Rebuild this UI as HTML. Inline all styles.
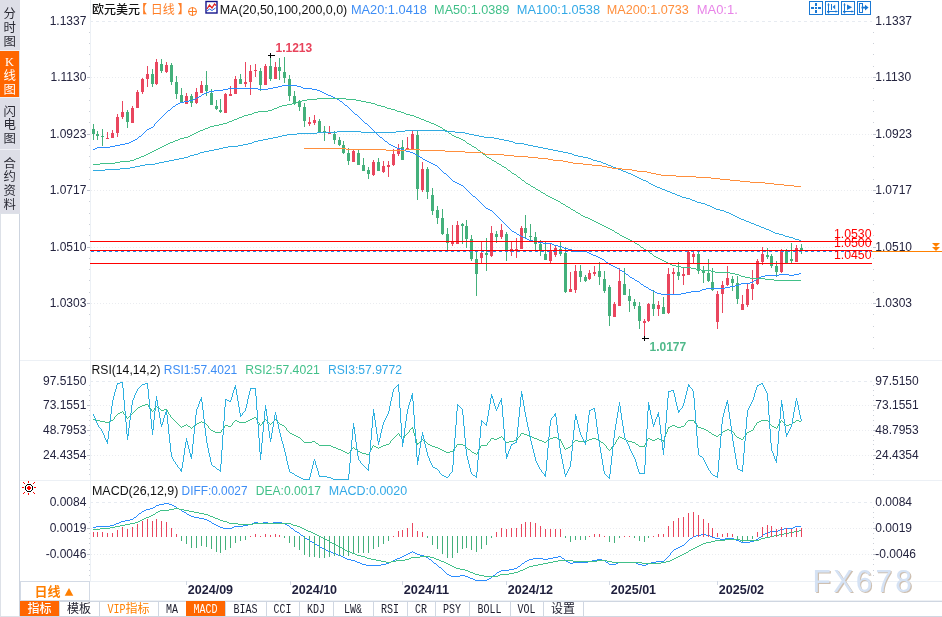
<!DOCTYPE html>
<html lang="zh"><head><meta charset="utf-8"><title>欧元美元 日线</title>
<style>html,body{margin:0;padding:0;background:#fff}body{width:942px;height:617px;overflow:hidden}svg{display:block}text{font-family:'Liberation Sans','Noto Sans CJK SC',sans-serif}</style>
</head><body>
<svg width="942" height="617" viewBox="0 0 942 617">
<rect width="942" height="617" fill="#fff"/>
<g id="sidebar">
<rect x="0" y="0" width="20" height="213" fill="#dddee7"/>
<rect x="0" y="51" width="19" height="46" fill="#ff6600"/>
<rect x="0" y="97" width="20" height="1" fill="#eff0f5" shape-rendering="crispEdges"/>
<rect x="0" y="149" width="20" height="1" fill="#eff0f5" shape-rendering="crispEdges"/>
<rect x="0" y="50" width="20" height="1" fill="#eff0f5" shape-rendering="crispEdges"/>
<rect x="0" y="213" width="1" height="404" fill="#dde1e8" shape-rendering="crispEdges"/>
<rect x="19" y="213" width="1" height="404" fill="#cdd4df" shape-rendering="crispEdges"/>
<rect x="0" y="213" width="20" height="1" fill="#dde1e8" shape-rendering="crispEdges"/>
<rect x="0" y="616" width="20" height="1" fill="#dde1e8" shape-rendering="crispEdges"/>
<text x="9.6" y="18.0" font-size="12.4" text-anchor="middle" fill="#2a2a34">分</text>
<text x="9.6" y="31.8" font-size="12.4" text-anchor="middle" fill="#2a2a34">时</text>
<text x="9.6" y="45.6" font-size="12.4" text-anchor="middle" fill="#2a2a34">图</text>
<text x="9.6" y="66.2" font-size="12.4" text-anchor="middle" fill="#fff" style="font-family:'Liberation Serif',serif">K</text>
<text x="9.6" y="80.0" font-size="12.4" text-anchor="middle" fill="#fff">线</text>
<text x="9.6" y="93.8" font-size="12.4" text-anchor="middle" fill="#fff">图</text>
<text x="9.6" y="115.6" font-size="12.4" text-anchor="middle" fill="#2a2a34">闪</text>
<text x="9.6" y="129.4" font-size="12.4" text-anchor="middle" fill="#2a2a34">电</text>
<text x="9.6" y="143.2" font-size="12.4" text-anchor="middle" fill="#2a2a34">图</text>
<text x="9.6" y="167.6" font-size="12.4" text-anchor="middle" fill="#2a2a34">合</text>
<text x="9.6" y="181.4" font-size="12.4" text-anchor="middle" fill="#2a2a34">约</text>
<text x="9.6" y="195.2" font-size="12.4" text-anchor="middle" fill="#2a2a34">资</text>
<text x="9.6" y="209.0" font-size="12.4" text-anchor="middle" fill="#2a2a34">料</text>
</g>
<rect x="90" y="0" width="1" height="581" fill="#ecf0f5" shape-rendering="crispEdges"/>
<rect x="20" y="360" width="922" height="1" fill="#ecf0f5" shape-rendering="crispEdges"/>
<rect x="20" y="480" width="922" height="1" fill="#ecf0f5" shape-rendering="crispEdges"/>
<rect x="20" y="581" width="922" height="1" fill="#ecf0f5" shape-rendering="crispEdges"/>
<rect x="20" y="600" width="922" height="1" fill="#eef1f5" shape-rendering="crispEdges"/>
<rect x="20" y="601" width="922" height="1" fill="#cfd6e1" shape-rendering="crispEdges"/>
<g shape-rendering="crispEdges"><rect x="89" y="32" width="1" height="1" fill="#ccd0d8"/><rect x="873" y="32" width="1" height="1" fill="#ccd0d8"/><rect x="89" y="43" width="1" height="1" fill="#ccd0d8"/><rect x="873" y="43" width="1" height="1" fill="#ccd0d8"/><rect x="89" y="54" width="1" height="1" fill="#ccd0d8"/><rect x="873" y="54" width="1" height="1" fill="#ccd0d8"/><rect x="89" y="66" width="1" height="1" fill="#ccd0d8"/><rect x="873" y="66" width="1" height="1" fill="#ccd0d8"/><rect x="87" y="77" width="3" height="1" fill="#bfc3cd"/><rect x="873" y="77" width="3" height="1" fill="#bfc3cd"/><rect x="89" y="88" width="1" height="1" fill="#ccd0d8"/><rect x="873" y="88" width="1" height="1" fill="#ccd0d8"/><rect x="89" y="100" width="1" height="1" fill="#ccd0d8"/><rect x="873" y="100" width="1" height="1" fill="#ccd0d8"/><rect x="89" y="111" width="1" height="1" fill="#ccd0d8"/><rect x="873" y="111" width="1" height="1" fill="#ccd0d8"/><rect x="89" y="122" width="1" height="1" fill="#ccd0d8"/><rect x="873" y="122" width="1" height="1" fill="#ccd0d8"/><rect x="87" y="134" width="3" height="1" fill="#bfc3cd"/><rect x="873" y="134" width="3" height="1" fill="#bfc3cd"/><rect x="89" y="145" width="1" height="1" fill="#ccd0d8"/><rect x="873" y="145" width="1" height="1" fill="#ccd0d8"/><rect x="89" y="156" width="1" height="1" fill="#ccd0d8"/><rect x="873" y="156" width="1" height="1" fill="#ccd0d8"/><rect x="89" y="167" width="1" height="1" fill="#ccd0d8"/><rect x="873" y="167" width="1" height="1" fill="#ccd0d8"/><rect x="89" y="179" width="1" height="1" fill="#ccd0d8"/><rect x="873" y="179" width="1" height="1" fill="#ccd0d8"/><rect x="87" y="190" width="3" height="1" fill="#bfc3cd"/><rect x="873" y="190" width="3" height="1" fill="#bfc3cd"/><rect x="89" y="201" width="1" height="1" fill="#ccd0d8"/><rect x="873" y="201" width="1" height="1" fill="#ccd0d8"/><rect x="89" y="213" width="1" height="1" fill="#ccd0d8"/><rect x="873" y="213" width="1" height="1" fill="#ccd0d8"/><rect x="89" y="224" width="1" height="1" fill="#ccd0d8"/><rect x="873" y="224" width="1" height="1" fill="#ccd0d8"/><rect x="89" y="235" width="1" height="1" fill="#ccd0d8"/><rect x="873" y="235" width="1" height="1" fill="#ccd0d8"/><rect x="87" y="247" width="3" height="1" fill="#bfc3cd"/><rect x="873" y="247" width="3" height="1" fill="#bfc3cd"/><rect x="89" y="258" width="1" height="1" fill="#ccd0d8"/><rect x="873" y="258" width="1" height="1" fill="#ccd0d8"/><rect x="89" y="269" width="1" height="1" fill="#ccd0d8"/><rect x="873" y="269" width="1" height="1" fill="#ccd0d8"/><rect x="89" y="280" width="1" height="1" fill="#ccd0d8"/><rect x="873" y="280" width="1" height="1" fill="#ccd0d8"/><rect x="89" y="292" width="1" height="1" fill="#ccd0d8"/><rect x="873" y="292" width="1" height="1" fill="#ccd0d8"/><rect x="87" y="303" width="3" height="1" fill="#bfc3cd"/><rect x="873" y="303" width="3" height="1" fill="#bfc3cd"/><rect x="89" y="314" width="1" height="1" fill="#ccd0d8"/><rect x="873" y="314" width="1" height="1" fill="#ccd0d8"/><rect x="89" y="326" width="1" height="1" fill="#ccd0d8"/><rect x="873" y="326" width="1" height="1" fill="#ccd0d8"/><rect x="89" y="337" width="1" height="1" fill="#ccd0d8"/><rect x="873" y="337" width="1" height="1" fill="#ccd0d8"/><rect x="89" y="348" width="1" height="1" fill="#ccd0d8"/><rect x="873" y="348" width="1" height="1" fill="#ccd0d8"/></g>
<line x1="90" y1="21.5" x2="872" y2="21.5" stroke="#e7ebf1" stroke-width="1" stroke-dasharray="3 3" shape-rendering="crispEdges"/>
<text x="86.4" y="24.9" font-size="12" text-anchor="end" fill="#24243f">1.1337</text>
<text x="875.3" y="24.9" font-size="12" fill="#24243f">1.1337</text>
<line x1="91" y1="77.5" x2="872" y2="77.5" stroke="#eaecf0" stroke-width="1" stroke-dasharray="1 2" shape-rendering="crispEdges"/>
<text x="86.4" y="80.9" font-size="12" text-anchor="end" fill="#24243f">1.1130</text>
<text x="875.3" y="80.9" font-size="12" fill="#24243f">1.1130</text>
<line x1="91" y1="134.5" x2="872" y2="134.5" stroke="#eaecf0" stroke-width="1" stroke-dasharray="1 2" shape-rendering="crispEdges"/>
<text x="86.4" y="137.9" font-size="12" text-anchor="end" fill="#24243f">1.0923</text>
<text x="875.3" y="137.9" font-size="12" fill="#24243f">1.0923</text>
<line x1="91" y1="190.5" x2="872" y2="190.5" stroke="#eaecf0" stroke-width="1" stroke-dasharray="1 2" shape-rendering="crispEdges"/>
<text x="86.4" y="193.9" font-size="12" text-anchor="end" fill="#24243f">1.0717</text>
<text x="875.3" y="193.9" font-size="12" fill="#24243f">1.0717</text>
<line x1="91" y1="247.5" x2="872" y2="247.5" stroke="#eaecf0" stroke-width="1" stroke-dasharray="1 2" shape-rendering="crispEdges"/>
<text x="86.4" y="250.9" font-size="12" text-anchor="end" fill="#24243f">1.0510</text>
<text x="875.3" y="250.9" font-size="12" fill="#24243f">1.0510</text>
<line x1="91" y1="303.5" x2="872" y2="303.5" stroke="#eaecf0" stroke-width="1" stroke-dasharray="1 2" shape-rendering="crispEdges"/>
<text x="86.4" y="306.9" font-size="12" text-anchor="end" fill="#24243f">1.0303</text>
<text x="875.3" y="306.9" font-size="12" fill="#24243f">1.0303</text>
<g shape-rendering="crispEdges"><rect x="89" y="385" width="1" height="1" fill="#ccd0d8"/><rect x="873" y="385" width="1" height="1" fill="#ccd0d8"/><rect x="89" y="390" width="1" height="1" fill="#ccd0d8"/><rect x="873" y="390" width="1" height="1" fill="#ccd0d8"/><rect x="89" y="395" width="1" height="1" fill="#ccd0d8"/><rect x="873" y="395" width="1" height="1" fill="#ccd0d8"/><rect x="89" y="400" width="1" height="1" fill="#ccd0d8"/><rect x="873" y="400" width="1" height="1" fill="#ccd0d8"/><rect x="87" y="405" width="3" height="1" fill="#bfc3cd"/><rect x="873" y="405" width="3" height="1" fill="#bfc3cd"/><rect x="89" y="410" width="1" height="1" fill="#ccd0d8"/><rect x="873" y="410" width="1" height="1" fill="#ccd0d8"/><rect x="89" y="415" width="1" height="1" fill="#ccd0d8"/><rect x="873" y="415" width="1" height="1" fill="#ccd0d8"/><rect x="89" y="420" width="1" height="1" fill="#ccd0d8"/><rect x="873" y="420" width="1" height="1" fill="#ccd0d8"/><rect x="89" y="425" width="1" height="1" fill="#ccd0d8"/><rect x="873" y="425" width="1" height="1" fill="#ccd0d8"/><rect x="87" y="430" width="3" height="1" fill="#bfc3cd"/><rect x="873" y="430" width="3" height="1" fill="#bfc3cd"/><rect x="89" y="435" width="1" height="1" fill="#ccd0d8"/><rect x="873" y="435" width="1" height="1" fill="#ccd0d8"/><rect x="89" y="440" width="1" height="1" fill="#ccd0d8"/><rect x="873" y="440" width="1" height="1" fill="#ccd0d8"/><rect x="89" y="444" width="1" height="1" fill="#ccd0d8"/><rect x="873" y="444" width="1" height="1" fill="#ccd0d8"/><rect x="89" y="449" width="1" height="1" fill="#ccd0d8"/><rect x="873" y="449" width="1" height="1" fill="#ccd0d8"/><rect x="87" y="455" width="3" height="1" fill="#bfc3cd"/><rect x="873" y="455" width="3" height="1" fill="#bfc3cd"/><rect x="89" y="459" width="1" height="1" fill="#ccd0d8"/><rect x="873" y="459" width="1" height="1" fill="#ccd0d8"/><rect x="89" y="464" width="1" height="1" fill="#ccd0d8"/><rect x="873" y="464" width="1" height="1" fill="#ccd0d8"/><rect x="89" y="469" width="1" height="1" fill="#ccd0d8"/><rect x="873" y="469" width="1" height="1" fill="#ccd0d8"/><rect x="89" y="474" width="1" height="1" fill="#ccd0d8"/><rect x="873" y="474" width="1" height="1" fill="#ccd0d8"/></g>
<line x1="90" y1="381.5" x2="872" y2="381.5" stroke="#e7ebf1" stroke-width="1" stroke-dasharray="3 3" shape-rendering="crispEdges"/>
<text x="86.4" y="384.9" font-size="12" text-anchor="end" fill="#24243f">97.5150</text>
<text x="875.3" y="384.9" font-size="12" fill="#24243f">97.5150</text>
<line x1="91" y1="405.5" x2="872" y2="405.5" stroke="#eaecf0" stroke-width="1" stroke-dasharray="1 2" shape-rendering="crispEdges"/>
<text x="86.4" y="408.9" font-size="12" text-anchor="end" fill="#24243f">73.1551</text>
<text x="875.3" y="408.9" font-size="12" fill="#24243f">73.1551</text>
<line x1="91" y1="430.5" x2="872" y2="430.5" stroke="#eaecf0" stroke-width="1" stroke-dasharray="1 2" shape-rendering="crispEdges"/>
<text x="86.4" y="433.9" font-size="12" text-anchor="end" fill="#24243f">48.7953</text>
<text x="875.3" y="433.9" font-size="12" fill="#24243f">48.7953</text>
<line x1="91" y1="455.5" x2="872" y2="455.5" stroke="#eaecf0" stroke-width="1" stroke-dasharray="1 2" shape-rendering="crispEdges"/>
<text x="86.4" y="458.9" font-size="12" text-anchor="end" fill="#24243f">24.4354</text>
<text x="875.3" y="458.9" font-size="12" fill="#24243f">24.4354</text>
<g shape-rendering="crispEdges"><rect x="89" y="507" width="1" height="1" fill="#ccd0d8"/><rect x="873" y="507" width="1" height="1" fill="#ccd0d8"/><rect x="89" y="512" width="1" height="1" fill="#ccd0d8"/><rect x="873" y="512" width="1" height="1" fill="#ccd0d8"/><rect x="89" y="517" width="1" height="1" fill="#ccd0d8"/><rect x="873" y="517" width="1" height="1" fill="#ccd0d8"/><rect x="89" y="522" width="1" height="1" fill="#ccd0d8"/><rect x="873" y="522" width="1" height="1" fill="#ccd0d8"/><rect x="87" y="528" width="3" height="1" fill="#bfc3cd"/><rect x="873" y="528" width="3" height="1" fill="#bfc3cd"/><rect x="89" y="533" width="1" height="1" fill="#ccd0d8"/><rect x="873" y="533" width="1" height="1" fill="#ccd0d8"/><rect x="89" y="538" width="1" height="1" fill="#ccd0d8"/><rect x="873" y="538" width="1" height="1" fill="#ccd0d8"/><rect x="89" y="543" width="1" height="1" fill="#ccd0d8"/><rect x="873" y="543" width="1" height="1" fill="#ccd0d8"/><rect x="89" y="549" width="1" height="1" fill="#ccd0d8"/><rect x="873" y="549" width="1" height="1" fill="#ccd0d8"/><rect x="87" y="554" width="3" height="1" fill="#bfc3cd"/><rect x="873" y="554" width="3" height="1" fill="#bfc3cd"/><rect x="89" y="559" width="1" height="1" fill="#ccd0d8"/><rect x="873" y="559" width="1" height="1" fill="#ccd0d8"/><rect x="89" y="564" width="1" height="1" fill="#ccd0d8"/><rect x="873" y="564" width="1" height="1" fill="#ccd0d8"/><rect x="89" y="570" width="1" height="1" fill="#ccd0d8"/><rect x="873" y="570" width="1" height="1" fill="#ccd0d8"/><rect x="89" y="575" width="1" height="1" fill="#ccd0d8"/><rect x="873" y="575" width="1" height="1" fill="#ccd0d8"/></g>
<line x1="90" y1="502.5" x2="872" y2="502.5" stroke="#e7ebf1" stroke-width="1" stroke-dasharray="3 3" shape-rendering="crispEdges"/>
<text x="86.4" y="505.9" font-size="12" text-anchor="end" fill="#24243f">0.0084</text>
<text x="875.3" y="505.9" font-size="12" fill="#24243f">0.0084</text>
<line x1="91" y1="528.5" x2="872" y2="528.5" stroke="#eaecf0" stroke-width="1" stroke-dasharray="1 2" shape-rendering="crispEdges"/>
<text x="86.4" y="531.9" font-size="12" text-anchor="end" fill="#24243f">0.0019</text>
<text x="875.3" y="531.9" font-size="12" fill="#24243f">0.0019</text>
<line x1="91" y1="554.5" x2="872" y2="554.5" stroke="#eaecf0" stroke-width="1" stroke-dasharray="1 2" shape-rendering="crispEdges"/>
<text x="86.4" y="557.9" font-size="12" text-anchor="end" fill="#24243f">-0.0046</text>
<text x="875.3" y="557.9" font-size="12" fill="#24243f">-0.0046</text>
<rect x="90" y="0" width="1" height="581" fill="#ecf0f5" shape-rendering="crispEdges"/>
<g id="candles" shape-rendering="crispEdges">
<rect x="93" y="124" width="1" height="16" fill="#44b07b"/><rect x="92" y="129" width="3" height="5" fill="#44b07b"/>
<rect x="97" y="131" width="1" height="9" fill="#44b07b"/><rect x="96" y="134" width="3" height="2" fill="#44b07b"/>
<rect x="102" y="129" width="1" height="17" fill="#44b07b"/><rect x="101" y="136" width="3" height="1" fill="#44b07b"/>
<rect x="107" y="132" width="1" height="7" fill="#e9465e"/><rect x="106" y="138" width="3" height="1" fill="#e9465e"/>
<rect x="112" y="130" width="1" height="8" fill="#e9465e"/><rect x="111" y="133" width="3" height="5" fill="#e9465e"/>
<rect x="117" y="114" width="1" height="23" fill="#e9465e"/><rect x="116" y="117" width="3" height="16" fill="#e9465e"/>
<rect x="122" y="101" width="1" height="18" fill="#e9465e"/><rect x="121" y="112" width="3" height="5" fill="#e9465e"/>
<rect x="127" y="110" width="1" height="18" fill="#44b07b"/><rect x="126" y="112" width="3" height="10" fill="#44b07b"/>
<rect x="132" y="106" width="1" height="17" fill="#e9465e"/><rect x="131" y="108" width="3" height="15" fill="#e9465e"/>
<rect x="137" y="90" width="1" height="18" fill="#e9465e"/><rect x="136" y="92" width="3" height="16" fill="#e9465e"/>
<rect x="142" y="78" width="1" height="16" fill="#e9465e"/><rect x="141" y="79" width="3" height="13" fill="#e9465e"/>
<rect x="147" y="66" width="1" height="21" fill="#e9465e"/><rect x="146" y="74" width="3" height="5" fill="#e9465e"/>
<rect x="152" y="69" width="1" height="18" fill="#44b07b"/><rect x="151" y="74" width="3" height="10" fill="#44b07b"/>
<rect x="156" y="59" width="1" height="26" fill="#e9465e"/><rect x="155" y="62" width="3" height="22" fill="#e9465e"/>
<rect x="161" y="59" width="1" height="14" fill="#44b07b"/><rect x="160" y="64" width="3" height="7" fill="#44b07b"/>
<rect x="166" y="62" width="1" height="11" fill="#e9465e"/><rect x="165" y="65" width="3" height="7" fill="#e9465e"/>
<rect x="171" y="63" width="1" height="22" fill="#44b07b"/><rect x="170" y="65" width="3" height="17" fill="#44b07b"/>
<rect x="176" y="76" width="1" height="23" fill="#44b07b"/><rect x="175" y="82" width="3" height="12" fill="#44b07b"/>
<rect x="181" y="88" width="1" height="15" fill="#44b07b"/><rect x="180" y="95" width="3" height="7" fill="#44b07b"/>
<rect x="186" y="93" width="1" height="11" fill="#e9465e"/><rect x="185" y="96" width="3" height="8" fill="#e9465e"/>
<rect x="191" y="94" width="1" height="13" fill="#44b07b"/><rect x="190" y="96" width="3" height="7" fill="#44b07b"/>
<rect x="196" y="88" width="1" height="16" fill="#e9465e"/><rect x="195" y="92" width="3" height="11" fill="#e9465e"/>
<rect x="201" y="81" width="1" height="12" fill="#e9465e"/><rect x="200" y="85" width="3" height="8" fill="#e9465e"/>
<rect x="206" y="71" width="1" height="25" fill="#44b07b"/><rect x="205" y="85" width="3" height="6" fill="#44b07b"/>
<rect x="211" y="89" width="1" height="16" fill="#44b07b"/><rect x="210" y="93" width="3" height="12" fill="#44b07b"/>
<rect x="216" y="100" width="1" height="10" fill="#44b07b"/><rect x="215" y="106" width="3" height="3" fill="#44b07b"/>
<rect x="220" y="99" width="1" height="14" fill="#44b07b"/><rect x="219" y="110" width="3" height="2" fill="#44b07b"/>
<rect x="225" y="93" width="1" height="20" fill="#e9465e"/><rect x="224" y="94" width="3" height="19" fill="#e9465e"/>
<rect x="230" y="86" width="1" height="10" fill="#e9465e"/><rect x="229" y="94" width="3" height="2" fill="#e9465e"/>
<rect x="235" y="76" width="1" height="18" fill="#e9465e"/><rect x="234" y="79" width="3" height="15" fill="#e9465e"/>
<rect x="240" y="74" width="1" height="10" fill="#44b07b"/><rect x="239" y="79" width="3" height="5" fill="#44b07b"/>
<rect x="245" y="62" width="1" height="25" fill="#e9465e"/><rect x="244" y="82" width="3" height="2" fill="#e9465e"/>
<rect x="250" y="65" width="1" height="30" fill="#e9465e"/><rect x="249" y="71" width="3" height="11" fill="#e9465e"/>
<rect x="255" y="64" width="1" height="13" fill="#e9465e"/><rect x="254" y="70" width="3" height="1" fill="#e9465e"/>
<rect x="260" y="68" width="1" height="23" fill="#44b07b"/><rect x="259" y="71" width="3" height="14" fill="#44b07b"/>
<rect x="265" y="64" width="1" height="21" fill="#e9465e"/><rect x="264" y="66" width="3" height="19" fill="#e9465e"/>
<rect x="270" y="56" width="1" height="25" fill="#44b07b"/><rect x="269" y="66" width="3" height="13" fill="#44b07b"/>
<rect x="275" y="62" width="1" height="17" fill="#e9465e"/><rect x="274" y="67" width="3" height="12" fill="#e9465e"/>
<rect x="279" y="58" width="1" height="22" fill="#44b07b"/><rect x="278" y="67" width="3" height="4" fill="#44b07b"/>
<rect x="284" y="57" width="1" height="26" fill="#44b07b"/><rect x="283" y="72" width="3" height="6" fill="#44b07b"/>
<rect x="289" y="75" width="1" height="26" fill="#44b07b"/><rect x="288" y="79" width="3" height="17" fill="#44b07b"/>
<rect x="294" y="91" width="1" height="14" fill="#44b07b"/><rect x="293" y="96" width="3" height="7" fill="#44b07b"/>
<rect x="299" y="100" width="1" height="11" fill="#44b07b"/><rect x="298" y="102" width="3" height="5" fill="#44b07b"/>
<rect x="304" y="103" width="1" height="24" fill="#44b07b"/><rect x="303" y="107" width="3" height="14" fill="#44b07b"/>
<rect x="309" y="117" width="1" height="9" fill="#e9465e"/><rect x="308" y="122" width="3" height="2" fill="#e9465e"/>
<rect x="314" y="115" width="1" height="10" fill="#e9465e"/><rect x="313" y="120" width="3" height="3" fill="#e9465e"/>
<rect x="319" y="119" width="1" height="13" fill="#44b07b"/><rect x="318" y="121" width="3" height="11" fill="#44b07b"/>
<rect x="324" y="126" width="1" height="15" fill="#44b07b"/><rect x="323" y="131" width="3" height="1" fill="#44b07b"/>
<rect x="329" y="126" width="1" height="8" fill="#e9465e"/><rect x="328" y="133" width="3" height="1" fill="#e9465e"/>
<rect x="334" y="131" width="1" height="13" fill="#44b07b"/><rect x="333" y="134" width="3" height="6" fill="#44b07b"/>
<rect x="339" y="137" width="1" height="9" fill="#44b07b"/><rect x="338" y="140" width="3" height="5" fill="#44b07b"/>
<rect x="343" y="141" width="1" height="13" fill="#44b07b"/><rect x="342" y="145" width="3" height="8" fill="#44b07b"/>
<rect x="348" y="148" width="1" height="17" fill="#44b07b"/><rect x="347" y="153" width="3" height="8" fill="#44b07b"/>
<rect x="353" y="150" width="1" height="12" fill="#e9465e"/><rect x="352" y="151" width="3" height="11" fill="#e9465e"/>
<rect x="358" y="150" width="1" height="15" fill="#44b07b"/><rect x="357" y="153" width="3" height="12" fill="#44b07b"/>
<rect x="363" y="158" width="1" height="13" fill="#44b07b"/><rect x="362" y="165" width="3" height="6" fill="#44b07b"/>
<rect x="368" y="167" width="1" height="12" fill="#44b07b"/><rect x="367" y="170" width="3" height="4" fill="#44b07b"/>
<rect x="373" y="160" width="1" height="16" fill="#e9465e"/><rect x="372" y="162" width="3" height="13" fill="#e9465e"/>
<rect x="378" y="158" width="1" height="13" fill="#44b07b"/><rect x="377" y="162" width="3" height="9" fill="#44b07b"/>
<rect x="383" y="161" width="1" height="12" fill="#e9465e"/><rect x="382" y="166" width="3" height="6" fill="#e9465e"/>
<rect x="388" y="161" width="1" height="16" fill="#e9465e"/><rect x="387" y="165" width="3" height="2" fill="#e9465e"/>
<rect x="393" y="149" width="1" height="17" fill="#e9465e"/><rect x="392" y="154" width="3" height="11" fill="#e9465e"/>
<rect x="398" y="144" width="1" height="12" fill="#e9465e"/><rect x="397" y="148" width="3" height="6" fill="#e9465e"/>
<rect x="402" y="140" width="1" height="20" fill="#44b07b"/><rect x="401" y="147" width="3" height="13" fill="#44b07b"/>
<rect x="407" y="137" width="1" height="12" fill="#e9465e"/><rect x="406" y="148" width="3" height="1" fill="#e9465e"/>
<rect x="412" y="131" width="1" height="18" fill="#e9465e"/><rect x="411" y="134" width="3" height="15" fill="#e9465e"/>
<rect x="417" y="131" width="1" height="69" fill="#44b07b"/><rect x="416" y="135" width="3" height="54" fill="#44b07b"/>
<rect x="422" y="162" width="1" height="30" fill="#e9465e"/><rect x="421" y="169" width="3" height="21" fill="#e9465e"/>
<rect x="427" y="167" width="1" height="32" fill="#44b07b"/><rect x="426" y="169" width="3" height="23" fill="#44b07b"/>
<rect x="432" y="188" width="1" height="27" fill="#44b07b"/><rect x="431" y="195" width="3" height="16" fill="#44b07b"/>
<rect x="437" y="206" width="1" height="18" fill="#44b07b"/><rect x="436" y="210" width="3" height="8" fill="#44b07b"/>
<rect x="442" y="209" width="1" height="26" fill="#44b07b"/><rect x="441" y="218" width="3" height="16" fill="#44b07b"/>
<rect x="447" y="228" width="1" height="22" fill="#44b07b"/><rect x="446" y="234" width="3" height="9" fill="#44b07b"/>
<rect x="452" y="225" width="1" height="21" fill="#e9465e"/><rect x="451" y="242" width="3" height="2" fill="#e9465e"/>
<rect x="457" y="221" width="1" height="23" fill="#e9465e"/><rect x="456" y="225" width="3" height="19" fill="#e9465e"/>
<rect x="462" y="223" width="1" height="21" fill="#44b07b"/><rect x="461" y="224" width="3" height="2" fill="#44b07b"/>
<rect x="466" y="220" width="1" height="28" fill="#44b07b"/><rect x="465" y="226" width="3" height="13" fill="#44b07b"/>
<rect x="471" y="235" width="1" height="26" fill="#44b07b"/><rect x="470" y="239" width="3" height="20" fill="#44b07b"/>
<rect x="476" y="252" width="1" height="44" fill="#44b07b"/><rect x="475" y="259" width="3" height="15" fill="#44b07b"/>
<rect x="481" y="242" width="1" height="21" fill="#e9465e"/><rect x="480" y="253" width="3" height="5" fill="#e9465e"/>
<rect x="486" y="238" width="1" height="33" fill="#44b07b"/><rect x="485" y="253" width="3" height="2" fill="#44b07b"/>
<rect x="491" y="226" width="1" height="31" fill="#e9465e"/><rect x="490" y="233" width="3" height="23" fill="#e9465e"/>
<rect x="496" y="231" width="1" height="12" fill="#44b07b"/><rect x="495" y="234" width="3" height="3" fill="#44b07b"/>
<rect x="501" y="224" width="1" height="15" fill="#e9465e"/><rect x="500" y="230" width="3" height="7" fill="#e9465e"/>
<rect x="506" y="232" width="1" height="29" fill="#44b07b"/><rect x="505" y="234" width="3" height="17" fill="#44b07b"/>
<rect x="511" y="242" width="1" height="14" fill="#e9465e"/><rect x="510" y="249" width="3" height="3" fill="#e9465e"/>
<rect x="516" y="238" width="1" height="20" fill="#e9465e"/><rect x="515" y="249" width="3" height="2" fill="#e9465e"/>
<rect x="521" y="226" width="1" height="23" fill="#e9465e"/><rect x="520" y="228" width="3" height="21" fill="#e9465e"/>
<rect x="525" y="215" width="1" height="23" fill="#44b07b"/><rect x="524" y="228" width="3" height="5" fill="#44b07b"/>
<rect x="530" y="224" width="1" height="16" fill="#44b07b"/><rect x="529" y="236" width="3" height="1" fill="#44b07b"/>
<rect x="535" y="232" width="1" height="19" fill="#44b07b"/><rect x="534" y="237" width="3" height="7" fill="#44b07b"/>
<rect x="540" y="240" width="1" height="16" fill="#44b07b"/><rect x="539" y="244" width="3" height="7" fill="#44b07b"/>
<rect x="545" y="242" width="1" height="18" fill="#44b07b"/><rect x="544" y="254" width="3" height="6" fill="#44b07b"/>
<rect x="550" y="244" width="1" height="19" fill="#e9465e"/><rect x="549" y="251" width="3" height="10" fill="#e9465e"/>
<rect x="555" y="245" width="1" height="12" fill="#e9465e"/><rect x="554" y="248" width="3" height="7" fill="#e9465e"/>
<rect x="560" y="242" width="1" height="14" fill="#44b07b"/><rect x="559" y="249" width="3" height="5" fill="#44b07b"/>
<rect x="565" y="247" width="1" height="46" fill="#44b07b"/><rect x="564" y="253" width="3" height="39" fill="#44b07b"/>
<rect x="570" y="272" width="1" height="20" fill="#e9465e"/><rect x="569" y="289" width="3" height="3" fill="#e9465e"/>
<rect x="575" y="265" width="1" height="28" fill="#e9465e"/><rect x="574" y="271" width="3" height="19" fill="#e9465e"/>
<rect x="580" y="265" width="1" height="17" fill="#44b07b"/><rect x="579" y="271" width="3" height="6" fill="#44b07b"/>
<rect x="585" y="275" width="1" height="7" fill="#44b07b"/><rect x="584" y="277" width="3" height="4" fill="#44b07b"/>
<rect x="589" y="270" width="1" height="10" fill="#e9465e"/><rect x="588" y="273" width="3" height="6" fill="#e9465e"/>
<rect x="594" y="266" width="1" height="10" fill="#e9465e"/><rect x="593" y="272" width="3" height="2" fill="#e9465e"/>
<rect x="599" y="262" width="1" height="23" fill="#44b07b"/><rect x="598" y="271" width="3" height="6" fill="#44b07b"/>
<rect x="604" y="271" width="1" height="22" fill="#44b07b"/><rect x="603" y="279" width="3" height="12" fill="#44b07b"/>
<rect x="609" y="285" width="1" height="41" fill="#44b07b"/><rect x="608" y="287" width="3" height="29" fill="#44b07b"/>
<rect x="614" y="302" width="1" height="15" fill="#e9465e"/><rect x="613" y="304" width="3" height="13" fill="#e9465e"/>
<rect x="619" y="268" width="1" height="38" fill="#e9465e"/><rect x="618" y="281" width="3" height="25" fill="#e9465e"/>
<rect x="624" y="268" width="1" height="27" fill="#44b07b"/><rect x="623" y="284" width="3" height="11" fill="#44b07b"/>
<rect x="629" y="289" width="1" height="23" fill="#44b07b"/><rect x="628" y="296" width="3" height="5" fill="#44b07b"/>
<rect x="634" y="299" width="1" height="10" fill="#44b07b"/><rect x="633" y="302" width="3" height="4" fill="#44b07b"/>
<rect x="639" y="302" width="1" height="27" fill="#44b07b"/><rect x="638" y="306" width="3" height="15" fill="#44b07b"/>
<rect x="644" y="319" width="1" height="20" fill="#e9465e"/><rect x="643" y="321" width="3" height="2" fill="#e9465e"/>
<rect x="648" y="303" width="1" height="19" fill="#e9465e"/><rect x="647" y="304" width="3" height="17" fill="#e9465e"/>
<rect x="653" y="290" width="1" height="26" fill="#44b07b"/><rect x="652" y="304" width="3" height="5" fill="#44b07b"/>
<rect x="658" y="301" width="1" height="15" fill="#e9465e"/><rect x="657" y="305" width="3" height="4" fill="#e9465e"/>
<rect x="663" y="297" width="1" height="17" fill="#44b07b"/><rect x="662" y="307" width="3" height="7" fill="#44b07b"/>
<rect x="668" y="268" width="1" height="46" fill="#e9465e"/><rect x="667" y="274" width="3" height="39" fill="#e9465e"/>
<rect x="673" y="268" width="1" height="26" fill="#e9465e"/><rect x="672" y="272" width="3" height="2" fill="#e9465e"/>
<rect x="678" y="262" width="1" height="18" fill="#44b07b"/><rect x="677" y="272" width="3" height="4" fill="#44b07b"/>
<rect x="683" y="268" width="1" height="17" fill="#e9465e"/><rect x="682" y="274" width="3" height="2" fill="#e9465e"/>
<rect x="688" y="250" width="1" height="25" fill="#e9465e"/><rect x="687" y="252" width="3" height="23" fill="#e9465e"/>
<rect x="693" y="252" width="1" height="11" fill="#e9465e"/><rect x="692" y="254" width="3" height="3" fill="#e9465e"/>
<rect x="698" y="252" width="1" height="22" fill="#44b07b"/><rect x="697" y="254" width="3" height="17" fill="#44b07b"/>
<rect x="703" y="266" width="1" height="17" fill="#44b07b"/><rect x="702" y="271" width="3" height="2" fill="#44b07b"/>
<rect x="708" y="259" width="1" height="23" fill="#44b07b"/><rect x="707" y="273" width="3" height="8" fill="#44b07b"/>
<rect x="712" y="268" width="1" height="23" fill="#44b07b"/><rect x="711" y="282" width="3" height="8" fill="#44b07b"/>
<rect x="717" y="291" width="1" height="38" fill="#e9465e"/><rect x="716" y="294" width="3" height="28" fill="#e9465e"/>
<rect x="722" y="281" width="1" height="32" fill="#e9465e"/><rect x="721" y="285" width="3" height="9" fill="#e9465e"/>
<rect x="727" y="266" width="1" height="20" fill="#e9465e"/><rect x="726" y="278" width="3" height="7" fill="#e9465e"/>
<rect x="732" y="276" width="1" height="15" fill="#44b07b"/><rect x="731" y="279" width="3" height="4" fill="#44b07b"/>
<rect x="737" y="276" width="1" height="28" fill="#44b07b"/><rect x="736" y="283" width="3" height="16" fill="#44b07b"/>
<rect x="742" y="295" width="1" height="15" fill="#e9465e"/><rect x="741" y="304" width="3" height="6" fill="#e9465e"/>
<rect x="747" y="284" width="1" height="23" fill="#e9465e"/><rect x="746" y="289" width="3" height="16" fill="#e9465e"/>
<rect x="752" y="270" width="1" height="30" fill="#e9465e"/><rect x="751" y="284" width="3" height="5" fill="#e9465e"/>
<rect x="757" y="259" width="1" height="26" fill="#e9465e"/><rect x="756" y="261" width="3" height="23" fill="#e9465e"/>
<rect x="762" y="247" width="1" height="18" fill="#e9465e"/><rect x="761" y="254" width="3" height="8" fill="#e9465e"/>
<rect x="767" y="248" width="1" height="11" fill="#44b07b"/><rect x="766" y="255" width="3" height="2" fill="#44b07b"/>
<rect x="771" y="254" width="1" height="14" fill="#44b07b"/><rect x="770" y="256" width="3" height="10" fill="#44b07b"/>
<rect x="776" y="261" width="1" height="16" fill="#44b07b"/><rect x="775" y="266" width="3" height="6" fill="#44b07b"/>
<rect x="781" y="249" width="1" height="24" fill="#e9465e"/><rect x="780" y="251" width="3" height="21" fill="#e9465e"/>
<rect x="786" y="249" width="1" height="14" fill="#44b07b"/><rect x="785" y="251" width="3" height="12" fill="#44b07b"/>
<rect x="791" y="243" width="1" height="20" fill="#44b07b"/><rect x="790" y="259" width="3" height="2" fill="#44b07b"/>
<rect x="796" y="245" width="1" height="17" fill="#e9465e"/><rect x="795" y="248" width="3" height="14" fill="#e9465e"/>
<rect x="801" y="244" width="1" height="10" fill="#44b07b"/><rect x="800" y="248" width="3" height="3" fill="#44b07b"/>
</g>
<path d="M282,85h15v1h-15zM278,86h4v1h-4zM297,86h4v1h-4zM273,87h5v1h-5zM301,87h2v1h-2zM228,88h30v1h-30zM268,88h5v1h-5zM303,88h9v1h-9zM223,89h5v1h-5zM258,89h10v1h-10zM312,89h5v1h-5zM214,90h9v1h-9zM317,90h3v1h-3zM209,91h5v1h-5zM320,91h2v1h-2zM206,92h3v1h-3zM322,92h2v1h-2zM204,93h2v1h-2zM324,93h2v1h-2zM202,94h2v1h-2zM326,94h2v1h-2zM201,95h1v1h-1zM328,95h3v1h-3zM199,96h2v1h-2zM331,96h2v1h-2zM197,97h2v1h-2zM333,97h2v1h-2zM195,98h2v1h-2zM335,98h2v1h-2zM193,99h2v1h-2zM337,99h2v1h-2zM189,100h4v1h-4zM339,100h1v1h-1zM184,101h5v1h-5zM340,101h2v1h-2zM180,102h4v1h-4zM342,102h1v1h-1zM178,103h2v1h-2zM343,103h1v1h-1zM176,104h2v1h-2zM344,104h1v1h-1zM175,105h1v1h-1zM345,105h2v1h-2zM173,106h2v1h-2zM347,106h1v1h-1zM172,107h1v1h-1zM348,107h1v1h-1zM171,108h1v1h-1zM349,108h1v1h-1zM170,109h1v1h-1zM350,109h1v1h-1zM168,110h2v1h-2zM351,110h1v1h-1zM167,111h1v1h-1zM352,111h1v1h-1zM166,112h1v1h-1zM353,112h1v1h-1zM165,113h1v1h-1zM354,113h1v1h-1zM164,114h1v1h-1zM355,114h2v1h-2zM163,115h1v1h-1zM357,115h1v1h-1zM162,116h1v1h-1zM358,116h1v1h-1zM161,117h1v1h-1zM359,117h1v1h-1zM160,118h1v1h-1zM360,118h1v1h-1zM159,119h1v1h-1zM361,119h1v1h-1zM158,120h1v1h-1zM362,120h1v1h-1zM157,121h1v1h-1zM363,121h1v1h-1zM156,122h1v1h-1zM364,122h1v1h-1zM155,123h1v1h-1zM365,123h2v1h-2zM154,124h1v1h-1zM367,124h1v1h-1zM154,125h1v1h-1zM368,125h1v1h-1zM153,126h1v1h-1zM369,126h1v1h-1zM151,127h2v1h-2zM370,127h1v1h-1zM149,128h2v1h-2zM371,128h1v1h-1zM147,129h2v1h-2zM372,129h1v1h-1zM146,130h1v1h-1zM373,130h1v1h-1zM145,131h1v1h-1zM374,131h1v1h-1zM144,132h1v1h-1zM375,132h1v1h-1zM143,133h1v1h-1zM376,133h1v1h-1zM142,134h1v1h-1zM377,134h1v1h-1zM141,135h1v1h-1zM378,135h1v1h-1zM139,136h2v1h-2zM379,136h1v1h-1zM138,137h1v1h-1zM380,137h2v1h-2zM137,138h1v1h-1zM382,138h1v1h-1zM135,139h2v1h-2zM383,139h1v1h-1zM133,140h2v1h-2zM384,140h1v1h-1zM131,141h2v1h-2zM385,141h2v1h-2zM129,142h2v1h-2zM387,142h1v1h-1zM125,143h4v1h-4zM388,143h1v1h-1zM120,144h5v1h-5zM389,144h2v1h-2zM115,145h5v1h-5zM391,145h2v1h-2zM110,146h5v1h-5zM393,146h2v1h-2zM97,147h13v1h-13zM395,147h2v1h-2zM95,148h2v1h-2zM397,148h4v1h-4zM93,149h2v1h-2zM401,149h3v1h-3zM404,150h2v1h-2zM406,151h4v1h-4zM410,152h3v1h-3zM413,153h2v1h-2zM415,154h2v1h-2zM417,155h1v1h-1zM418,156h2v1h-2zM420,157h2v1h-2zM422,158h1v1h-1zM423,159h2v1h-2zM425,160h2v1h-2zM427,161h2v1h-2zM429,162h2v1h-2zM431,163h2v1h-2zM433,164h2v1h-2zM435,165h2v1h-2zM437,166h1v1h-1zM438,167h1v1h-1zM439,168h1v1h-1zM440,169h1v1h-1zM441,170h1v1h-1zM442,171h1v1h-1zM443,172h1v1h-1zM444,173h2v1h-2zM446,174h1v1h-1zM447,175h1v1h-1zM448,176h1v1h-1zM449,177h1v1h-1zM450,178h1v1h-1zM451,179h1v1h-1zM452,180h1v1h-1zM453,181h2v1h-2zM455,182h2v1h-2zM457,183h2v1h-2zM459,184h2v1h-2zM461,185h2v1h-2zM463,186h1v1h-1zM464,187h1v1h-1zM465,188h1v1h-1zM466,189h1v1h-1zM467,190h1v1h-1zM468,191h1v1h-1zM469,192h1v1h-1zM470,193h1v1h-1zM471,194h1v1h-1zM472,195h1v1h-1zM473,196h2v1h-2zM475,197h1v1h-1zM476,198h1v1h-1zM477,199h1v1h-1zM478,200h1v1h-1zM479,201h1v1h-1zM480,202h1v1h-1zM481,203h1v1h-1zM482,204h1v1h-1zM483,205h1v1h-1zM484,206h1v1h-1zM485,207h1v1h-1zM486,208h2v1h-2zM488,209h2v1h-2zM490,210h2v1h-2zM492,211h1v1h-1zM493,212h1v1h-1zM494,213h1v1h-1zM495,214h1v1h-1zM496,215h1v1h-1zM497,216h1v1h-1zM498,217h1v1h-1zM499,218h1v1h-1zM500,219h1v1h-1zM501,220h1v1h-1zM502,221h1v1h-1zM503,222h1v1h-1zM504,223h1v1h-1zM505,224h1v1h-1zM506,225h1v1h-1zM507,226h1v1h-1zM508,227h1v1h-1zM509,228h1v1h-1zM510,229h1v1h-1zM511,230h1v1h-1zM512,231h2v1h-2zM514,232h2v1h-2zM516,233h1v1h-1zM517,234h2v1h-2zM519,235h2v1h-2zM521,236h2v1h-2zM523,237h2v1h-2zM525,238h2v1h-2zM527,239h2v1h-2zM529,240h4v1h-4zM533,241h5v1h-5zM538,242h5v1h-5zM543,243h9v1h-9zM552,244h2v1h-2zM554,245h4v1h-4zM558,246h4v1h-4zM562,247h2v1h-2zM564,248h4v1h-4zM568,249h4v1h-4zM572,250h2v1h-2zM574,251h13v1h-13zM587,252h2v1h-2zM589,253h2v1h-2zM591,254h2v1h-2zM593,255h3v1h-3zM596,256h2v1h-2zM598,257h2v1h-2zM600,258h2v1h-2zM602,259h2v1h-2zM604,260h1v1h-1zM605,261h1v1h-1zM606,262h2v1h-2zM608,263h1v1h-1zM609,264h2v1h-2zM611,265h2v1h-2zM613,266h2v1h-2zM615,267h2v1h-2zM617,268h2v1h-2zM619,269h1v1h-1zM620,270h2v1h-2zM622,271h2v1h-2zM624,272h1v1h-1zM625,273h1v1h-1zM799,273h2v1h-2zM626,274h2v1h-2zM779,274h10v1h-10zM794,274h5v1h-5zM628,275h1v1h-1zM765,275h14v1h-14zM789,275h5v1h-5zM629,276h1v1h-1zM761,276h4v1h-4zM630,277h2v1h-2zM759,277h2v1h-2zM632,278h2v1h-2zM757,278h2v1h-2zM634,279h1v1h-1zM756,279h1v1h-1zM635,280h2v1h-2zM754,280h2v1h-2zM637,281h2v1h-2zM753,281h1v1h-1zM639,282h1v1h-1zM750,282h3v1h-3zM640,283h1v1h-1zM741,283h9v1h-9zM641,284h2v1h-2zM739,284h2v1h-2zM643,285h1v1h-1zM735,285h4v1h-4zM644,286h2v1h-2zM730,286h5v1h-5zM646,287h2v1h-2zM725,287h5v1h-5zM648,288h1v1h-1zM706,288h19v1h-19zM649,289h2v1h-2zM702,289h4v1h-4zM651,290h2v1h-2zM700,290h2v1h-2zM653,291h2v1h-2zM691,291h9v1h-9zM655,292h2v1h-2zM686,292h5v1h-5zM657,293h4v1h-4zM681,293h5v1h-5zM661,294h20v1h-20z" fill="#2a8cff" shape-rendering="crispEdges"/>
<path d="M317,98h29v1h-29zM307,99h10v1h-10zM346,99h10v1h-10zM302,100h5v1h-5zM356,100h5v1h-5zM298,101h4v1h-4zM361,101h5v1h-5zM296,102h2v1h-2zM366,102h5v1h-5zM292,103h4v1h-4zM371,103h4v1h-4zM287,104h5v1h-5zM375,104h2v1h-2zM282,105h5v1h-5zM377,105h4v1h-4zM279,106h3v1h-3zM381,106h4v1h-4zM277,107h2v1h-2zM385,107h2v1h-2zM274,108h3v1h-3zM387,108h4v1h-4zM272,109h2v1h-2zM391,109h4v1h-4zM268,110h4v1h-4zM395,110h2v1h-2zM258,111h10v1h-10zM397,111h4v1h-4zM254,112h4v1h-4zM401,112h3v1h-3zM252,113h2v1h-2zM404,113h2v1h-2zM248,114h4v1h-4zM406,114h4v1h-4zM244,115h4v1h-4zM410,115h4v1h-4zM242,116h2v1h-2zM414,116h2v1h-2zM239,117h3v1h-3zM416,117h3v1h-3zM237,118h2v1h-2zM419,118h2v1h-2zM234,119h3v1h-3zM421,119h3v1h-3zM232,120h2v1h-2zM424,120h2v1h-2zM229,121h3v1h-3zM426,121h3v1h-3zM227,122h2v1h-2zM429,122h2v1h-2zM223,123h4v1h-4zM431,123h3v1h-3zM219,124h4v1h-4zM434,124h2v1h-2zM214,125h5v1h-5zM436,125h2v1h-2zM210,126h4v1h-4zM438,126h2v1h-2zM208,127h2v1h-2zM440,127h2v1h-2zM205,128h3v1h-3zM442,128h1v1h-1zM203,129h2v1h-2zM443,129h2v1h-2zM200,130h3v1h-3zM445,130h2v1h-2zM198,131h2v1h-2zM447,131h1v1h-1zM196,132h2v1h-2zM448,132h1v1h-1zM194,133h2v1h-2zM449,133h2v1h-2zM192,134h2v1h-2zM451,134h1v1h-1zM190,135h2v1h-2zM452,135h2v1h-2zM188,136h2v1h-2zM454,136h2v1h-2zM184,137h4v1h-4zM456,137h3v1h-3zM180,138h4v1h-4zM459,138h2v1h-2zM178,139h2v1h-2zM461,139h2v1h-2zM175,140h3v1h-3zM463,140h2v1h-2zM173,141h2v1h-2zM465,141h1v1h-1zM170,142h3v1h-3zM466,142h1v1h-1zM168,143h2v1h-2zM467,143h2v1h-2zM166,144h2v1h-2zM469,144h2v1h-2zM164,145h2v1h-2zM471,145h1v1h-1zM162,146h2v1h-2zM472,146h2v1h-2zM160,147h2v1h-2zM474,147h2v1h-2zM158,148h2v1h-2zM476,148h1v1h-1zM156,149h2v1h-2zM477,149h1v1h-1zM154,150h2v1h-2zM478,150h2v1h-2zM152,151h2v1h-2zM480,151h1v1h-1zM150,152h2v1h-2zM481,152h1v1h-1zM148,153h2v1h-2zM482,153h1v1h-1zM146,154h2v1h-2zM483,154h2v1h-2zM144,155h2v1h-2zM485,155h1v1h-1zM141,156h3v1h-3zM486,156h1v1h-1zM139,157h2v1h-2zM487,157h2v1h-2zM136,158h3v1h-3zM489,158h2v1h-2zM134,159h2v1h-2zM491,159h1v1h-1zM130,160h4v1h-4zM492,160h2v1h-2zM120,161h10v1h-10zM494,161h2v1h-2zM115,162h5v1h-5zM496,162h1v1h-1zM100,163h15v1h-15zM497,163h2v1h-2zM93,164h7v1h-7zM499,164h2v1h-2zM501,165h1v1h-1zM502,166h2v1h-2zM504,167h2v1h-2zM506,168h1v1h-1zM507,169h1v1h-1zM508,170h2v1h-2zM510,171h1v1h-1zM511,172h1v1h-1zM512,173h2v1h-2zM514,174h2v1h-2zM516,175h1v1h-1zM517,176h1v1h-1zM518,177h2v1h-2zM520,178h1v1h-1zM521,179h1v1h-1zM522,180h2v1h-2zM524,181h1v1h-1zM525,182h1v1h-1zM526,183h2v1h-2zM528,184h2v1h-2zM530,185h1v1h-1zM531,186h2v1h-2zM533,187h2v1h-2zM535,188h1v1h-1zM536,189h2v1h-2zM538,190h2v1h-2zM540,191h1v1h-1zM541,192h2v1h-2zM543,193h2v1h-2zM545,194h1v1h-1zM546,195h2v1h-2zM548,196h2v1h-2zM550,197h2v1h-2zM552,198h2v1h-2zM554,199h2v1h-2zM556,200h2v1h-2zM558,201h2v1h-2zM560,202h1v1h-1zM561,203h2v1h-2zM563,204h2v1h-2zM565,205h1v1h-1zM566,206h2v1h-2zM568,207h2v1h-2zM570,208h1v1h-1zM571,209h2v1h-2zM573,210h2v1h-2zM575,211h1v1h-1zM576,212h2v1h-2zM578,213h2v1h-2zM580,214h1v1h-1zM581,215h2v1h-2zM583,216h2v1h-2zM585,217h3v1h-3zM588,218h2v1h-2zM590,219h2v1h-2zM592,220h2v1h-2zM594,221h2v1h-2zM596,222h2v1h-2zM598,223h2v1h-2zM600,224h2v1h-2zM602,225h2v1h-2zM604,226h2v1h-2zM606,227h2v1h-2zM608,228h2v1h-2zM610,229h2v1h-2zM612,230h2v1h-2zM614,231h1v1h-1zM615,232h2v1h-2zM617,233h2v1h-2zM619,234h1v1h-1zM620,235h2v1h-2zM622,236h2v1h-2zM624,237h2v1h-2zM626,238h2v1h-2zM628,239h2v1h-2zM630,240h2v1h-2zM632,241h2v1h-2zM634,242h1v1h-1zM635,243h2v1h-2zM637,244h2v1h-2zM639,245h1v1h-1zM640,246h1v1h-1zM641,247h2v1h-2zM643,248h1v1h-1zM644,249h2v1h-2zM646,250h2v1h-2zM648,251h1v1h-1zM649,252h1v1h-1zM650,253h2v1h-2zM652,254h1v1h-1zM653,255h1v1h-1zM654,256h2v1h-2zM656,257h2v1h-2zM658,258h2v1h-2zM660,259h2v1h-2zM662,260h2v1h-2zM664,261h2v1h-2zM666,262h2v1h-2zM668,263h2v1h-2zM670,264h2v1h-2zM672,265h4v1h-4zM676,266h5v1h-5zM681,267h10v1h-10zM691,268h5v1h-5zM696,269h5v1h-5zM701,270h10v1h-10zM711,271h4v1h-4zM715,272h15v1h-15zM730,273h5v1h-5zM735,274h4v1h-4zM739,275h2v1h-2zM741,276h4v1h-4zM745,277h5v1h-5zM750,278h15v1h-15zM765,279h9v1h-9zM774,280h27v1h-27z" fill="#41c089" shape-rendering="crispEdges"/>
<path d="M405,130h40v1h-40zM337,131h24v1h-24zM396,131h9v1h-9zM445,131h10v1h-10zM317,132h20v1h-20zM361,132h35v1h-35zM455,132h10v1h-10zM297,133h20v1h-20zM465,133h4v1h-4zM287,134h10v1h-10zM469,134h5v1h-5zM282,135h5v1h-5zM474,135h5v1h-5zM278,136h4v1h-4zM479,136h5v1h-5zM273,137h5v1h-5zM484,137h10v1h-10zM268,138h5v1h-5zM494,138h5v1h-5zM263,139h5v1h-5zM499,139h5v1h-5zM258,140h5v1h-5zM504,140h5v1h-5zM254,141h4v1h-4zM509,141h4v1h-4zM252,142h2v1h-2zM513,142h2v1h-2zM248,143h4v1h-4zM515,143h9v1h-9zM243,144h5v1h-5zM524,144h4v1h-4zM238,145h5v1h-5zM528,145h5v1h-5zM228,146h10v1h-10zM533,146h5v1h-5zM223,147h5v1h-5zM538,147h5v1h-5zM219,148h4v1h-4zM543,148h5v1h-5zM214,149h5v1h-5zM548,149h5v1h-5zM209,150h5v1h-5zM553,150h5v1h-5zM204,151h5v1h-5zM558,151h5v1h-5zM200,152h4v1h-4zM563,152h5v1h-5zM198,153h2v1h-2zM568,153h4v1h-4zM194,154h4v1h-4zM572,154h2v1h-2zM190,155h4v1h-4zM574,155h4v1h-4zM188,156h2v1h-2zM578,156h5v1h-5zM184,157h4v1h-4zM583,157h5v1h-5zM179,158h5v1h-5zM588,158h3v1h-3zM174,159h5v1h-5zM591,159h2v1h-2zM169,160h5v1h-5zM593,160h4v1h-4zM164,161h5v1h-5zM597,161h4v1h-4zM159,162h5v1h-5zM601,162h2v1h-2zM155,163h4v1h-4zM603,163h3v1h-3zM145,164h10v1h-10zM606,164h2v1h-2zM140,165h5v1h-5zM608,165h3v1h-3zM135,166h5v1h-5zM611,166h2v1h-2zM130,167h5v1h-5zM613,167h3v1h-3zM120,168h10v1h-10zM616,168h2v1h-2zM105,169h15v1h-15zM618,169h3v1h-3zM93,170h12v1h-12zM621,170h2v1h-2zM623,171h3v1h-3zM626,172h2v1h-2zM628,173h3v1h-3zM631,174h2v1h-2zM633,175h2v1h-2zM635,176h2v1h-2zM637,177h2v1h-2zM639,178h2v1h-2zM641,179h2v1h-2zM643,180h3v1h-3zM646,181h2v1h-2zM648,182h1v1h-1zM649,183h2v1h-2zM651,184h2v1h-2zM653,185h2v1h-2zM655,186h2v1h-2zM657,187h3v1h-3zM660,188h2v1h-2zM662,189h3v1h-3zM665,190h2v1h-2zM667,191h3v1h-3zM670,192h2v1h-2zM672,193h3v1h-3zM675,194h2v1h-2zM677,195h3v1h-3zM680,196h2v1h-2zM682,197h4v1h-4zM686,198h4v1h-4zM690,199h2v1h-2zM692,200h3v1h-3zM695,201h2v1h-2zM697,202h4v1h-4zM701,203h4v1h-4zM705,204h2v1h-2zM707,205h3v1h-3zM710,206h2v1h-2zM712,207h2v1h-2zM714,208h2v1h-2zM716,209h4v1h-4zM720,210h4v1h-4zM724,211h2v1h-2zM726,212h3v1h-3zM729,213h2v1h-2zM731,214h2v1h-2zM733,215h2v1h-2zM735,216h2v1h-2zM737,217h2v1h-2zM739,218h2v1h-2zM741,219h3v1h-3zM744,220h2v1h-2zM746,221h3v1h-3zM749,222h2v1h-2zM751,223h3v1h-3zM754,224h2v1h-2zM756,225h3v1h-3zM759,226h2v1h-2zM761,227h3v1h-3zM764,228h2v1h-2zM766,229h3v1h-3zM769,230h2v1h-2zM771,231h2v1h-2zM773,232h2v1h-2zM775,233h4v1h-4zM779,234h4v1h-4zM783,235h2v1h-2zM785,236h4v1h-4zM789,237h4v1h-4zM793,238h2v1h-2zM795,239h4v1h-4zM799,240h2v1h-2z" fill="#30aae2" shape-rendering="crispEdges"/>
<path d="M304,148h42v1h-42zM346,149h40v1h-40zM405,149h15v1h-15zM386,150h19v1h-19zM420,150h25v1h-25zM445,151h20v1h-20zM465,152h18v1h-18zM483,153h2v1h-2zM485,154h19v1h-19zM504,155h10v1h-10zM514,156h14v1h-14zM528,157h10v1h-10zM538,158h10v1h-10zM548,159h5v1h-5zM553,160h10v1h-10zM563,161h5v1h-5zM568,162h5v1h-5zM573,163h10v1h-10zM583,164h9v1h-9zM592,165h10v1h-10zM602,166h5v1h-5zM607,167h5v1h-5zM612,168h10v1h-10zM622,169h10v1h-10zM632,170h5v1h-5zM637,171h10v1h-10zM647,172h4v1h-4zM651,173h5v1h-5zM656,174h5v1h-5zM661,175h15v1h-15zM676,176h20v1h-20zM696,177h15v1h-15zM711,178h9v1h-9zM720,179h10v1h-10zM730,180h10v1h-10zM740,181h10v1h-10zM750,182h15v1h-15zM765,183h9v1h-9zM774,184h10v1h-10zM784,185h10v1h-10zM794,186h7v1h-7z" fill="#ff8f3d" shape-rendering="crispEdges"/>
<g shape-rendering="crispEdges">
<rect x="90" y="241" width="782" height="1" fill="#ff0000"/>
<rect x="90" y="263" width="782" height="1" fill="#ff0000"/>
<rect x="872" y="251" width="70" height="1" fill="#ff8000"/>
<line x1="91" y1="251.5" x2="872" y2="251.5" stroke="#1e88f0" stroke-width="1" stroke-dasharray="3 3"/>
<rect x="90" y="250" width="782" height="1" fill="#ff0000"/>
</g>
<path d="M145,404h3v1h-3zM142,405h3v1h-3zM148,405h1v1h-1zM140,406h2v1h-2zM148,406h1v1h-1zM156,406h1v1h-1zM138,407h2v1h-2zM149,407h1v1h-1zM155,407h1v1h-1zM157,407h1v1h-1zM137,408h1v1h-1zM150,408h1v1h-1zM154,408h1v1h-1zM158,408h2v1h-2zM136,409h1v1h-1zM151,409h1v1h-1zM154,409h1v1h-1zM160,409h1v1h-1zM164,409h3v1h-3zM135,410h1v1h-1zM151,410h1v1h-1zM153,410h1v1h-1zM161,410h3v1h-3zM167,410h1v1h-1zM122,411h1v1h-1zM134,411h1v1h-1zM152,411h1v1h-1zM167,411h1v1h-1zM120,412h2v1h-2zM123,412h1v1h-1zM133,412h1v1h-1zM168,412h1v1h-1zM118,413h2v1h-2zM123,413h1v1h-1zM132,413h1v1h-1zM168,413h1v1h-1zM117,414h1v1h-1zM124,414h1v1h-1zM131,414h1v1h-1zM169,414h1v1h-1zM116,415h1v1h-1zM125,415h1v1h-1zM130,415h1v1h-1zM170,415h1v1h-1zM115,416h1v1h-1zM126,416h1v1h-1zM129,416h1v1h-1zM170,416h1v1h-1zM114,417h1v1h-1zM126,417h1v1h-1zM128,417h1v1h-1zM171,417h1v1h-1zM254,417h2v1h-2zM114,418h1v1h-1zM127,418h1v1h-1zM172,418h1v1h-1zM252,418h2v1h-2zM256,418h1v1h-1zM93,419h3v1h-3zM113,419h1v1h-1zM173,419h1v1h-1zM250,419h2v1h-2zM256,419h1v1h-1zM265,419h1v1h-1zM275,419h1v1h-1zM96,420h4v1h-4zM111,420h2v1h-2zM174,420h1v1h-1zM235,420h2v1h-2zM248,420h2v1h-2zM257,420h1v1h-1zM264,420h1v1h-1zM266,420h1v1h-1zM274,420h1v1h-1zM276,420h1v1h-1zM688,420h6v1h-6zM761,420h7v1h-7zM781,420h1v1h-1zM796,420h3v1h-3zM100,421h5v1h-5zM109,421h2v1h-2zM175,421h1v1h-1zM201,421h1v1h-1zM234,421h1v1h-1zM237,421h2v1h-2zM246,421h2v1h-2zM257,421h1v1h-1zM263,421h1v1h-1zM267,421h1v1h-1zM273,421h1v1h-1zM277,421h1v1h-1zM687,421h1v1h-1zM694,421h1v1h-1zM759,421h2v1h-2zM768,421h1v1h-1zM780,421h1v1h-1zM782,421h1v1h-1zM795,421h1v1h-1zM799,421h2v1h-2zM105,422h4v1h-4zM176,422h1v1h-1zM199,422h2v1h-2zM202,422h2v1h-2zM233,422h1v1h-1zM239,422h7v1h-7zM258,422h1v1h-1zM262,422h1v1h-1zM268,422h1v1h-1zM272,422h1v1h-1zM278,422h1v1h-1zM686,422h1v1h-1zM694,422h1v1h-1zM757,422h2v1h-2zM769,422h1v1h-1zM780,422h1v1h-1zM783,422h1v1h-1zM793,422h2v1h-2zM177,423h1v1h-1zM197,423h2v1h-2zM204,423h2v1h-2zM232,423h1v1h-1zM259,423h1v1h-1zM262,423h1v1h-1zM269,423h1v1h-1zM271,423h1v1h-1zM279,423h1v1h-1zM685,423h1v1h-1zM695,423h1v1h-1zM756,423h1v1h-1zM769,423h1v1h-1zM779,423h1v1h-1zM784,423h1v1h-1zM792,423h1v1h-1zM178,424h1v1h-1zM186,424h1v1h-1zM196,424h1v1h-1zM206,424h1v1h-1zM232,424h1v1h-1zM259,424h1v1h-1zM261,424h1v1h-1zM270,424h1v1h-1zM280,424h2v1h-2zM685,424h1v1h-1zM696,424h1v1h-1zM756,424h1v1h-1zM770,424h1v1h-1zM778,424h1v1h-1zM785,424h1v1h-1zM789,424h3v1h-3zM179,425h1v1h-1zM184,425h2v1h-2zM187,425h1v1h-1zM195,425h1v1h-1zM207,425h1v1h-1zM225,425h3v1h-3zM231,425h1v1h-1zM260,425h1v1h-1zM282,425h2v1h-2zM672,425h3v1h-3zM684,425h1v1h-1zM697,425h1v1h-1zM755,425h1v1h-1zM771,425h1v1h-1zM778,425h1v1h-1zM786,425h3v1h-3zM180,426h1v1h-1zM182,426h2v1h-2zM188,426h2v1h-2zM193,426h2v1h-2zM208,426h1v1h-1zM224,426h1v1h-1zM228,426h3v1h-3zM284,426h1v1h-1zM670,426h2v1h-2zM675,426h2v1h-2zM681,426h3v1h-3zM697,426h1v1h-1zM754,426h1v1h-1zM772,426h2v1h-2zM777,426h1v1h-1zM181,427h1v1h-1zM190,427h1v1h-1zM192,427h1v1h-1zM208,427h1v1h-1zM224,427h1v1h-1zM285,427h1v1h-1zM412,427h1v1h-1zM668,427h2v1h-2zM677,427h4v1h-4zM698,427h3v1h-3zM754,427h1v1h-1zM774,427h2v1h-2zM777,427h1v1h-1zM191,428h1v1h-1zM209,428h1v1h-1zM223,428h1v1h-1zM286,428h1v1h-1zM411,428h2v1h-2zM668,428h1v1h-1zM701,428h3v1h-3zM753,428h1v1h-1zM776,428h1v1h-1zM210,429h1v1h-1zM222,429h1v1h-1zM286,429h1v1h-1zM410,429h1v1h-1zM413,429h1v1h-1zM667,429h1v1h-1zM704,429h2v1h-2zM727,429h2v1h-2zM753,429h1v1h-1zM211,430h2v1h-2zM221,430h1v1h-1zM287,430h1v1h-1zM409,430h1v1h-1zM413,430h1v1h-1zM667,430h1v1h-1zM706,430h2v1h-2zM725,430h2v1h-2zM729,430h2v1h-2zM751,430h2v1h-2zM213,431h2v1h-2zM221,431h1v1h-1zM288,431h1v1h-1zM409,431h1v1h-1zM413,431h1v1h-1zM667,431h1v1h-1zM708,431h1v1h-1zM723,431h2v1h-2zM731,431h2v1h-2zM749,431h2v1h-2zM215,432h6v1h-6zM289,432h1v1h-1zM408,432h1v1h-1zM413,432h1v1h-1zM666,432h1v1h-1zM709,432h2v1h-2zM722,432h1v1h-1zM733,432h1v1h-1zM747,432h2v1h-2zM290,433h2v1h-2zM398,433h1v1h-1zM407,433h1v1h-1zM414,433h1v1h-1zM521,433h3v1h-3zM666,433h1v1h-1zM711,433h1v1h-1zM721,433h1v1h-1zM734,433h1v1h-1zM746,433h1v1h-1zM292,434h2v1h-2zM397,434h1v1h-1zM399,434h1v1h-1zM406,434h1v1h-1zM414,434h1v1h-1zM520,434h1v1h-1zM524,434h3v1h-3zM665,434h1v1h-1zM712,434h2v1h-2zM719,434h2v1h-2zM734,434h1v1h-1zM746,434h1v1h-1zM294,435h2v1h-2zM396,435h1v1h-1zM399,435h1v1h-1zM405,435h1v1h-1zM414,435h1v1h-1zM520,435h1v1h-1zM527,435h2v1h-2zM665,435h1v1h-1zM714,435h2v1h-2zM718,435h1v1h-1zM735,435h1v1h-1zM745,435h1v1h-1zM296,436h2v1h-2zM395,436h1v1h-1zM400,436h1v1h-1zM404,436h1v1h-1zM415,436h1v1h-1zM501,436h1v1h-1zM519,436h1v1h-1zM529,436h3v1h-3zM619,436h1v1h-1zM665,436h1v1h-1zM716,436h2v1h-2zM736,436h1v1h-1zM744,436h1v1h-1zM298,437h2v1h-2zM394,437h1v1h-1zM401,437h1v1h-1zM404,437h1v1h-1zM415,437h1v1h-1zM499,437h2v1h-2zM502,437h1v1h-1zM518,437h1v1h-1zM532,437h2v1h-2zM553,437h4v1h-4zM618,437h1v1h-1zM620,437h2v1h-2zM664,437h1v1h-1zM737,437h2v1h-2zM743,437h1v1h-1zM300,438h1v1h-1zM393,438h1v1h-1zM401,438h1v1h-1zM403,438h1v1h-1zM415,438h1v1h-1zM491,438h3v1h-3zM497,438h2v1h-2zM503,438h1v1h-1zM517,438h1v1h-1zM534,438h3v1h-3zM550,438h3v1h-3zM557,438h2v1h-2zM592,438h4v1h-4zM618,438h1v1h-1zM622,438h2v1h-2zM648,438h2v1h-2zM657,438h2v1h-2zM664,438h1v1h-1zM739,438h2v1h-2zM743,438h1v1h-1zM301,439h1v1h-1zM392,439h1v1h-1zM402,439h1v1h-1zM416,439h1v1h-1zM422,439h1v1h-1zM490,439h1v1h-1zM494,439h3v1h-3zM503,439h1v1h-1zM517,439h1v1h-1zM537,439h2v1h-2zM549,439h1v1h-1zM559,439h2v1h-2zM589,439h3v1h-3zM596,439h2v1h-2zM617,439h1v1h-1zM624,439h2v1h-2zM647,439h1v1h-1zM650,439h2v1h-2zM655,439h2v1h-2zM659,439h2v1h-2zM664,439h1v1h-1zM741,439h2v1h-2zM302,440h1v1h-1zM391,440h1v1h-1zM416,440h1v1h-1zM421,440h1v1h-1zM423,440h1v1h-1zM490,440h1v1h-1zM504,440h1v1h-1zM514,440h3v1h-3zM539,440h3v1h-3zM547,440h2v1h-2zM560,440h1v1h-1zM575,440h3v1h-3zM587,440h2v1h-2zM598,440h2v1h-2zM616,440h1v1h-1zM626,440h2v1h-2zM647,440h1v1h-1zM652,440h3v1h-3zM661,440h3v1h-3zM303,441h1v1h-1zM312,441h3v1h-3zM390,441h1v1h-1zM416,441h1v1h-1zM420,441h1v1h-1zM424,441h2v1h-2zM489,441h1v1h-1zM505,441h1v1h-1zM509,441h5v1h-5zM542,441h2v1h-2zM546,441h1v1h-1zM561,441h1v1h-1zM574,441h1v1h-1zM578,441h9v1h-9zM600,441h1v1h-1zM616,441h1v1h-1zM628,441h4v1h-4zM646,441h1v1h-1zM663,441h1v1h-1zM304,442h8v1h-8zM315,442h1v1h-1zM390,442h1v1h-1zM416,442h1v1h-1zM419,442h1v1h-1zM426,442h1v1h-1zM488,442h1v1h-1zM506,442h3v1h-3zM544,442h2v1h-2zM561,442h1v1h-1zM573,442h1v1h-1zM601,442h2v1h-2zM615,442h1v1h-1zM632,442h3v1h-3zM646,442h1v1h-1zM316,443h2v1h-2zM389,443h1v1h-1zM417,443h2v1h-2zM427,443h1v1h-1zM487,443h1v1h-1zM562,443h1v1h-1zM572,443h1v1h-1zM603,443h1v1h-1zM615,443h1v1h-1zM635,443h1v1h-1zM645,443h1v1h-1zM318,444h1v1h-1zM386,444h3v1h-3zM417,444h1v1h-1zM428,444h2v1h-2zM457,444h6v1h-6zM487,444h1v1h-1zM562,444h1v1h-1zM572,444h1v1h-1zM604,444h1v1h-1zM614,444h1v1h-1zM636,444h2v1h-2zM645,444h1v1h-1zM319,445h12v1h-12zM373,445h1v1h-1zM383,445h3v1h-3zM430,445h2v1h-2zM456,445h1v1h-1zM463,445h2v1h-2zM481,445h6v1h-6zM563,445h1v1h-1zM571,445h1v1h-1zM605,445h1v1h-1zM613,445h1v1h-1zM638,445h1v1h-1zM644,445h1v1h-1zM331,446h2v1h-2zM372,446h1v1h-1zM374,446h2v1h-2zM381,446h2v1h-2zM432,446h3v1h-3zM456,446h1v1h-1zM465,446h1v1h-1zM480,446h1v1h-1zM563,446h1v1h-1zM570,446h1v1h-1zM606,446h1v1h-1zM612,446h1v1h-1zM639,446h6v1h-6zM333,447h3v1h-3zM353,447h1v1h-1zM372,447h1v1h-1zM376,447h2v1h-2zM379,447h2v1h-2zM435,447h3v1h-3zM455,447h1v1h-1zM466,447h1v1h-1zM480,447h1v1h-1zM564,447h1v1h-1zM568,447h2v1h-2zM606,447h1v1h-1zM611,447h1v1h-1zM336,448h2v1h-2zM352,448h1v1h-1zM354,448h1v1h-1zM371,448h1v1h-1zM378,448h1v1h-1zM438,448h2v1h-2zM454,448h1v1h-1zM467,448h1v1h-1zM479,448h1v1h-1zM564,448h1v1h-1zM566,448h2v1h-2zM607,448h1v1h-1zM611,448h1v1h-1zM338,449h3v1h-3zM351,449h1v1h-1zM355,449h2v1h-2zM371,449h1v1h-1zM440,449h2v1h-2zM453,449h1v1h-1zM468,449h2v1h-2zM479,449h1v1h-1zM565,449h1v1h-1zM608,449h1v1h-1zM610,449h1v1h-1zM341,450h2v1h-2zM350,450h1v1h-1zM357,450h1v1h-1zM370,450h1v1h-1zM442,450h2v1h-2zM453,450h1v1h-1zM470,450h1v1h-1zM478,450h1v1h-1zM609,450h1v1h-1zM343,451h2v1h-2zM350,451h1v1h-1zM358,451h2v1h-2zM370,451h1v1h-1zM444,451h2v1h-2zM450,451h3v1h-3zM471,451h1v1h-1zM478,451h1v1h-1zM345,452h2v1h-2zM349,452h1v1h-1zM360,452h2v1h-2zM369,452h1v1h-1zM446,452h4v1h-4zM472,452h2v1h-2zM477,452h1v1h-1zM347,453h2v1h-2zM362,453h4v1h-4zM369,453h1v1h-1zM474,453h2v1h-2zM477,453h1v1h-1zM366,454h3v1h-3zM476,454h1v1h-1z" fill="#41c089" shape-rendering="crispEdges"/>
<path d="M120,382h3v1h-3zM117,383h3v1h-3zM122,383h1v1h-1zM145,383h3v1h-3zM761,383h2v1h-2zM117,384h1v1h-1zM122,384h1v1h-1zM142,384h3v1h-3zM147,384h1v1h-1zM398,384h1v1h-1zM688,384h1v1h-1zM759,384h2v1h-2zM762,384h1v1h-1zM116,385h1v1h-1zM122,385h1v1h-1zM141,385h1v1h-1zM147,385h1v1h-1zM235,385h1v1h-1zM397,385h2v1h-2zM688,385h2v1h-2zM757,385h2v1h-2zM763,385h1v1h-1zM116,386h1v1h-1zM122,386h1v1h-1zM140,386h1v1h-1zM147,386h1v1h-1zM235,386h1v1h-1zM396,386h1v1h-1zM398,386h1v1h-1zM688,386h2v1h-2zM757,386h1v1h-1zM763,386h1v1h-1zM116,387h1v1h-1zM122,387h1v1h-1zM139,387h1v1h-1zM147,387h1v1h-1zM234,387h2v1h-2zM395,387h1v1h-1zM398,387h1v1h-1zM687,387h1v1h-1zM690,387h1v1h-1zM756,387h1v1h-1zM764,387h1v1h-1zM116,388h1v1h-1zM123,388h1v1h-1zM138,388h1v1h-1zM147,388h1v1h-1zM234,388h2v1h-2zM250,388h6v1h-6zM394,388h1v1h-1zM398,388h1v1h-1zM687,388h1v1h-1zM691,388h1v1h-1zM756,388h1v1h-1zM764,388h1v1h-1zM115,389h1v1h-1zM123,389h1v1h-1zM137,389h1v1h-1zM148,389h1v1h-1zM234,389h1v1h-1zM236,389h1v1h-1zM250,389h1v1h-1zM255,389h1v1h-1zM393,389h1v1h-1zM398,389h1v1h-1zM687,389h1v1h-1zM692,389h1v1h-1zM756,389h1v1h-1zM765,389h1v1h-1zM115,390h1v1h-1zM123,390h1v1h-1zM137,390h1v1h-1zM148,390h1v1h-1zM233,390h1v1h-1zM236,390h1v1h-1zM250,390h1v1h-1zM255,390h1v1h-1zM393,390h1v1h-1zM398,390h1v1h-1zM671,390h3v1h-3zM687,390h1v1h-1zM692,390h1v1h-1zM755,390h1v1h-1zM765,390h1v1h-1zM115,391h1v1h-1zM123,391h1v1h-1zM136,391h1v1h-1zM148,391h1v1h-1zM233,391h1v1h-1zM236,391h1v1h-1zM249,391h1v1h-1zM255,391h1v1h-1zM393,391h1v1h-1zM398,391h1v1h-1zM521,391h1v1h-1zM668,391h3v1h-3zM673,391h1v1h-1zM686,391h1v1h-1zM693,391h1v1h-1zM755,391h1v1h-1zM766,391h1v1h-1zM114,392h1v1h-1zM123,392h1v1h-1zM136,392h1v1h-1zM148,392h1v1h-1zM233,392h1v1h-1zM236,392h1v1h-1zM249,392h1v1h-1zM255,392h1v1h-1zM392,392h1v1h-1zM399,392h1v1h-1zM521,392h1v1h-1zM668,392h1v1h-1zM673,392h1v1h-1zM686,392h1v1h-1zM693,392h1v1h-1zM755,392h1v1h-1zM766,392h1v1h-1zM114,393h1v1h-1zM123,393h1v1h-1zM135,393h1v1h-1zM148,393h1v1h-1zM232,393h1v1h-1zM236,393h1v1h-1zM249,393h1v1h-1zM255,393h1v1h-1zM392,393h1v1h-1zM399,393h1v1h-1zM412,393h1v1h-1zM521,393h1v1h-1zM668,393h1v1h-1zM674,393h1v1h-1zM686,393h1v1h-1zM693,393h1v1h-1zM754,393h1v1h-1zM767,393h1v1h-1zM114,394h1v1h-1zM123,394h1v1h-1zM135,394h1v1h-1zM148,394h1v1h-1zM232,394h1v1h-1zM236,394h1v1h-1zM249,394h1v1h-1zM255,394h1v1h-1zM392,394h1v1h-1zM399,394h1v1h-1zM412,394h1v1h-1zM491,394h1v1h-1zM521,394h2v1h-2zM668,394h1v1h-1zM674,394h1v1h-1zM686,394h1v1h-1zM693,394h1v1h-1zM754,394h1v1h-1zM767,394h1v1h-1zM114,395h1v1h-1zM123,395h1v1h-1zM134,395h1v1h-1zM148,395h1v1h-1zM232,395h1v1h-1zM237,395h1v1h-1zM248,395h1v1h-1zM255,395h1v1h-1zM392,395h1v1h-1zM399,395h1v1h-1zM411,395h2v1h-2zM491,395h1v1h-1zM521,395h2v1h-2zM668,395h1v1h-1zM674,395h1v1h-1zM685,395h1v1h-1zM693,395h1v1h-1zM754,395h1v1h-1zM767,395h1v1h-1zM113,396h1v1h-1zM123,396h1v1h-1zM134,396h1v1h-1zM148,396h1v1h-1zM156,396h1v1h-1zM232,396h1v1h-1zM237,396h1v1h-1zM248,396h1v1h-1zM256,396h1v1h-1zM392,396h1v1h-1zM399,396h1v1h-1zM411,396h2v1h-2zM491,396h2v1h-2zM521,396h2v1h-2zM668,396h1v1h-1zM674,396h1v1h-1zM685,396h1v1h-1zM693,396h1v1h-1zM754,396h1v1h-1zM767,396h1v1h-1zM113,397h1v1h-1zM123,397h1v1h-1zM134,397h1v1h-1zM148,397h1v1h-1zM156,397h1v1h-1zM201,397h1v1h-1zM231,397h1v1h-1zM237,397h1v1h-1zM248,397h1v1h-1zM256,397h1v1h-1zM391,397h1v1h-1zM399,397h1v1h-1zM411,397h2v1h-2zM491,397h2v1h-2zM520,397h1v1h-1zM522,397h1v1h-1zM668,397h1v1h-1zM675,397h1v1h-1zM685,397h1v1h-1zM693,397h1v1h-1zM753,397h1v1h-1zM767,397h1v1h-1zM113,398h1v1h-1zM123,398h1v1h-1zM133,398h1v1h-1zM148,398h1v1h-1zM156,398h1v1h-1zM201,398h1v1h-1zM231,398h1v1h-1zM237,398h1v1h-1zM248,398h1v1h-1zM256,398h1v1h-1zM391,398h1v1h-1zM399,398h1v1h-1zM411,398h2v1h-2zM490,398h1v1h-1zM492,398h1v1h-1zM501,398h1v1h-1zM520,398h1v1h-1zM522,398h1v1h-1zM667,398h1v1h-1zM675,398h1v1h-1zM685,398h1v1h-1zM694,398h1v1h-1zM753,398h1v1h-1zM767,398h1v1h-1zM796,398h1v1h-1zM113,399h1v1h-1zM123,399h1v1h-1zM133,399h1v1h-1zM149,399h1v1h-1zM156,399h1v1h-1zM200,399h2v1h-2zM225,399h2v1h-2zM231,399h1v1h-1zM237,399h1v1h-1zM247,399h1v1h-1zM256,399h1v1h-1zM391,399h1v1h-1zM399,399h1v1h-1zM410,399h1v1h-1zM412,399h1v1h-1zM490,399h1v1h-1zM493,399h1v1h-1zM501,399h1v1h-1zM520,399h1v1h-1zM522,399h1v1h-1zM667,399h1v1h-1zM675,399h1v1h-1zM684,399h1v1h-1zM694,399h1v1h-1zM753,399h1v1h-1zM767,399h1v1h-1zM796,399h1v1h-1zM112,400h1v1h-1zM124,400h1v1h-1zM132,400h1v1h-1zM149,400h1v1h-1zM156,400h2v1h-2zM200,400h2v1h-2zM225,400h1v1h-1zM227,400h2v1h-2zM230,400h1v1h-1zM237,400h1v1h-1zM247,400h1v1h-1zM256,400h1v1h-1zM391,400h1v1h-1zM399,400h1v1h-1zM410,400h1v1h-1zM412,400h1v1h-1zM490,400h1v1h-1zM493,400h1v1h-1zM500,400h2v1h-2zM520,400h1v1h-1zM523,400h1v1h-1zM667,400h1v1h-1zM675,400h1v1h-1zM684,400h1v1h-1zM694,400h1v1h-1zM727,400h1v1h-1zM752,400h1v1h-1zM767,400h1v1h-1zM781,400h1v1h-1zM796,400h1v1h-1zM112,401h1v1h-1zM124,401h1v1h-1zM132,401h1v1h-1zM149,401h1v1h-1zM155,401h1v1h-1zM157,401h1v1h-1zM199,401h1v1h-1zM201,401h1v1h-1zM225,401h1v1h-1zM229,401h2v1h-2zM238,401h1v1h-1zM247,401h1v1h-1zM256,401h1v1h-1zM390,401h1v1h-1zM399,401h1v1h-1zM410,401h1v1h-1zM413,401h1v1h-1zM490,401h1v1h-1zM493,401h1v1h-1zM500,401h2v1h-2zM520,401h1v1h-1zM523,401h1v1h-1zM667,401h1v1h-1zM675,401h1v1h-1zM684,401h1v1h-1zM694,401h1v1h-1zM727,401h1v1h-1zM752,401h1v1h-1zM768,401h1v1h-1zM781,401h1v1h-1zM795,401h1v1h-1zM797,401h1v1h-1zM112,402h1v1h-1zM124,402h1v1h-1zM132,402h1v1h-1zM149,402h1v1h-1zM155,402h1v1h-1zM157,402h1v1h-1zM199,402h1v1h-1zM202,402h1v1h-1zM225,402h1v1h-1zM238,402h1v1h-1zM247,402h1v1h-1zM256,402h1v1h-1zM390,402h1v1h-1zM399,402h1v1h-1zM409,402h1v1h-1zM413,402h1v1h-1zM490,402h1v1h-1zM493,402h1v1h-1zM499,402h1v1h-1zM501,402h1v1h-1zM520,402h1v1h-1zM523,402h1v1h-1zM619,402h1v1h-1zM648,402h1v1h-1zM667,402h1v1h-1zM676,402h1v1h-1zM684,402h1v1h-1zM694,402h1v1h-1zM726,402h2v1h-2zM751,402h1v1h-1zM768,402h1v1h-1zM781,402h1v1h-1zM795,402h1v1h-1zM797,402h1v1h-1zM112,403h1v1h-1zM124,403h1v1h-1zM132,403h1v1h-1zM149,403h1v1h-1zM155,403h1v1h-1zM157,403h1v1h-1zM199,403h1v1h-1zM202,403h1v1h-1zM225,403h1v1h-1zM238,403h1v1h-1zM247,403h1v1h-1zM256,403h1v1h-1zM390,403h1v1h-1zM399,403h1v1h-1zM409,403h1v1h-1zM413,403h1v1h-1zM490,403h1v1h-1zM494,403h1v1h-1zM499,403h1v1h-1zM501,403h1v1h-1zM520,403h1v1h-1zM523,403h1v1h-1zM619,403h1v1h-1zM648,403h1v1h-1zM667,403h1v1h-1zM676,403h1v1h-1zM683,403h1v1h-1zM694,403h1v1h-1zM726,403h2v1h-2zM751,403h1v1h-1zM768,403h1v1h-1zM781,403h1v1h-1zM795,403h1v1h-1zM797,403h1v1h-1zM112,404h1v1h-1zM124,404h1v1h-1zM132,404h1v1h-1zM149,404h1v1h-1zM155,404h1v1h-1zM157,404h1v1h-1zM198,404h1v1h-1zM202,404h1v1h-1zM225,404h1v1h-1zM238,404h1v1h-1zM246,404h1v1h-1zM256,404h1v1h-1zM390,404h1v1h-1zM399,404h1v1h-1zM409,404h1v1h-1zM413,404h1v1h-1zM457,404h1v1h-1zM489,404h1v1h-1zM494,404h1v1h-1zM498,404h1v1h-1zM501,404h1v1h-1zM520,404h1v1h-1zM523,404h1v1h-1zM619,404h1v1h-1zM648,404h1v1h-1zM667,404h1v1h-1zM676,404h1v1h-1zM683,404h1v1h-1zM694,404h1v1h-1zM726,404h1v1h-1zM728,404h1v1h-1zM750,404h1v1h-1zM768,404h1v1h-1zM781,404h2v1h-2zM795,404h1v1h-1zM797,404h1v1h-1zM112,405h1v1h-1zM124,405h1v1h-1zM131,405h1v1h-1zM149,405h1v1h-1zM155,405h1v1h-1zM157,405h1v1h-1zM198,405h1v1h-1zM202,405h1v1h-1zM225,405h1v1h-1zM238,405h1v1h-1zM246,405h1v1h-1zM256,405h1v1h-1zM265,405h1v1h-1zM390,405h1v1h-1zM399,405h1v1h-1zM408,405h1v1h-1zM413,405h1v1h-1zM457,405h2v1h-2zM489,405h1v1h-1zM494,405h1v1h-1zM498,405h1v1h-1zM502,405h1v1h-1zM520,405h1v1h-1zM523,405h1v1h-1zM619,405h1v1h-1zM648,405h2v1h-2zM667,405h1v1h-1zM676,405h1v1h-1zM683,405h1v1h-1zM694,405h1v1h-1zM726,405h1v1h-1zM728,405h1v1h-1zM750,405h1v1h-1zM768,405h1v1h-1zM781,405h2v1h-2zM795,405h1v1h-1zM798,405h1v1h-1zM111,406h1v1h-1zM124,406h1v1h-1zM131,406h1v1h-1zM149,406h1v1h-1zM155,406h1v1h-1zM158,406h1v1h-1zM198,406h1v1h-1zM202,406h1v1h-1zM225,406h1v1h-1zM238,406h1v1h-1zM246,406h1v1h-1zM256,406h1v1h-1zM265,406h1v1h-1zM389,406h1v1h-1zM399,406h1v1h-1zM408,406h1v1h-1zM413,406h1v1h-1zM457,406h1v1h-1zM459,406h1v1h-1zM489,406h1v1h-1zM495,406h1v1h-1zM498,406h1v1h-1zM502,406h1v1h-1zM520,406h1v1h-1zM524,406h1v1h-1zM618,406h1v1h-1zM620,406h1v1h-1zM648,406h2v1h-2zM667,406h1v1h-1zM677,406h1v1h-1zM682,406h1v1h-1zM694,406h1v1h-1zM725,406h1v1h-1zM728,406h1v1h-1zM749,406h1v1h-1zM768,406h1v1h-1zM781,406h2v1h-2zM795,406h1v1h-1zM798,406h1v1h-1zM111,407h1v1h-1zM124,407h1v1h-1zM131,407h1v1h-1zM149,407h1v1h-1zM155,407h1v1h-1zM158,407h1v1h-1zM197,407h1v1h-1zM202,407h1v1h-1zM224,407h1v1h-1zM239,407h1v1h-1zM246,407h1v1h-1zM256,407h1v1h-1zM265,407h1v1h-1zM389,407h1v1h-1zM399,407h1v1h-1zM408,407h1v1h-1zM413,407h1v1h-1zM457,407h1v1h-1zM460,407h1v1h-1zM489,407h1v1h-1zM495,407h1v1h-1zM497,407h1v1h-1zM502,407h1v1h-1zM519,407h1v1h-1zM524,407h1v1h-1zM618,407h1v1h-1zM620,407h1v1h-1zM648,407h2v1h-2zM667,407h1v1h-1zM677,407h1v1h-1zM682,407h1v1h-1zM694,407h1v1h-1zM725,407h1v1h-1zM728,407h1v1h-1zM749,407h1v1h-1zM768,407h1v1h-1zM780,407h1v1h-1zM782,407h1v1h-1zM794,407h1v1h-1zM798,407h1v1h-1zM111,408h1v1h-1zM124,408h1v1h-1zM131,408h1v1h-1zM149,408h1v1h-1zM155,408h1v1h-1zM158,408h1v1h-1zM197,408h1v1h-1zM202,408h1v1h-1zM224,408h1v1h-1zM239,408h1v1h-1zM245,408h1v1h-1zM256,408h1v1h-1zM265,408h1v1h-1zM389,408h1v1h-1zM400,408h1v1h-1zM408,408h1v1h-1zM413,408h1v1h-1zM457,408h1v1h-1zM461,408h1v1h-1zM489,408h1v1h-1zM495,408h1v1h-1zM497,408h1v1h-1zM502,408h1v1h-1zM519,408h1v1h-1zM524,408h1v1h-1zM593,408h2v1h-2zM618,408h1v1h-1zM620,408h1v1h-1zM648,408h2v1h-2zM667,408h1v1h-1zM677,408h1v1h-1zM681,408h1v1h-1zM694,408h1v1h-1zM725,408h1v1h-1zM728,408h1v1h-1zM748,408h1v1h-1zM768,408h1v1h-1zM780,408h1v1h-1zM782,408h1v1h-1zM794,408h1v1h-1zM798,408h1v1h-1zM111,409h1v1h-1zM124,409h1v1h-1zM131,409h1v1h-1zM150,409h1v1h-1zM155,409h1v1h-1zM158,409h1v1h-1zM196,409h1v1h-1zM202,409h1v1h-1zM224,409h1v1h-1zM239,409h1v1h-1zM245,409h1v1h-1zM256,409h1v1h-1zM265,409h2v1h-2zM373,409h1v1h-1zM389,409h1v1h-1zM400,409h1v1h-1zM407,409h1v1h-1zM413,409h1v1h-1zM457,409h1v1h-1zM462,409h1v1h-1zM489,409h1v1h-1zM496,409h1v1h-1zM502,409h1v1h-1zM519,409h1v1h-1zM524,409h1v1h-1zM591,409h2v1h-2zM594,409h1v1h-1zM618,409h1v1h-1zM620,409h1v1h-1zM648,409h2v1h-2zM667,409h1v1h-1zM677,409h1v1h-1zM680,409h1v1h-1zM694,409h1v1h-1zM724,409h1v1h-1zM728,409h1v1h-1zM748,409h1v1h-1zM768,409h1v1h-1zM780,409h1v1h-1zM782,409h1v1h-1zM794,409h1v1h-1zM798,409h1v1h-1zM111,410h1v1h-1zM124,410h1v1h-1zM131,410h1v1h-1zM150,410h1v1h-1zM155,410h1v1h-1zM158,410h1v1h-1zM166,410h1v1h-1zM196,410h1v1h-1zM203,410h1v1h-1zM224,410h1v1h-1zM239,410h1v1h-1zM245,410h1v1h-1zM257,410h1v1h-1zM265,410h2v1h-2zM373,410h1v1h-1zM389,410h1v1h-1zM400,410h1v1h-1zM407,410h1v1h-1zM413,410h1v1h-1zM457,410h1v1h-1zM462,410h1v1h-1zM488,410h1v1h-1zM496,410h1v1h-1zM502,410h1v1h-1zM519,410h1v1h-1zM524,410h1v1h-1zM589,410h2v1h-2zM594,410h1v1h-1zM618,410h1v1h-1zM620,410h1v1h-1zM648,410h1v1h-1zM650,410h1v1h-1zM666,410h1v1h-1zM678,410h2v1h-2zM695,410h1v1h-1zM724,410h1v1h-1zM728,410h1v1h-1zM747,410h1v1h-1zM768,410h1v1h-1zM780,410h1v1h-1zM782,410h1v1h-1zM794,410h1v1h-1zM799,410h1v1h-1zM111,411h1v1h-1zM125,411h1v1h-1zM131,411h1v1h-1zM150,411h1v1h-1zM154,411h1v1h-1zM158,411h1v1h-1zM166,411h1v1h-1zM196,411h1v1h-1zM203,411h1v1h-1zM224,411h1v1h-1zM239,411h1v1h-1zM244,411h1v1h-1zM257,411h1v1h-1zM264,411h1v1h-1zM266,411h1v1h-1zM373,411h1v1h-1zM388,411h1v1h-1zM400,411h1v1h-1zM407,411h1v1h-1zM413,411h1v1h-1zM456,411h1v1h-1zM462,411h1v1h-1zM488,411h1v1h-1zM502,411h1v1h-1zM519,411h1v1h-1zM524,411h1v1h-1zM589,411h1v1h-1zM594,411h1v1h-1zM618,411h1v1h-1zM620,411h1v1h-1zM647,411h1v1h-1zM650,411h1v1h-1zM666,411h1v1h-1zM678,411h2v1h-2zM695,411h1v1h-1zM724,411h1v1h-1zM728,411h1v1h-1zM747,411h1v1h-1zM768,411h1v1h-1zM780,411h1v1h-1zM783,411h1v1h-1zM794,411h1v1h-1zM799,411h1v1h-1zM111,412h1v1h-1zM125,412h1v1h-1zM131,412h1v1h-1zM150,412h1v1h-1zM154,412h1v1h-1zM159,412h1v1h-1zM165,412h2v1h-2zM196,412h1v1h-1zM203,412h1v1h-1zM224,412h1v1h-1zM239,412h1v1h-1zM243,412h1v1h-1zM257,412h1v1h-1zM264,412h1v1h-1zM266,412h1v1h-1zM275,412h1v1h-1zM373,412h1v1h-1zM388,412h1v1h-1zM400,412h1v1h-1zM407,412h1v1h-1zM413,412h1v1h-1zM456,412h1v1h-1zM462,412h1v1h-1zM488,412h1v1h-1zM502,412h1v1h-1zM519,412h1v1h-1zM525,412h1v1h-1zM589,412h1v1h-1zM595,412h1v1h-1zM617,412h1v1h-1zM620,412h1v1h-1zM647,412h1v1h-1zM650,412h1v1h-1zM658,412h1v1h-1zM666,412h1v1h-1zM678,412h1v1h-1zM695,412h1v1h-1zM724,412h1v1h-1zM729,412h1v1h-1zM747,412h1v1h-1zM768,412h1v1h-1zM780,412h1v1h-1zM783,412h1v1h-1zM793,412h1v1h-1zM799,412h1v1h-1zM111,413h1v1h-1zM125,413h1v1h-1zM130,413h1v1h-1zM150,413h1v1h-1zM154,413h1v1h-1zM159,413h1v1h-1zM165,413h2v1h-2zM196,413h1v1h-1zM203,413h1v1h-1zM224,413h1v1h-1zM240,413h1v1h-1zM242,413h1v1h-1zM257,413h1v1h-1zM264,413h1v1h-1zM266,413h1v1h-1zM275,413h1v1h-1zM373,413h2v1h-2zM388,413h1v1h-1zM400,413h1v1h-1zM407,413h1v1h-1zM413,413h1v1h-1zM456,413h1v1h-1zM462,413h1v1h-1zM488,413h1v1h-1zM502,413h1v1h-1zM519,413h1v1h-1zM525,413h1v1h-1zM555,413h1v1h-1zM589,413h1v1h-1zM595,413h1v1h-1zM617,413h1v1h-1zM621,413h1v1h-1zM647,413h1v1h-1zM650,413h1v1h-1zM658,413h1v1h-1zM666,413h1v1h-1zM695,413h1v1h-1zM723,413h1v1h-1zM729,413h1v1h-1zM747,413h1v1h-1zM768,413h1v1h-1zM780,413h1v1h-1zM783,413h1v1h-1zM793,413h1v1h-1zM799,413h1v1h-1zM93,414h1v1h-1zM110,414h1v1h-1zM125,414h1v1h-1zM130,414h1v1h-1zM150,414h1v1h-1zM154,414h1v1h-1zM159,414h1v1h-1zM165,414h2v1h-2zM196,414h1v1h-1zM203,414h1v1h-1zM224,414h1v1h-1zM240,414h1v1h-1zM242,414h1v1h-1zM257,414h1v1h-1zM264,414h1v1h-1zM266,414h1v1h-1zM275,414h1v1h-1zM373,414h2v1h-2zM387,414h1v1h-1zM400,414h1v1h-1zM406,414h1v1h-1zM413,414h1v1h-1zM456,414h1v1h-1zM462,414h1v1h-1zM488,414h1v1h-1zM502,414h1v1h-1zM519,414h1v1h-1zM525,414h1v1h-1zM554,414h2v1h-2zM575,414h1v1h-1zM589,414h1v1h-1zM595,414h1v1h-1zM617,414h1v1h-1zM621,414h1v1h-1zM647,414h1v1h-1zM650,414h1v1h-1zM657,414h2v1h-2zM666,414h1v1h-1zM695,414h1v1h-1zM723,414h1v1h-1zM729,414h1v1h-1zM747,414h1v1h-1zM768,414h1v1h-1zM780,414h1v1h-1zM783,414h1v1h-1zM793,414h1v1h-1zM799,414h1v1h-1zM93,415h1v1h-1zM110,415h1v1h-1zM125,415h1v1h-1zM130,415h1v1h-1zM150,415h1v1h-1zM154,415h1v1h-1zM159,415h1v1h-1zM164,415h1v1h-1zM167,415h1v1h-1zM195,415h1v1h-1zM203,415h1v1h-1zM224,415h1v1h-1zM240,415h2v1h-2zM257,415h1v1h-1zM264,415h1v1h-1zM266,415h1v1h-1zM274,415h1v1h-1zM276,415h1v1h-1zM373,415h2v1h-2zM387,415h1v1h-1zM400,415h1v1h-1zM406,415h1v1h-1zM414,415h1v1h-1zM456,415h1v1h-1zM463,415h1v1h-1zM488,415h1v1h-1zM502,415h1v1h-1zM519,415h1v1h-1zM525,415h1v1h-1zM554,415h2v1h-2zM575,415h1v1h-1zM588,415h1v1h-1zM595,415h1v1h-1zM617,415h1v1h-1zM621,415h1v1h-1zM647,415h1v1h-1zM651,415h1v1h-1zM657,415h2v1h-2zM666,415h1v1h-1zM695,415h1v1h-1zM723,415h1v1h-1zM729,415h1v1h-1zM747,415h1v1h-1zM769,415h1v1h-1zM780,415h1v1h-1zM783,415h1v1h-1zM793,415h1v1h-1zM800,415h1v1h-1zM94,416h1v1h-1zM110,416h1v1h-1zM125,416h1v1h-1zM130,416h1v1h-1zM150,416h1v1h-1zM154,416h1v1h-1zM159,416h1v1h-1zM164,416h1v1h-1zM167,416h1v1h-1zM195,416h1v1h-1zM203,416h1v1h-1zM224,416h1v1h-1zM240,416h1v1h-1zM257,416h1v1h-1zM264,416h1v1h-1zM267,416h1v1h-1zM274,416h1v1h-1zM276,416h1v1h-1zM372,416h1v1h-1zM374,416h1v1h-1zM386,416h1v1h-1zM400,416h1v1h-1zM406,416h1v1h-1zM414,416h1v1h-1zM456,416h1v1h-1zM463,416h1v1h-1zM487,416h1v1h-1zM502,416h1v1h-1zM519,416h1v1h-1zM525,416h1v1h-1zM553,416h1v1h-1zM555,416h1v1h-1zM575,416h2v1h-2zM588,416h1v1h-1zM595,416h1v1h-1zM617,416h1v1h-1zM621,416h1v1h-1zM647,416h1v1h-1zM651,416h1v1h-1zM657,416h2v1h-2zM666,416h1v1h-1zM695,416h1v1h-1zM723,416h1v1h-1zM729,416h1v1h-1zM747,416h1v1h-1zM769,416h1v1h-1zM780,416h1v1h-1zM783,416h1v1h-1zM793,416h1v1h-1zM800,416h1v1h-1zM94,417h1v1h-1zM110,417h1v1h-1zM125,417h1v1h-1zM130,417h1v1h-1zM150,417h1v1h-1zM154,417h1v1h-1zM159,417h1v1h-1zM164,417h1v1h-1zM167,417h1v1h-1zM195,417h1v1h-1zM203,417h1v1h-1zM224,417h1v1h-1zM257,417h1v1h-1zM264,417h1v1h-1zM267,417h1v1h-1zM274,417h1v1h-1zM276,417h1v1h-1zM372,417h1v1h-1zM374,417h1v1h-1zM386,417h1v1h-1zM400,417h1v1h-1zM406,417h1v1h-1zM414,417h1v1h-1zM456,417h1v1h-1zM463,417h1v1h-1zM487,417h1v1h-1zM503,417h1v1h-1zM518,417h1v1h-1zM526,417h1v1h-1zM552,417h1v1h-1zM556,417h1v1h-1zM575,417h2v1h-2zM588,417h1v1h-1zM595,417h1v1h-1zM617,417h1v1h-1zM621,417h1v1h-1zM647,417h1v1h-1zM651,417h1v1h-1zM656,417h1v1h-1zM659,417h1v1h-1zM666,417h1v1h-1zM695,417h1v1h-1zM722,417h1v1h-1zM729,417h1v1h-1zM746,417h1v1h-1zM769,417h1v1h-1zM780,417h1v1h-1zM783,417h1v1h-1zM793,417h1v1h-1zM800,417h1v1h-1zM95,418h1v1h-1zM110,418h1v1h-1zM125,418h1v1h-1zM130,418h1v1h-1zM150,418h1v1h-1zM154,418h1v1h-1zM160,418h1v1h-1zM163,418h1v1h-1zM167,418h1v1h-1zM195,418h1v1h-1zM203,418h1v1h-1zM224,418h1v1h-1zM257,418h1v1h-1zM264,418h1v1h-1zM267,418h1v1h-1zM274,418h1v1h-1zM276,418h1v1h-1zM372,418h1v1h-1zM374,418h1v1h-1zM385,418h1v1h-1zM400,418h1v1h-1zM406,418h1v1h-1zM414,418h1v1h-1zM456,418h1v1h-1zM463,418h1v1h-1zM487,418h1v1h-1zM503,418h1v1h-1zM518,418h1v1h-1zM526,418h1v1h-1zM551,418h1v1h-1zM556,418h1v1h-1zM575,418h2v1h-2zM588,418h1v1h-1zM595,418h1v1h-1zM616,418h1v1h-1zM621,418h1v1h-1zM647,418h1v1h-1zM651,418h1v1h-1zM656,418h1v1h-1zM659,418h1v1h-1zM666,418h1v1h-1zM695,418h1v1h-1zM722,418h1v1h-1zM729,418h1v1h-1zM746,418h1v1h-1zM769,418h1v1h-1zM780,418h1v1h-1zM783,418h1v1h-1zM792,418h1v1h-1zM800,418h1v1h-1zM95,419h1v1h-1zM110,419h1v1h-1zM125,419h1v1h-1zM130,419h1v1h-1zM151,419h1v1h-1zM154,419h1v1h-1zM160,419h1v1h-1zM163,419h1v1h-1zM167,419h1v1h-1zM195,419h1v1h-1zM204,419h1v1h-1zM224,419h1v1h-1zM257,419h1v1h-1zM264,419h1v1h-1zM267,419h1v1h-1zM274,419h1v1h-1zM276,419h1v1h-1zM372,419h1v1h-1zM374,419h1v1h-1zM385,419h1v1h-1zM400,419h1v1h-1zM406,419h1v1h-1zM414,419h1v1h-1zM456,419h1v1h-1zM463,419h1v1h-1zM487,419h1v1h-1zM503,419h1v1h-1zM518,419h1v1h-1zM526,419h1v1h-1zM551,419h1v1h-1zM556,419h1v1h-1zM575,419h2v1h-2zM588,419h1v1h-1zM596,419h1v1h-1zM616,419h1v1h-1zM621,419h1v1h-1zM647,419h1v1h-1zM652,419h1v1h-1zM655,419h1v1h-1zM659,419h1v1h-1zM666,419h1v1h-1zM695,419h1v1h-1zM722,419h1v1h-1zM730,419h1v1h-1zM746,419h1v1h-1zM769,419h1v1h-1zM779,419h1v1h-1zM784,419h1v1h-1zM792,419h1v1h-1zM801,419h1v1h-1zM95,420h1v1h-1zM110,420h1v1h-1zM125,420h1v1h-1zM129,420h1v1h-1zM151,420h1v1h-1zM153,420h1v1h-1zM160,420h1v1h-1zM163,420h1v1h-1zM167,420h1v1h-1zM195,420h1v1h-1zM204,420h1v1h-1zM224,420h1v1h-1zM257,420h1v1h-1zM264,420h1v1h-1zM267,420h1v1h-1zM274,420h1v1h-1zM277,420h1v1h-1zM372,420h1v1h-1zM375,420h1v1h-1zM384,420h1v1h-1zM400,420h1v1h-1zM406,420h1v1h-1zM414,420h1v1h-1zM456,420h1v1h-1zM463,420h1v1h-1zM481,420h1v1h-1zM487,420h1v1h-1zM503,420h1v1h-1zM518,420h1v1h-1zM526,420h1v1h-1zM550,420h1v1h-1zM556,420h1v1h-1zM574,420h1v1h-1zM577,420h1v1h-1zM588,420h1v1h-1zM596,420h1v1h-1zM616,420h1v1h-1zM622,420h1v1h-1zM647,420h1v1h-1zM652,420h1v1h-1zM655,420h1v1h-1zM659,420h1v1h-1zM666,420h1v1h-1zM695,420h1v1h-1zM722,420h1v1h-1zM730,420h1v1h-1zM746,420h1v1h-1zM769,420h1v1h-1zM779,420h1v1h-1zM784,420h1v1h-1zM792,420h1v1h-1zM801,420h1v1h-1zM96,421h1v1h-1zM110,421h1v1h-1zM125,421h1v1h-1zM129,421h1v1h-1zM151,421h1v1h-1zM153,421h1v1h-1zM160,421h1v1h-1zM163,421h1v1h-1zM167,421h1v1h-1zM195,421h1v1h-1zM204,421h1v1h-1zM223,421h1v1h-1zM257,421h1v1h-1zM264,421h1v1h-1zM267,421h1v1h-1zM273,421h1v1h-1zM277,421h1v1h-1zM372,421h1v1h-1zM375,421h1v1h-1zM384,421h1v1h-1zM400,421h1v1h-1zM405,421h1v1h-1zM414,421h1v1h-1zM456,421h1v1h-1zM463,421h1v1h-1zM481,421h2v1h-2zM487,421h1v1h-1zM503,421h1v1h-1zM518,421h1v1h-1zM526,421h1v1h-1zM550,421h1v1h-1zM556,421h1v1h-1zM574,421h1v1h-1zM577,421h1v1h-1zM588,421h1v1h-1zM596,421h1v1h-1zM616,421h1v1h-1zM622,421h1v1h-1zM647,421h1v1h-1zM652,421h1v1h-1zM655,421h1v1h-1zM659,421h1v1h-1zM666,421h1v1h-1zM695,421h1v1h-1zM722,421h1v1h-1zM730,421h1v1h-1zM746,421h1v1h-1zM769,421h1v1h-1zM779,421h1v1h-1zM784,421h1v1h-1zM792,421h1v1h-1zM96,422h1v1h-1zM109,422h1v1h-1zM126,422h1v1h-1zM129,422h1v1h-1zM151,422h1v1h-1zM153,422h1v1h-1zM160,422h1v1h-1zM162,422h1v1h-1zM167,422h1v1h-1zM195,422h1v1h-1zM204,422h1v1h-1zM223,422h1v1h-1zM257,422h1v1h-1zM263,422h1v1h-1zM267,422h1v1h-1zM273,422h1v1h-1zM277,422h1v1h-1zM372,422h1v1h-1zM375,422h1v1h-1zM383,422h1v1h-1zM400,422h1v1h-1zM405,422h1v1h-1zM414,422h1v1h-1zM456,422h1v1h-1zM463,422h1v1h-1zM481,422h1v1h-1zM483,422h1v1h-1zM486,422h1v1h-1zM503,422h1v1h-1zM518,422h1v1h-1zM527,422h1v1h-1zM550,422h1v1h-1zM556,422h1v1h-1zM574,422h1v1h-1zM577,422h1v1h-1zM588,422h1v1h-1zM596,422h1v1h-1zM616,422h1v1h-1zM622,422h1v1h-1zM647,422h1v1h-1zM652,422h1v1h-1zM654,422h1v1h-1zM659,422h1v1h-1zM666,422h1v1h-1zM695,422h1v1h-1zM722,422h1v1h-1zM730,422h1v1h-1zM746,422h1v1h-1zM769,422h1v1h-1zM779,422h1v1h-1zM784,422h1v1h-1zM792,422h1v1h-1zM97,423h1v1h-1zM109,423h1v1h-1zM126,423h1v1h-1zM129,423h1v1h-1zM151,423h1v1h-1zM153,423h1v1h-1zM160,423h1v1h-1zM162,423h1v1h-1zM167,423h1v1h-1zM195,423h1v1h-1zM204,423h1v1h-1zM223,423h1v1h-1zM257,423h1v1h-1zM263,423h1v1h-1zM267,423h1v1h-1zM273,423h1v1h-1zM277,423h1v1h-1zM353,423h1v1h-1zM372,423h1v1h-1zM375,423h1v1h-1zM383,423h1v1h-1zM401,423h1v1h-1zM405,423h1v1h-1zM414,423h1v1h-1zM456,423h1v1h-1zM463,423h1v1h-1zM481,423h1v1h-1zM484,423h1v1h-1zM486,423h1v1h-1zM503,423h1v1h-1zM518,423h1v1h-1zM527,423h1v1h-1zM550,423h1v1h-1zM556,423h1v1h-1zM574,423h1v1h-1zM577,423h1v1h-1zM587,423h1v1h-1zM596,423h1v1h-1zM616,423h1v1h-1zM622,423h1v1h-1zM647,423h1v1h-1zM652,423h1v1h-1zM654,423h1v1h-1zM659,423h1v1h-1zM665,423h1v1h-1zM696,423h1v1h-1zM722,423h1v1h-1zM730,423h1v1h-1zM746,423h1v1h-1zM769,423h1v1h-1zM779,423h1v1h-1zM784,423h1v1h-1zM792,423h1v1h-1zM97,424h1v1h-1zM109,424h1v1h-1zM126,424h1v1h-1zM129,424h1v1h-1zM151,424h1v1h-1zM153,424h1v1h-1zM161,424h2v1h-2zM168,424h1v1h-1zM195,424h1v1h-1zM204,424h1v1h-1zM223,424h1v1h-1zM258,424h1v1h-1zM263,424h1v1h-1zM268,424h1v1h-1zM273,424h1v1h-1zM278,424h1v1h-1zM353,424h1v1h-1zM372,424h1v1h-1zM375,424h1v1h-1zM383,424h1v1h-1zM401,424h1v1h-1zM405,424h1v1h-1zM414,424h1v1h-1zM456,424h1v1h-1zM463,424h1v1h-1zM481,424h1v1h-1zM485,424h2v1h-2zM503,424h1v1h-1zM518,424h1v1h-1zM527,424h1v1h-1zM550,424h1v1h-1zM556,424h1v1h-1zM574,424h1v1h-1zM578,424h1v1h-1zM587,424h1v1h-1zM596,424h1v1h-1zM615,424h1v1h-1zM622,424h1v1h-1zM647,424h1v1h-1zM653,424h2v1h-2zM659,424h1v1h-1zM665,424h1v1h-1zM696,424h1v1h-1zM721,424h1v1h-1zM730,424h1v1h-1zM746,424h1v1h-1zM769,424h1v1h-1zM779,424h1v1h-1zM784,424h1v1h-1zM791,424h1v1h-1zM98,425h1v1h-1zM109,425h1v1h-1zM126,425h1v1h-1zM129,425h1v1h-1zM151,425h1v1h-1zM153,425h1v1h-1zM161,425h1v1h-1zM168,425h1v1h-1zM194,425h1v1h-1zM204,425h1v1h-1zM223,425h1v1h-1zM258,425h1v1h-1zM263,425h1v1h-1zM268,425h1v1h-1zM273,425h1v1h-1zM278,425h1v1h-1zM353,425h1v1h-1zM372,425h1v1h-1zM375,425h1v1h-1zM382,425h1v1h-1zM401,425h1v1h-1zM405,425h1v1h-1zM414,425h1v1h-1zM455,425h1v1h-1zM463,425h1v1h-1zM481,425h1v1h-1zM486,425h1v1h-1zM503,425h1v1h-1zM518,425h1v1h-1zM527,425h1v1h-1zM550,425h1v1h-1zM557,425h1v1h-1zM574,425h1v1h-1zM578,425h1v1h-1zM587,425h1v1h-1zM596,425h1v1h-1zM615,425h1v1h-1zM622,425h1v1h-1zM647,425h1v1h-1zM653,425h1v1h-1zM660,425h1v1h-1zM665,425h1v1h-1zM696,425h1v1h-1zM721,425h1v1h-1zM730,425h1v1h-1zM746,425h1v1h-1zM769,425h1v1h-1zM779,425h1v1h-1zM784,425h1v1h-1zM791,425h1v1h-1zM98,426h1v1h-1zM109,426h1v1h-1zM126,426h1v1h-1zM129,426h1v1h-1zM151,426h1v1h-1zM153,426h1v1h-1zM161,426h1v1h-1zM168,426h1v1h-1zM194,426h1v1h-1zM204,426h1v1h-1zM223,426h1v1h-1zM258,426h1v1h-1zM263,426h1v1h-1zM268,426h1v1h-1zM273,426h1v1h-1zM278,426h1v1h-1zM353,426h1v1h-1zM372,426h1v1h-1zM375,426h1v1h-1zM382,426h1v1h-1zM401,426h1v1h-1zM405,426h1v1h-1zM414,426h1v1h-1zM455,426h1v1h-1zM464,426h1v1h-1zM480,426h1v1h-1zM503,426h1v1h-1zM518,426h1v1h-1zM527,426h1v1h-1zM549,426h1v1h-1zM557,426h1v1h-1zM574,426h1v1h-1zM578,426h1v1h-1zM587,426h1v1h-1zM596,426h1v1h-1zM615,426h1v1h-1zM623,426h1v1h-1zM647,426h1v1h-1zM653,426h1v1h-1zM660,426h1v1h-1zM665,426h1v1h-1zM696,426h1v1h-1zM721,426h1v1h-1zM731,426h1v1h-1zM746,426h1v1h-1zM769,426h1v1h-1zM779,426h1v1h-1zM785,426h1v1h-1zM791,426h1v1h-1zM99,427h1v1h-1zM109,427h1v1h-1zM126,427h1v1h-1zM129,427h1v1h-1zM151,427h1v1h-1zM153,427h1v1h-1zM168,427h1v1h-1zM194,427h1v1h-1zM204,427h1v1h-1zM223,427h1v1h-1zM258,427h1v1h-1zM263,427h1v1h-1zM268,427h1v1h-1zM272,427h1v1h-1zM278,427h1v1h-1zM353,427h2v1h-2zM372,427h1v1h-1zM376,427h1v1h-1zM382,427h1v1h-1zM401,427h1v1h-1zM405,427h1v1h-1zM414,427h1v1h-1zM455,427h1v1h-1zM464,427h1v1h-1zM480,427h1v1h-1zM503,427h1v1h-1zM517,427h1v1h-1zM528,427h1v1h-1zM549,427h1v1h-1zM557,427h1v1h-1zM574,427h1v1h-1zM578,427h1v1h-1zM587,427h1v1h-1zM597,427h1v1h-1zM615,427h1v1h-1zM623,427h1v1h-1zM647,427h1v1h-1zM660,427h1v1h-1zM665,427h1v1h-1zM696,427h1v1h-1zM721,427h1v1h-1zM731,427h1v1h-1zM746,427h1v1h-1zM769,427h1v1h-1zM779,427h1v1h-1zM785,427h1v1h-1zM790,427h1v1h-1zM100,428h1v1h-1zM109,428h1v1h-1zM126,428h1v1h-1zM128,428h1v1h-1zM151,428h1v1h-1zM153,428h1v1h-1zM168,428h1v1h-1zM194,428h1v1h-1zM205,428h1v1h-1zM223,428h1v1h-1zM258,428h1v1h-1zM263,428h1v1h-1zM268,428h1v1h-1zM272,428h1v1h-1zM278,428h1v1h-1zM353,428h2v1h-2zM371,428h1v1h-1zM376,428h1v1h-1zM382,428h1v1h-1zM401,428h1v1h-1zM404,428h1v1h-1zM414,428h1v1h-1zM455,428h1v1h-1zM464,428h1v1h-1zM480,428h1v1h-1zM503,428h1v1h-1zM517,428h1v1h-1zM528,428h1v1h-1zM549,428h1v1h-1zM557,428h1v1h-1zM574,428h1v1h-1zM579,428h1v1h-1zM587,428h1v1h-1zM597,428h1v1h-1zM615,428h1v1h-1zM623,428h1v1h-1zM647,428h1v1h-1zM660,428h1v1h-1zM665,428h1v1h-1zM696,428h1v1h-1zM721,428h1v1h-1zM731,428h1v1h-1zM746,428h1v1h-1zM769,428h1v1h-1zM779,428h1v1h-1zM785,428h1v1h-1zM790,428h1v1h-1zM101,429h1v1h-1zM109,429h1v1h-1zM126,429h1v1h-1zM128,429h1v1h-1zM152,429h2v1h-2zM168,429h1v1h-1zM194,429h1v1h-1zM205,429h1v1h-1zM223,429h1v1h-1zM258,429h1v1h-1zM263,429h1v1h-1zM268,429h1v1h-1zM272,429h1v1h-1zM279,429h1v1h-1zM352,429h1v1h-1zM354,429h1v1h-1zM371,429h1v1h-1zM376,429h1v1h-1zM381,429h1v1h-1zM401,429h1v1h-1zM404,429h1v1h-1zM415,429h1v1h-1zM455,429h1v1h-1zM464,429h1v1h-1zM480,429h1v1h-1zM504,429h1v1h-1zM517,429h1v1h-1zM528,429h1v1h-1zM549,429h1v1h-1zM557,429h1v1h-1zM574,429h1v1h-1zM579,429h1v1h-1zM587,429h1v1h-1zM597,429h1v1h-1zM615,429h1v1h-1zM623,429h1v1h-1zM646,429h1v1h-1zM660,429h1v1h-1zM665,429h1v1h-1zM696,429h1v1h-1zM721,429h1v1h-1zM731,429h1v1h-1zM745,429h1v1h-1zM770,429h1v1h-1zM779,429h1v1h-1zM785,429h1v1h-1zM789,429h1v1h-1zM101,430h1v1h-1zM109,430h1v1h-1zM126,430h1v1h-1zM128,430h1v1h-1zM152,430h1v1h-1zM168,430h1v1h-1zM194,430h1v1h-1zM205,430h1v1h-1zM223,430h1v1h-1zM258,430h1v1h-1zM263,430h1v1h-1zM268,430h1v1h-1zM272,430h1v1h-1zM279,430h1v1h-1zM352,430h1v1h-1zM354,430h1v1h-1zM371,430h1v1h-1zM376,430h1v1h-1zM381,430h1v1h-1zM401,430h1v1h-1zM404,430h1v1h-1zM415,430h1v1h-1zM455,430h1v1h-1zM464,430h1v1h-1zM480,430h1v1h-1zM504,430h1v1h-1zM517,430h1v1h-1zM528,430h1v1h-1zM549,430h1v1h-1zM557,430h1v1h-1zM573,430h1v1h-1zM579,430h1v1h-1zM587,430h1v1h-1zM597,430h1v1h-1zM614,430h1v1h-1zM623,430h1v1h-1zM646,430h1v1h-1zM660,430h1v1h-1zM665,430h1v1h-1zM696,430h1v1h-1zM721,430h1v1h-1zM731,430h1v1h-1zM745,430h1v1h-1zM770,430h1v1h-1zM779,430h1v1h-1zM785,430h1v1h-1zM789,430h1v1h-1zM102,431h1v1h-1zM108,431h1v1h-1zM126,431h1v1h-1zM128,431h1v1h-1zM152,431h1v1h-1zM168,431h1v1h-1zM194,431h1v1h-1zM205,431h1v1h-1zM223,431h1v1h-1zM258,431h1v1h-1zM263,431h1v1h-1zM269,431h1v1h-1zM272,431h1v1h-1zM279,431h1v1h-1zM352,431h1v1h-1zM354,431h1v1h-1zM371,431h1v1h-1zM376,431h1v1h-1zM381,431h1v1h-1zM401,431h1v1h-1zM404,431h1v1h-1zM415,431h1v1h-1zM455,431h1v1h-1zM464,431h1v1h-1zM480,431h1v1h-1zM504,431h1v1h-1zM517,431h1v1h-1zM529,431h1v1h-1zM549,431h1v1h-1zM557,431h1v1h-1zM573,431h1v1h-1zM579,431h1v1h-1zM587,431h1v1h-1zM597,431h1v1h-1zM614,431h1v1h-1zM623,431h1v1h-1zM646,431h1v1h-1zM660,431h1v1h-1zM665,431h1v1h-1zM696,431h1v1h-1zM721,431h1v1h-1zM731,431h1v1h-1zM745,431h1v1h-1zM770,431h1v1h-1zM778,431h1v1h-1zM785,431h1v1h-1zM788,431h1v1h-1zM102,432h1v1h-1zM108,432h1v1h-1zM126,432h1v1h-1zM128,432h1v1h-1zM152,432h1v1h-1zM168,432h1v1h-1zM194,432h1v1h-1zM205,432h1v1h-1zM223,432h1v1h-1zM258,432h1v1h-1zM262,432h1v1h-1zM269,432h1v1h-1zM272,432h1v1h-1zM279,432h1v1h-1zM352,432h1v1h-1zM354,432h1v1h-1zM371,432h1v1h-1zM376,432h1v1h-1zM381,432h1v1h-1zM401,432h1v1h-1zM404,432h1v1h-1zM415,432h1v1h-1zM422,432h1v1h-1zM455,432h1v1h-1zM464,432h1v1h-1zM480,432h1v1h-1zM504,432h1v1h-1zM517,432h1v1h-1zM529,432h1v1h-1zM549,432h1v1h-1zM557,432h1v1h-1zM573,432h1v1h-1zM580,432h1v1h-1zM586,432h1v1h-1zM597,432h1v1h-1zM614,432h1v1h-1zM623,432h1v1h-1zM646,432h1v1h-1zM660,432h1v1h-1zM665,432h1v1h-1zM696,432h1v1h-1zM721,432h1v1h-1zM731,432h1v1h-1zM745,432h1v1h-1zM770,432h1v1h-1zM778,432h1v1h-1zM785,432h1v1h-1zM788,432h1v1h-1zM103,433h1v1h-1zM108,433h1v1h-1zM126,433h1v1h-1zM128,433h1v1h-1zM152,433h1v1h-1zM168,433h1v1h-1zM194,433h1v1h-1zM205,433h1v1h-1zM223,433h1v1h-1zM258,433h1v1h-1zM262,433h1v1h-1zM269,433h1v1h-1zM271,433h1v1h-1zM280,433h1v1h-1zM352,433h1v1h-1zM354,433h1v1h-1zM371,433h1v1h-1zM376,433h1v1h-1zM380,433h1v1h-1zM401,433h1v1h-1zM404,433h1v1h-1zM415,433h1v1h-1zM422,433h1v1h-1zM455,433h1v1h-1zM464,433h1v1h-1zM480,433h1v1h-1zM504,433h1v1h-1zM517,433h1v1h-1zM529,433h1v1h-1zM549,433h1v1h-1zM558,433h1v1h-1zM573,433h1v1h-1zM580,433h1v1h-1zM586,433h1v1h-1zM597,433h1v1h-1zM614,433h1v1h-1zM624,433h1v1h-1zM646,433h1v1h-1zM660,433h1v1h-1zM665,433h1v1h-1zM696,433h1v1h-1zM721,433h1v1h-1zM731,433h1v1h-1zM745,433h1v1h-1zM770,433h1v1h-1zM778,433h1v1h-1zM786,433h2v1h-2zM103,434h1v1h-1zM108,434h1v1h-1zM127,434h2v1h-2zM152,434h1v1h-1zM169,434h1v1h-1zM193,434h1v1h-1zM205,434h1v1h-1zM223,434h1v1h-1zM258,434h1v1h-1zM262,434h1v1h-1zM269,434h1v1h-1zM271,434h1v1h-1zM280,434h1v1h-1zM352,434h1v1h-1zM355,434h1v1h-1zM371,434h1v1h-1zM377,434h1v1h-1zM380,434h1v1h-1zM401,434h1v1h-1zM404,434h1v1h-1zM415,434h1v1h-1zM422,434h1v1h-1zM455,434h1v1h-1zM464,434h1v1h-1zM480,434h1v1h-1zM504,434h1v1h-1zM517,434h1v1h-1zM529,434h1v1h-1zM549,434h1v1h-1zM558,434h1v1h-1zM573,434h1v1h-1zM580,434h1v1h-1zM586,434h1v1h-1zM598,434h1v1h-1zM614,434h1v1h-1zM624,434h1v1h-1zM646,434h1v1h-1zM661,434h1v1h-1zM665,434h1v1h-1zM696,434h1v1h-1zM721,434h1v1h-1zM732,434h1v1h-1zM745,434h1v1h-1zM770,434h1v1h-1zM778,434h1v1h-1zM786,434h2v1h-2zM104,435h1v1h-1zM108,435h1v1h-1zM127,435h2v1h-2zM169,435h1v1h-1zM193,435h1v1h-1zM205,435h1v1h-1zM222,435h1v1h-1zM258,435h1v1h-1zM262,435h1v1h-1zM269,435h1v1h-1zM271,435h1v1h-1zM280,435h1v1h-1zM352,435h1v1h-1zM355,435h1v1h-1zM371,435h1v1h-1zM377,435h1v1h-1zM380,435h1v1h-1zM401,435h1v1h-1zM404,435h1v1h-1zM415,435h1v1h-1zM422,435h2v1h-2zM455,435h1v1h-1zM464,435h1v1h-1zM480,435h1v1h-1zM504,435h1v1h-1zM517,435h1v1h-1zM529,435h1v1h-1zM549,435h1v1h-1zM558,435h1v1h-1zM573,435h1v1h-1zM581,435h1v1h-1zM586,435h1v1h-1zM598,435h1v1h-1zM614,435h1v1h-1zM624,435h1v1h-1zM646,435h1v1h-1zM661,435h1v1h-1zM665,435h1v1h-1zM696,435h1v1h-1zM721,435h1v1h-1zM732,435h1v1h-1zM745,435h1v1h-1zM770,435h1v1h-1zM778,435h1v1h-1zM786,435h1v1h-1zM104,436h1v1h-1zM108,436h1v1h-1zM127,436h1v1h-1zM169,436h1v1h-1zM193,436h1v1h-1zM206,436h1v1h-1zM222,436h1v1h-1zM258,436h1v1h-1zM262,436h1v1h-1zM269,436h1v1h-1zM271,436h1v1h-1zM280,436h1v1h-1zM352,436h1v1h-1zM355,436h1v1h-1zM371,436h1v1h-1zM377,436h1v1h-1zM380,436h1v1h-1zM401,436h1v1h-1zM403,436h1v1h-1zM415,436h1v1h-1zM421,436h1v1h-1zM423,436h1v1h-1zM455,436h1v1h-1zM464,436h1v1h-1zM480,436h1v1h-1zM504,436h1v1h-1zM517,436h1v1h-1zM530,436h1v1h-1zM549,436h1v1h-1zM558,436h1v1h-1zM573,436h1v1h-1zM581,436h1v1h-1zM586,436h1v1h-1zM598,436h1v1h-1zM614,436h1v1h-1zM624,436h1v1h-1zM646,436h1v1h-1zM661,436h1v1h-1zM664,436h1v1h-1zM697,436h1v1h-1zM720,436h1v1h-1zM732,436h1v1h-1zM745,436h1v1h-1zM770,436h1v1h-1zM778,436h1v1h-1zM786,436h1v1h-1zM104,437h1v1h-1zM108,437h1v1h-1zM127,437h1v1h-1zM169,437h1v1h-1zM193,437h1v1h-1zM206,437h1v1h-1zM222,437h1v1h-1zM258,437h1v1h-1zM262,437h1v1h-1zM269,437h1v1h-1zM271,437h1v1h-1zM281,437h1v1h-1zM352,437h1v1h-1zM355,437h1v1h-1zM371,437h1v1h-1zM377,437h1v1h-1zM380,437h1v1h-1zM401,437h1v1h-1zM403,437h1v1h-1zM415,437h1v1h-1zM421,437h1v1h-1zM423,437h1v1h-1zM455,437h1v1h-1zM464,437h1v1h-1zM480,437h1v1h-1zM504,437h1v1h-1zM516,437h1v1h-1zM530,437h1v1h-1zM548,437h1v1h-1zM558,437h1v1h-1zM573,437h1v1h-1zM582,437h1v1h-1zM586,437h1v1h-1zM598,437h1v1h-1zM614,437h1v1h-1zM624,437h1v1h-1zM646,437h1v1h-1zM661,437h1v1h-1zM664,437h1v1h-1zM697,437h1v1h-1zM720,437h1v1h-1zM732,437h1v1h-1zM745,437h1v1h-1zM770,437h1v1h-1zM778,437h1v1h-1zM105,438h1v1h-1zM108,438h1v1h-1zM127,438h1v1h-1zM169,438h1v1h-1zM186,438h1v1h-1zM193,438h1v1h-1zM206,438h1v1h-1zM222,438h1v1h-1zM259,438h1v1h-1zM262,438h1v1h-1zM270,438h2v1h-2zM281,438h1v1h-1zM352,438h1v1h-1zM355,438h1v1h-1zM371,438h1v1h-1zM377,438h1v1h-1zM379,438h1v1h-1zM401,438h1v1h-1zM403,438h1v1h-1zM415,438h1v1h-1zM421,438h1v1h-1zM423,438h1v1h-1zM454,438h1v1h-1zM465,438h1v1h-1zM479,438h1v1h-1zM504,438h1v1h-1zM516,438h1v1h-1zM530,438h1v1h-1zM548,438h1v1h-1zM558,438h1v1h-1zM573,438h1v1h-1zM582,438h1v1h-1zM586,438h1v1h-1zM598,438h1v1h-1zM613,438h1v1h-1zM625,438h1v1h-1zM646,438h1v1h-1zM661,438h1v1h-1zM664,438h1v1h-1zM697,438h1v1h-1zM720,438h1v1h-1zM732,438h1v1h-1zM745,438h1v1h-1zM770,438h1v1h-1zM778,438h1v1h-1zM105,439h1v1h-1zM107,439h1v1h-1zM127,439h1v1h-1zM169,439h1v1h-1zM186,439h1v1h-1zM193,439h1v1h-1zM206,439h1v1h-1zM222,439h1v1h-1zM259,439h1v1h-1zM262,439h1v1h-1zM270,439h1v1h-1zM281,439h1v1h-1zM352,439h1v1h-1zM355,439h1v1h-1zM371,439h1v1h-1zM377,439h1v1h-1zM379,439h1v1h-1zM402,439h2v1h-2zM415,439h1v1h-1zM421,439h1v1h-1zM424,439h1v1h-1zM454,439h1v1h-1zM465,439h1v1h-1zM479,439h1v1h-1zM504,439h1v1h-1zM516,439h1v1h-1zM530,439h1v1h-1zM548,439h1v1h-1zM558,439h1v1h-1zM573,439h1v1h-1zM583,439h1v1h-1zM586,439h1v1h-1zM598,439h1v1h-1zM613,439h1v1h-1zM625,439h1v1h-1zM646,439h1v1h-1zM661,439h1v1h-1zM664,439h1v1h-1zM697,439h1v1h-1zM720,439h1v1h-1zM732,439h1v1h-1zM745,439h1v1h-1zM770,439h1v1h-1zM778,439h1v1h-1zM106,440h2v1h-2zM169,440h1v1h-1zM186,440h1v1h-1zM193,440h1v1h-1zM206,440h1v1h-1zM222,440h1v1h-1zM259,440h1v1h-1zM262,440h1v1h-1zM270,440h1v1h-1zM281,440h1v1h-1zM351,440h1v1h-1zM355,440h1v1h-1zM370,440h1v1h-1zM377,440h1v1h-1zM379,440h1v1h-1zM402,440h2v1h-2zM415,440h1v1h-1zM421,440h1v1h-1zM424,440h1v1h-1zM454,440h1v1h-1zM465,440h1v1h-1zM479,440h1v1h-1zM504,440h1v1h-1zM516,440h1v1h-1zM530,440h1v1h-1zM548,440h1v1h-1zM559,440h1v1h-1zM572,440h1v1h-1zM583,440h1v1h-1zM585,440h1v1h-1zM598,440h1v1h-1zM613,440h1v1h-1zM626,440h1v1h-1zM646,440h1v1h-1zM661,440h1v1h-1zM664,440h1v1h-1zM697,440h1v1h-1zM720,440h1v1h-1zM732,440h1v1h-1zM745,440h1v1h-1zM770,440h1v1h-1zM778,440h1v1h-1zM106,441h2v1h-2zM169,441h1v1h-1zM186,441h2v1h-2zM193,441h1v1h-1zM206,441h1v1h-1zM222,441h1v1h-1zM259,441h1v1h-1zM262,441h1v1h-1zM270,441h1v1h-1zM282,441h1v1h-1zM351,441h1v1h-1zM355,441h1v1h-1zM370,441h1v1h-1zM378,441h2v1h-2zM402,441h2v1h-2zM415,441h1v1h-1zM421,441h1v1h-1zM424,441h1v1h-1zM454,441h1v1h-1zM465,441h1v1h-1zM479,441h1v1h-1zM505,441h1v1h-1zM516,441h1v1h-1zM531,441h1v1h-1zM548,441h1v1h-1zM559,441h1v1h-1zM572,441h1v1h-1zM584,441h2v1h-2zM599,441h1v1h-1zM613,441h1v1h-1zM626,441h1v1h-1zM646,441h1v1h-1zM661,441h1v1h-1zM664,441h1v1h-1zM697,441h1v1h-1zM720,441h1v1h-1zM733,441h1v1h-1zM744,441h1v1h-1zM770,441h1v1h-1zM778,441h1v1h-1zM107,442h1v1h-1zM169,442h1v1h-1zM185,442h1v1h-1zM187,442h1v1h-1zM193,442h1v1h-1zM206,442h1v1h-1zM222,442h1v1h-1zM259,442h1v1h-1zM262,442h1v1h-1zM282,442h1v1h-1zM351,442h1v1h-1zM356,442h1v1h-1zM370,442h1v1h-1zM378,442h1v1h-1zM402,442h2v1h-2zM415,442h1v1h-1zM420,442h1v1h-1zM424,442h1v1h-1zM454,442h1v1h-1zM465,442h1v1h-1zM479,442h1v1h-1zM505,442h1v1h-1zM515,442h2v1h-2zM531,442h1v1h-1zM548,442h1v1h-1zM559,442h1v1h-1zM572,442h1v1h-1zM584,442h2v1h-2zM599,442h1v1h-1zM613,442h1v1h-1zM627,442h1v1h-1zM646,442h1v1h-1zM662,442h1v1h-1zM664,442h1v1h-1zM697,442h1v1h-1zM720,442h1v1h-1zM733,442h1v1h-1zM744,442h1v1h-1zM770,442h1v1h-1zM778,442h1v1h-1zM107,443h1v1h-1zM170,443h1v1h-1zM185,443h1v1h-1zM187,443h1v1h-1zM193,443h1v1h-1zM207,443h1v1h-1zM222,443h1v1h-1zM259,443h1v1h-1zM261,443h1v1h-1zM282,443h1v1h-1zM351,443h1v1h-1zM356,443h1v1h-1zM370,443h1v1h-1zM378,443h1v1h-1zM402,443h1v1h-1zM416,443h1v1h-1zM420,443h1v1h-1zM424,443h1v1h-1zM454,443h1v1h-1zM465,443h1v1h-1zM479,443h1v1h-1zM505,443h1v1h-1zM513,443h2v1h-2zM531,443h1v1h-1zM548,443h1v1h-1zM559,443h1v1h-1zM572,443h1v1h-1zM585,443h1v1h-1zM599,443h1v1h-1zM613,443h1v1h-1zM627,443h1v1h-1zM646,443h1v1h-1zM662,443h1v1h-1zM664,443h1v1h-1zM697,443h1v1h-1zM720,443h1v1h-1zM733,443h1v1h-1zM744,443h1v1h-1zM771,443h1v1h-1zM778,443h1v1h-1zM170,444h1v1h-1zM185,444h1v1h-1zM187,444h1v1h-1zM192,444h1v1h-1zM207,444h1v1h-1zM222,444h1v1h-1zM259,444h1v1h-1zM261,444h1v1h-1zM283,444h1v1h-1zM351,444h1v1h-1zM356,444h1v1h-1zM370,444h1v1h-1zM378,444h1v1h-1zM402,444h1v1h-1zM416,444h1v1h-1zM420,444h1v1h-1zM425,444h1v1h-1zM454,444h1v1h-1zM465,444h1v1h-1zM479,444h1v1h-1zM505,444h1v1h-1zM511,444h2v1h-2zM531,444h1v1h-1zM548,444h1v1h-1zM559,444h1v1h-1zM572,444h1v1h-1zM585,444h1v1h-1zM599,444h1v1h-1zM613,444h1v1h-1zM628,444h1v1h-1zM646,444h1v1h-1zM662,444h1v1h-1zM664,444h1v1h-1zM697,444h1v1h-1zM720,444h1v1h-1zM733,444h1v1h-1zM744,444h1v1h-1zM771,444h1v1h-1zM777,444h1v1h-1zM170,445h1v1h-1zM185,445h1v1h-1zM188,445h1v1h-1zM192,445h1v1h-1zM207,445h1v1h-1zM222,445h1v1h-1zM259,445h1v1h-1zM261,445h1v1h-1zM283,445h1v1h-1zM351,445h1v1h-1zM356,445h1v1h-1zM370,445h1v1h-1zM402,445h1v1h-1zM416,445h1v1h-1zM420,445h1v1h-1zM425,445h1v1h-1zM454,445h1v1h-1zM465,445h1v1h-1zM479,445h1v1h-1zM505,445h1v1h-1zM511,445h1v1h-1zM532,445h1v1h-1zM548,445h1v1h-1zM559,445h1v1h-1zM572,445h1v1h-1zM599,445h1v1h-1zM613,445h1v1h-1zM628,445h1v1h-1zM646,445h1v1h-1zM662,445h1v1h-1zM664,445h1v1h-1zM697,445h1v1h-1zM720,445h1v1h-1zM733,445h1v1h-1zM744,445h1v1h-1zM771,445h1v1h-1zM777,445h1v1h-1zM170,446h1v1h-1zM185,446h1v1h-1zM188,446h1v1h-1zM192,446h1v1h-1zM207,446h1v1h-1zM222,446h1v1h-1zM259,446h1v1h-1zM261,446h1v1h-1zM283,446h1v1h-1zM351,446h1v1h-1zM356,446h1v1h-1zM370,446h1v1h-1zM402,446h1v1h-1zM416,446h1v1h-1zM420,446h1v1h-1zM425,446h1v1h-1zM454,446h1v1h-1zM465,446h1v1h-1zM479,446h1v1h-1zM505,446h1v1h-1zM510,446h1v1h-1zM532,446h1v1h-1zM548,446h1v1h-1zM559,446h1v1h-1zM572,446h1v1h-1zM599,446h1v1h-1zM613,446h1v1h-1zM629,446h1v1h-1zM646,446h1v1h-1zM662,446h1v1h-1zM664,446h1v1h-1zM697,446h1v1h-1zM720,446h1v1h-1zM733,446h1v1h-1zM744,446h1v1h-1zM771,446h1v1h-1zM777,446h1v1h-1zM170,447h1v1h-1zM185,447h1v1h-1zM188,447h1v1h-1zM192,447h1v1h-1zM207,447h1v1h-1zM222,447h1v1h-1zM259,447h1v1h-1zM261,447h1v1h-1zM283,447h1v1h-1zM351,447h1v1h-1zM356,447h1v1h-1zM370,447h1v1h-1zM416,447h1v1h-1zM420,447h1v1h-1zM425,447h1v1h-1zM454,447h1v1h-1zM465,447h1v1h-1zM479,447h1v1h-1zM505,447h1v1h-1zM510,447h1v1h-1zM532,447h1v1h-1zM548,447h1v1h-1zM559,447h1v1h-1zM572,447h1v1h-1zM600,447h1v1h-1zM612,447h1v1h-1zM629,447h1v1h-1zM645,447h1v1h-1zM662,447h1v1h-1zM664,447h1v1h-1zM697,447h1v1h-1zM720,447h1v1h-1zM734,447h1v1h-1zM744,447h1v1h-1zM771,447h1v1h-1zM777,447h1v1h-1zM170,448h1v1h-1zM184,448h1v1h-1zM188,448h1v1h-1zM192,448h1v1h-1zM208,448h1v1h-1zM222,448h1v1h-1zM259,448h1v1h-1zM261,448h1v1h-1zM284,448h1v1h-1zM351,448h1v1h-1zM356,448h1v1h-1zM370,448h1v1h-1zM416,448h1v1h-1zM419,448h1v1h-1zM426,448h1v1h-1zM454,448h1v1h-1zM465,448h1v1h-1zM479,448h1v1h-1zM505,448h1v1h-1zM510,448h1v1h-1zM532,448h1v1h-1zM547,448h1v1h-1zM560,448h1v1h-1zM572,448h1v1h-1zM600,448h1v1h-1zM612,448h1v1h-1zM629,448h1v1h-1zM645,448h1v1h-1zM662,448h2v1h-2zM698,448h1v1h-1zM719,448h1v1h-1zM734,448h1v1h-1zM744,448h1v1h-1zM771,448h1v1h-1zM777,448h1v1h-1zM170,449h1v1h-1zM184,449h1v1h-1zM189,449h1v1h-1zM192,449h1v1h-1zM208,449h1v1h-1zM222,449h1v1h-1zM259,449h1v1h-1zM261,449h1v1h-1zM284,449h1v1h-1zM351,449h1v1h-1zM357,449h1v1h-1zM370,449h1v1h-1zM416,449h1v1h-1zM419,449h1v1h-1zM426,449h1v1h-1zM454,449h1v1h-1zM466,449h1v1h-1zM478,449h1v1h-1zM505,449h1v1h-1zM509,449h1v1h-1zM533,449h1v1h-1zM547,449h1v1h-1zM560,449h1v1h-1zM572,449h1v1h-1zM600,449h1v1h-1zM612,449h1v1h-1zM630,449h1v1h-1zM645,449h1v1h-1zM662,449h2v1h-2zM698,449h1v1h-1zM719,449h1v1h-1zM734,449h1v1h-1zM744,449h1v1h-1zM771,449h1v1h-1zM777,449h1v1h-1zM170,450h1v1h-1zM184,450h1v1h-1zM189,450h1v1h-1zM192,450h1v1h-1zM208,450h1v1h-1zM221,450h1v1h-1zM259,450h1v1h-1zM261,450h1v1h-1zM284,450h1v1h-1zM351,450h1v1h-1zM357,450h1v1h-1zM370,450h1v1h-1zM416,450h1v1h-1zM419,450h1v1h-1zM426,450h1v1h-1zM454,450h1v1h-1zM466,450h1v1h-1zM478,450h1v1h-1zM505,450h1v1h-1zM509,450h1v1h-1zM533,450h1v1h-1zM547,450h1v1h-1zM560,450h1v1h-1zM572,450h1v1h-1zM600,450h1v1h-1zM612,450h1v1h-1zM630,450h1v1h-1zM645,450h1v1h-1zM663,450h1v1h-1zM698,450h1v1h-1zM719,450h1v1h-1zM734,450h1v1h-1zM744,450h1v1h-1zM771,450h1v1h-1zM777,450h1v1h-1zM170,451h1v1h-1zM184,451h1v1h-1zM189,451h1v1h-1zM192,451h1v1h-1zM208,451h1v1h-1zM221,451h1v1h-1zM259,451h1v1h-1zM261,451h1v1h-1zM284,451h1v1h-1zM350,451h1v1h-1zM357,451h1v1h-1zM370,451h1v1h-1zM416,451h1v1h-1zM419,451h1v1h-1zM426,451h1v1h-1zM453,451h1v1h-1zM466,451h1v1h-1zM478,451h1v1h-1zM505,451h1v1h-1zM508,451h1v1h-1zM533,451h1v1h-1zM547,451h1v1h-1zM560,451h1v1h-1zM571,451h1v1h-1zM600,451h1v1h-1zM612,451h1v1h-1zM631,451h1v1h-1zM645,451h1v1h-1zM663,451h1v1h-1zM698,451h1v1h-1zM719,451h1v1h-1zM734,451h1v1h-1zM744,451h1v1h-1zM772,451h1v1h-1zM777,451h1v1h-1zM171,452h1v1h-1zM184,452h1v1h-1zM189,452h1v1h-1zM192,452h1v1h-1zM208,452h1v1h-1zM221,452h1v1h-1zM260,452h2v1h-2zM285,452h1v1h-1zM350,452h1v1h-1zM357,452h1v1h-1zM369,452h1v1h-1zM416,452h1v1h-1zM419,452h1v1h-1zM427,452h1v1h-1zM453,452h1v1h-1zM466,452h1v1h-1zM478,452h1v1h-1zM505,452h1v1h-1zM508,452h1v1h-1zM533,452h1v1h-1zM547,452h1v1h-1zM560,452h1v1h-1zM571,452h1v1h-1zM600,452h1v1h-1zM612,452h1v1h-1zM631,452h1v1h-1zM645,452h1v1h-1zM663,452h1v1h-1zM698,452h1v1h-1zM719,452h1v1h-1zM734,452h1v1h-1zM744,452h1v1h-1zM772,452h1v1h-1zM777,452h1v1h-1zM171,453h1v1h-1zM184,453h1v1h-1zM190,453h1v1h-1zM192,453h1v1h-1zM209,453h1v1h-1zM221,453h1v1h-1zM260,453h2v1h-2zM285,453h1v1h-1zM350,453h1v1h-1zM357,453h1v1h-1zM369,453h1v1h-1zM416,453h1v1h-1zM419,453h1v1h-1zM427,453h1v1h-1zM453,453h1v1h-1zM466,453h1v1h-1zM478,453h1v1h-1zM506,453h1v1h-1zM508,453h1v1h-1zM534,453h1v1h-1zM547,453h1v1h-1zM560,453h1v1h-1zM571,453h1v1h-1zM601,453h1v1h-1zM612,453h1v1h-1zM632,453h1v1h-1zM645,453h1v1h-1zM663,453h1v1h-1zM698,453h1v1h-1zM719,453h1v1h-1zM735,453h1v1h-1zM743,453h1v1h-1zM773,453h1v1h-1zM777,453h1v1h-1zM171,454h1v1h-1zM184,454h1v1h-1zM190,454h2v1h-2zM209,454h1v1h-1zM221,454h1v1h-1zM260,454h1v1h-1zM285,454h1v1h-1zM350,454h1v1h-1zM357,454h1v1h-1zM369,454h1v1h-1zM416,454h1v1h-1zM419,454h1v1h-1zM427,454h1v1h-1zM453,454h1v1h-1zM466,454h1v1h-1zM478,454h1v1h-1zM506,454h2v1h-2zM534,454h1v1h-1zM547,454h1v1h-1zM561,454h1v1h-1zM571,454h1v1h-1zM601,454h1v1h-1zM612,454h1v1h-1zM632,454h1v1h-1zM645,454h1v1h-1zM663,454h1v1h-1zM698,454h1v1h-1zM719,454h1v1h-1zM735,454h1v1h-1zM743,454h1v1h-1zM773,454h1v1h-1zM777,454h1v1h-1zM171,455h1v1h-1zM183,455h1v1h-1zM190,455h2v1h-2zM209,455h1v1h-1zM221,455h1v1h-1zM260,455h1v1h-1zM285,455h1v1h-1zM350,455h1v1h-1zM357,455h1v1h-1zM369,455h1v1h-1zM416,455h1v1h-1zM418,455h1v1h-1zM427,455h1v1h-1zM453,455h1v1h-1zM466,455h1v1h-1zM478,455h1v1h-1zM506,455h2v1h-2zM534,455h1v1h-1zM547,455h1v1h-1zM561,455h1v1h-1zM571,455h1v1h-1zM601,455h1v1h-1zM612,455h1v1h-1zM633,455h1v1h-1zM645,455h1v1h-1zM699,455h1v1h-1zM719,455h1v1h-1zM735,455h1v1h-1zM743,455h1v1h-1zM773,455h1v1h-1zM777,455h1v1h-1zM171,456h1v1h-1zM183,456h1v1h-1zM190,456h2v1h-2zM209,456h1v1h-1zM221,456h1v1h-1zM260,456h1v1h-1zM286,456h1v1h-1zM350,456h1v1h-1zM358,456h1v1h-1zM369,456h1v1h-1zM416,456h1v1h-1zM418,456h1v1h-1zM428,456h1v1h-1zM453,456h1v1h-1zM467,456h1v1h-1zM478,456h1v1h-1zM506,456h2v1h-2zM534,456h1v1h-1zM547,456h1v1h-1zM561,456h1v1h-1zM571,456h1v1h-1zM601,456h1v1h-1zM611,456h1v1h-1zM633,456h1v1h-1zM645,456h1v1h-1zM700,456h2v1h-2zM719,456h1v1h-1zM735,456h1v1h-1zM743,456h1v1h-1zM774,456h1v1h-1zM776,456h1v1h-1zM172,457h1v1h-1zM183,457h1v1h-1zM191,457h1v1h-1zM210,457h1v1h-1zM221,457h1v1h-1zM260,457h1v1h-1zM286,457h1v1h-1zM350,457h1v1h-1zM358,457h1v1h-1zM369,457h1v1h-1zM417,457h2v1h-2zM428,457h1v1h-1zM453,457h1v1h-1zM467,457h1v1h-1zM478,457h1v1h-1zM506,457h1v1h-1zM535,457h1v1h-1zM547,457h1v1h-1zM561,457h1v1h-1zM571,457h1v1h-1zM601,457h1v1h-1zM611,457h1v1h-1zM634,457h1v1h-1zM645,457h1v1h-1zM702,457h1v1h-1zM719,457h1v1h-1zM735,457h1v1h-1zM743,457h1v1h-1zM774,457h1v1h-1zM776,457h1v1h-1zM172,458h1v1h-1zM183,458h1v1h-1zM191,458h1v1h-1zM210,458h1v1h-1zM221,458h1v1h-1zM260,458h1v1h-1zM286,458h1v1h-1zM350,458h1v1h-1zM358,458h1v1h-1zM369,458h1v1h-1zM417,458h2v1h-2zM429,458h1v1h-1zM453,458h1v1h-1zM467,458h1v1h-1zM478,458h1v1h-1zM506,458h1v1h-1zM535,458h1v1h-1zM547,458h1v1h-1zM561,458h1v1h-1zM571,458h1v1h-1zM601,458h1v1h-1zM611,458h1v1h-1zM634,458h1v1h-1zM645,458h1v1h-1zM703,458h1v1h-1zM719,458h1v1h-1zM735,458h1v1h-1zM743,458h1v1h-1zM774,458h1v1h-1zM776,458h1v1h-1zM173,459h1v1h-1zM183,459h1v1h-1zM210,459h1v1h-1zM221,459h1v1h-1zM260,459h1v1h-1zM286,459h1v1h-1zM314,459h1v1h-1zM350,459h1v1h-1zM358,459h1v1h-1zM369,459h1v1h-1zM417,459h2v1h-2zM429,459h1v1h-1zM453,459h1v1h-1zM467,459h1v1h-1zM478,459h1v1h-1zM535,459h1v1h-1zM547,459h1v1h-1zM562,459h1v1h-1zM571,459h1v1h-1zM602,459h1v1h-1zM611,459h1v1h-1zM635,459h1v1h-1zM645,459h1v1h-1zM703,459h1v1h-1zM719,459h1v1h-1zM736,459h1v1h-1zM743,459h1v1h-1zM775,459h2v1h-2zM173,460h1v1h-1zM183,460h1v1h-1zM210,460h1v1h-1zM221,460h1v1h-1zM286,460h1v1h-1zM314,460h1v1h-1zM350,460h1v1h-1zM359,460h1v1h-1zM369,460h1v1h-1zM417,460h2v1h-2zM429,460h1v1h-1zM453,460h1v1h-1zM468,460h1v1h-1zM477,460h1v1h-1zM535,460h1v1h-1zM546,460h1v1h-1zM562,460h1v1h-1zM571,460h1v1h-1zM602,460h1v1h-1zM611,460h1v1h-1zM635,460h1v1h-1zM645,460h1v1h-1zM704,460h1v1h-1zM718,460h1v1h-1zM736,460h1v1h-1zM743,460h1v1h-1zM775,460h2v1h-2zM174,461h1v1h-1zM183,461h1v1h-1zM210,461h1v1h-1zM221,461h1v1h-1zM287,461h1v1h-1zM313,461h1v1h-1zM315,461h1v1h-1zM350,461h1v1h-1zM360,461h1v1h-1zM369,461h1v1h-1zM417,461h1v1h-1zM430,461h1v1h-1zM453,461h1v1h-1zM468,461h1v1h-1zM477,461h1v1h-1zM536,461h1v1h-1zM546,461h1v1h-1zM562,461h1v1h-1zM570,461h1v1h-1zM602,461h1v1h-1zM611,461h1v1h-1zM635,461h1v1h-1zM645,461h1v1h-1zM704,461h1v1h-1zM718,461h1v1h-1zM736,461h1v1h-1zM743,461h1v1h-1zM776,461h1v1h-1zM175,462h1v1h-1zM182,462h1v1h-1zM211,462h1v1h-1zM221,462h1v1h-1zM287,462h1v1h-1zM313,462h1v1h-1zM315,462h1v1h-1zM350,462h1v1h-1zM360,462h1v1h-1zM369,462h1v1h-1zM417,462h1v1h-1zM430,462h1v1h-1zM453,462h1v1h-1zM468,462h1v1h-1zM477,462h1v1h-1zM536,462h1v1h-1zM546,462h1v1h-1zM562,462h1v1h-1zM570,462h1v1h-1zM602,462h1v1h-1zM611,462h1v1h-1zM636,462h1v1h-1zM645,462h1v1h-1zM705,462h1v1h-1zM718,462h1v1h-1zM736,462h1v1h-1zM743,462h1v1h-1zM776,462h1v1h-1zM175,463h1v1h-1zM182,463h1v1h-1zM211,463h1v1h-1zM221,463h1v1h-1zM287,463h1v1h-1zM313,463h1v1h-1zM315,463h1v1h-1zM349,463h1v1h-1zM361,463h1v1h-1zM369,463h1v1h-1zM417,463h1v1h-1zM431,463h1v1h-1zM453,463h1v1h-1zM468,463h1v1h-1zM477,463h1v1h-1zM537,463h1v1h-1zM546,463h1v1h-1zM562,463h1v1h-1zM570,463h1v1h-1zM602,463h1v1h-1zM611,463h1v1h-1zM636,463h1v1h-1zM645,463h1v1h-1zM705,463h1v1h-1zM718,463h1v1h-1zM736,463h1v1h-1zM743,463h1v1h-1zM176,464h1v1h-1zM182,464h1v1h-1zM211,464h1v1h-1zM220,464h1v1h-1zM287,464h1v1h-1zM313,464h1v1h-1zM315,464h1v1h-1zM349,464h1v1h-1zM362,464h1v1h-1zM368,464h1v1h-1zM417,464h1v1h-1zM431,464h1v1h-1zM453,464h1v1h-1zM469,464h1v1h-1zM477,464h1v1h-1zM537,464h1v1h-1zM546,464h1v1h-1zM563,464h1v1h-1zM570,464h1v1h-1zM602,464h1v1h-1zM611,464h1v1h-1zM636,464h1v1h-1zM645,464h1v1h-1zM706,464h1v1h-1zM718,464h1v1h-1zM736,464h1v1h-1zM743,464h1v1h-1zM177,465h1v1h-1zM182,465h1v1h-1zM212,465h1v1h-1zM220,465h1v1h-1zM288,465h1v1h-1zM312,465h1v1h-1zM316,465h1v1h-1zM349,465h1v1h-1zM363,465h1v1h-1zM368,465h1v1h-1zM432,465h1v1h-1zM452,465h1v1h-1zM469,465h1v1h-1zM477,465h1v1h-1zM538,465h1v1h-1zM546,465h1v1h-1zM563,465h1v1h-1zM570,465h1v1h-1zM603,465h1v1h-1zM610,465h1v1h-1zM636,465h1v1h-1zM644,465h1v1h-1zM706,465h1v1h-1zM718,465h1v1h-1zM737,465h1v1h-1zM742,465h1v1h-1zM177,466h1v1h-1zM182,466h1v1h-1zM213,466h2v1h-2zM220,466h1v1h-1zM288,466h1v1h-1zM312,466h1v1h-1zM316,466h1v1h-1zM349,466h1v1h-1zM364,466h1v1h-1zM368,466h1v1h-1zM432,466h1v1h-1zM452,466h1v1h-1zM469,466h1v1h-1zM477,466h1v1h-1zM538,466h1v1h-1zM546,466h1v1h-1zM563,466h1v1h-1zM570,466h1v1h-1zM603,466h1v1h-1zM610,466h1v1h-1zM637,466h1v1h-1zM644,466h1v1h-1zM707,466h1v1h-1zM718,466h1v1h-1zM737,466h1v1h-1zM742,466h1v1h-1zM178,467h1v1h-1zM182,467h1v1h-1zM215,467h1v1h-1zM220,467h1v1h-1zM288,467h1v1h-1zM312,467h1v1h-1zM316,467h1v1h-1zM349,467h1v1h-1zM365,467h1v1h-1zM368,467h1v1h-1zM433,467h2v1h-2zM452,467h1v1h-1zM469,467h1v1h-1zM477,467h1v1h-1zM539,467h1v1h-1zM546,467h1v1h-1zM563,467h1v1h-1zM569,467h1v1h-1zM603,467h1v1h-1zM610,467h1v1h-1zM637,467h1v1h-1zM644,467h1v1h-1zM707,467h1v1h-1zM718,467h1v1h-1zM737,467h1v1h-1zM742,467h1v1h-1zM179,468h1v1h-1zM181,468h1v1h-1zM216,468h1v1h-1zM220,468h1v1h-1zM288,468h1v1h-1zM312,468h1v1h-1zM317,468h1v1h-1zM349,468h1v1h-1zM366,468h1v1h-1zM368,468h1v1h-1zM435,468h2v1h-2zM452,468h1v1h-1zM470,468h1v1h-1zM477,468h1v1h-1zM539,468h1v1h-1zM546,468h1v1h-1zM563,468h1v1h-1zM569,468h1v1h-1zM603,468h1v1h-1zM610,468h1v1h-1zM637,468h1v1h-1zM644,468h1v1h-1zM708,468h1v1h-1zM718,468h1v1h-1zM737,468h1v1h-1zM742,468h1v1h-1zM180,469h2v1h-2zM217,469h2v1h-2zM220,469h1v1h-1zM289,469h1v1h-1zM311,469h1v1h-1zM317,469h1v1h-1zM349,469h1v1h-1zM367,469h2v1h-2zM437,469h1v1h-1zM452,469h1v1h-1zM470,469h1v1h-1zM477,469h1v1h-1zM540,469h1v1h-1zM546,469h1v1h-1zM564,469h1v1h-1zM568,469h1v1h-1zM603,469h1v1h-1zM610,469h1v1h-1zM638,469h1v1h-1zM644,469h1v1h-1zM708,469h1v1h-1zM718,469h1v1h-1zM738,469h2v1h-2zM742,469h1v1h-1zM180,470h2v1h-2zM219,470h2v1h-2zM289,470h1v1h-1zM311,470h1v1h-1zM317,470h1v1h-1zM349,470h1v1h-1zM368,470h1v1h-1zM438,470h1v1h-1zM452,470h1v1h-1zM470,470h1v1h-1zM477,470h1v1h-1zM541,470h1v1h-1zM546,470h1v1h-1zM564,470h1v1h-1zM568,470h1v1h-1zM603,470h1v1h-1zM610,470h1v1h-1zM638,470h1v1h-1zM644,470h1v1h-1zM709,470h1v1h-1zM718,470h1v1h-1zM740,470h3v1h-3zM181,471h1v1h-1zM220,471h1v1h-1zM289,471h1v1h-1zM311,471h1v1h-1zM318,471h1v1h-1zM349,471h1v1h-1zM439,471h1v1h-1zM452,471h1v1h-1zM470,471h1v1h-1zM477,471h1v1h-1zM541,471h1v1h-1zM545,471h1v1h-1zM564,471h1v1h-1zM567,471h1v1h-1zM604,471h1v1h-1zM610,471h1v1h-1zM638,471h1v1h-1zM644,471h1v1h-1zM710,471h1v1h-1zM718,471h1v1h-1zM742,471h1v1h-1zM290,472h2v1h-2zM311,472h1v1h-1zM318,472h1v1h-1zM349,472h1v1h-1zM439,472h1v1h-1zM451,472h1v1h-1zM471,472h1v1h-1zM476,472h1v1h-1zM542,472h1v1h-1zM545,472h1v1h-1zM564,472h1v1h-1zM567,472h1v1h-1zM604,472h1v1h-1zM610,472h1v1h-1zM639,472h1v1h-1zM644,472h1v1h-1zM710,472h1v1h-1zM717,472h1v1h-1zM292,473h2v1h-2zM310,473h1v1h-1zM318,473h1v1h-1zM349,473h1v1h-1zM440,473h1v1h-1zM450,473h1v1h-1zM471,473h1v1h-1zM476,473h1v1h-1zM543,473h1v1h-1zM545,473h1v1h-1zM564,473h1v1h-1zM566,473h1v1h-1zM604,473h1v1h-1zM610,473h1v1h-1zM639,473h6v1h-6zM711,473h1v1h-1zM717,473h1v1h-1zM294,474h1v1h-1zM310,474h1v1h-1zM318,474h1v1h-1zM348,474h1v1h-1zM441,474h1v1h-1zM449,474h1v1h-1zM472,474h1v1h-1zM476,474h1v1h-1zM544,474h2v1h-2zM565,474h2v1h-2zM605,474h1v1h-1zM609,474h1v1h-1zM712,474h1v1h-1zM717,474h1v1h-1zM295,475h2v1h-2zM310,475h1v1h-1zM319,475h1v1h-1zM348,475h1v1h-1zM442,475h2v1h-2zM449,475h1v1h-1zM473,475h2v1h-2zM476,475h1v1h-1zM544,475h2v1h-2zM565,475h1v1h-1zM606,475h1v1h-1zM609,475h1v1h-1zM713,475h2v1h-2zM717,475h1v1h-1zM297,476h2v1h-2zM310,476h1v1h-1zM319,476h8v1h-8zM348,476h1v1h-1zM444,476h2v1h-2zM448,476h1v1h-1zM475,476h2v1h-2zM545,476h1v1h-1zM565,476h1v1h-1zM607,476h1v1h-1zM609,476h1v1h-1zM715,476h3v1h-3zM299,477h2v1h-2zM309,477h1v1h-1zM327,477h4v1h-4zM348,477h1v1h-1zM446,477h2v1h-2zM476,477h1v1h-1zM608,477h2v1h-2zM717,477h1v1h-1zM301,478h2v1h-2zM309,478h1v1h-1zM331,478h2v1h-2zM348,478h1v1h-1zM609,478h1v1h-1zM303,479h7v1h-7zM333,479h16v1h-16z" fill="#2db0e0" shape-rendering="crispEdges"/>
<path d="M164,503h5v1h-5zM159,504h5v1h-5zM169,504h3v1h-3zM156,505h3v1h-3zM172,505h2v1h-2zM155,506h1v1h-1zM174,506h2v1h-2zM153,507h2v1h-2zM176,507h1v1h-1zM150,508h3v1h-3zM177,508h2v1h-2zM146,509h4v1h-4zM179,509h2v1h-2zM144,510h2v1h-2zM181,510h1v1h-1zM142,511h2v1h-2zM182,511h2v1h-2zM141,512h1v1h-1zM184,512h2v1h-2zM139,513h2v1h-2zM186,513h1v1h-1zM138,514h1v1h-1zM187,514h2v1h-2zM137,515h1v1h-1zM189,515h2v1h-2zM136,516h1v1h-1zM191,516h3v1h-3zM134,517h2v1h-2zM194,517h5v1h-5zM133,518h1v1h-1zM199,518h5v1h-5zM130,519h3v1h-3zM204,519h3v1h-3zM125,520h5v1h-5zM207,520h2v1h-2zM121,521h4v1h-4zM209,521h2v1h-2zM119,522h2v1h-2zM211,522h1v1h-1zM254,522h4v1h-4zM263,522h5v1h-5zM273,522h9v1h-9zM116,523h3v1h-3zM212,523h2v1h-2zM252,523h2v1h-2zM258,523h5v1h-5zM268,523h5v1h-5zM282,523h3v1h-3zM114,524h2v1h-2zM214,524h2v1h-2zM248,524h4v1h-4zM285,524h2v1h-2zM110,525h4v1h-4zM216,525h2v1h-2zM243,525h5v1h-5zM287,525h2v1h-2zM96,526h14v1h-14zM218,526h2v1h-2zM234,526h9v1h-9zM289,526h1v1h-1zM795,526h6v1h-6zM93,527h3v1h-3zM220,527h3v1h-3zM232,527h2v1h-2zM290,527h1v1h-1zM793,527h2v1h-2zM223,528h9v1h-9zM291,528h2v1h-2zM784,528h9v1h-9zM293,529h1v1h-1zM780,529h4v1h-4zM294,530h1v1h-1zM778,530h2v1h-2zM295,531h2v1h-2zM770,531h8v1h-8zM297,532h2v1h-2zM767,532h3v1h-3zM299,533h1v1h-1zM765,533h2v1h-2zM300,534h1v1h-1zM701,534h5v1h-5zM763,534h2v1h-2zM301,535h2v1h-2zM696,535h5v1h-5zM706,535h4v1h-4zM762,535h1v1h-1zM303,536h1v1h-1zM693,536h3v1h-3zM710,536h2v1h-2zM761,536h1v1h-1zM304,537h1v1h-1zM692,537h1v1h-1zM712,537h3v1h-3zM759,537h2v1h-2zM305,538h2v1h-2zM690,538h2v1h-2zM715,538h5v1h-5zM725,538h9v1h-9zM758,538h1v1h-1zM307,539h2v1h-2zM689,539h1v1h-1zM720,539h5v1h-5zM734,539h2v1h-2zM756,539h2v1h-2zM309,540h1v1h-1zM688,540h1v1h-1zM736,540h3v1h-3zM754,540h2v1h-2zM310,541h2v1h-2zM687,541h1v1h-1zM739,541h2v1h-2zM750,541h4v1h-4zM312,542h2v1h-2zM686,542h1v1h-1zM741,542h9v1h-9zM314,543h1v1h-1zM685,543h1v1h-1zM315,544h2v1h-2zM684,544h1v1h-1zM317,545h2v1h-2zM682,545h2v1h-2zM319,546h1v1h-1zM680,546h2v1h-2zM320,547h2v1h-2zM678,547h2v1h-2zM322,548h2v1h-2zM676,548h2v1h-2zM324,549h2v1h-2zM674,549h2v1h-2zM326,550h2v1h-2zM673,550h1v1h-1zM328,551h3v1h-3zM412,551h1v1h-1zM672,551h1v1h-1zM331,552h2v1h-2zM410,552h2v1h-2zM413,552h2v1h-2zM671,552h1v1h-1zM333,553h3v1h-3zM408,553h2v1h-2zM415,553h2v1h-2zM670,553h1v1h-1zM336,554h2v1h-2zM406,554h2v1h-2zM417,554h3v1h-3zM670,554h1v1h-1zM338,555h3v1h-3zM404,555h2v1h-2zM420,555h4v1h-4zM669,555h1v1h-1zM341,556h2v1h-2zM402,556h2v1h-2zM424,556h2v1h-2zM558,556h3v1h-3zM668,556h1v1h-1zM343,557h2v1h-2zM400,557h2v1h-2zM426,557h2v1h-2zM553,557h5v1h-5zM561,557h1v1h-1zM667,557h1v1h-1zM345,558h2v1h-2zM397,558h3v1h-3zM428,558h1v1h-1zM533,558h10v1h-10zM548,558h5v1h-5zM562,558h2v1h-2zM666,558h1v1h-1zM347,559h4v1h-4zM395,559h2v1h-2zM429,559h2v1h-2zM529,559h4v1h-4zM543,559h5v1h-5zM564,559h1v1h-1zM597,559h5v1h-5zM665,559h1v1h-1zM351,560h4v1h-4zM393,560h2v1h-2zM431,560h1v1h-1zM527,560h2v1h-2zM565,560h1v1h-1zM592,560h5v1h-5zM602,560h3v1h-3zM664,560h1v1h-1zM355,561h2v1h-2zM391,561h2v1h-2zM432,561h1v1h-1zM525,561h2v1h-2zM566,561h2v1h-2zM588,561h4v1h-4zM605,561h1v1h-1zM656,561h8v1h-8zM357,562h3v1h-3zM389,562h2v1h-2zM433,562h1v1h-1zM524,562h1v1h-1zM568,562h2v1h-2zM573,562h15v1h-15zM606,562h2v1h-2zM618,562h18v1h-18zM651,562h5v1h-5zM360,563h2v1h-2zM386,563h3v1h-3zM434,563h2v1h-2zM522,563h2v1h-2zM570,563h3v1h-3zM608,563h1v1h-1zM616,563h2v1h-2zM636,563h2v1h-2zM648,563h3v1h-3zM362,564h4v1h-4zM381,564h5v1h-5zM436,564h1v1h-1zM521,564h1v1h-1zM609,564h7v1h-7zM638,564h4v1h-4zM646,564h2v1h-2zM366,565h15v1h-15zM437,565h1v1h-1zM520,565h1v1h-1zM642,565h4v1h-4zM438,566h1v1h-1zM518,566h2v1h-2zM439,567h2v1h-2zM517,567h1v1h-1zM441,568h1v1h-1zM514,568h3v1h-3zM442,569h1v1h-1zM509,569h5v1h-5zM443,570h1v1h-1zM501,570h8v1h-8zM444,571h1v1h-1zM499,571h2v1h-2zM445,572h1v1h-1zM497,572h2v1h-2zM446,573h1v1h-1zM496,573h1v1h-1zM447,574h2v1h-2zM495,574h1v1h-1zM449,575h2v1h-2zM460,575h5v1h-5zM493,575h2v1h-2zM451,576h9v1h-9zM465,576h3v1h-3zM492,576h1v1h-1zM468,577h2v1h-2zM491,577h1v1h-1zM470,578h3v1h-3zM489,578h2v1h-2zM473,579h2v1h-2zM487,579h2v1h-2zM475,580h12v1h-12z" fill="#2a8cff" shape-rendering="crispEdges"/>
<path d="M174,508h5v1h-5zM169,509h5v1h-5zM179,509h5v1h-5zM160,510h9v1h-9zM184,510h5v1h-5zM158,511h2v1h-2zM189,511h5v1h-5zM156,512h2v1h-2zM194,512h5v1h-5zM155,513h1v1h-1zM199,513h5v1h-5zM153,514h2v1h-2zM204,514h4v1h-4zM151,515h2v1h-2zM208,515h2v1h-2zM149,516h2v1h-2zM210,516h3v1h-3zM146,517h3v1h-3zM213,517h2v1h-2zM144,518h2v1h-2zM215,518h3v1h-3zM142,519h2v1h-2zM218,519h2v1h-2zM140,520h2v1h-2zM220,520h3v1h-3zM138,521h2v1h-2zM223,521h4v1h-4zM135,522h3v1h-3zM227,522h2v1h-2zM130,523h5v1h-5zM229,523h9v1h-9zM253,523h38v1h-38zM125,524h5v1h-5zM238,524h15v1h-15zM291,524h2v1h-2zM120,525h5v1h-5zM293,525h4v1h-4zM115,526h5v1h-5zM297,526h3v1h-3zM110,527h5v1h-5zM300,527h2v1h-2zM100,528h10v1h-10zM302,528h2v1h-2zM93,529h7v1h-7zM304,529h2v1h-2zM306,530h2v1h-2zM799,530h2v1h-2zM308,531h3v1h-3zM794,531h5v1h-5zM311,532h2v1h-2zM789,532h5v1h-5zM313,533h2v1h-2zM784,533h5v1h-5zM315,534h2v1h-2zM779,534h5v1h-5zM317,535h2v1h-2zM774,535h5v1h-5zM319,536h2v1h-2zM770,536h4v1h-4zM321,537h2v1h-2zM765,537h5v1h-5zM323,538h2v1h-2zM761,538h4v1h-4zM325,539h2v1h-2zM725,539h15v1h-15zM759,539h2v1h-2zM327,540h2v1h-2zM715,540h10v1h-10zM740,540h19v1h-19zM329,541h1v1h-1zM711,541h4v1h-4zM330,542h2v1h-2zM706,542h5v1h-5zM332,543h2v1h-2zM703,543h3v1h-3zM334,544h2v1h-2zM701,544h2v1h-2zM336,545h2v1h-2zM699,545h2v1h-2zM338,546h2v1h-2zM697,546h2v1h-2zM340,547h2v1h-2zM695,547h2v1h-2zM342,548h1v1h-1zM693,548h2v1h-2zM343,549h2v1h-2zM691,549h2v1h-2zM345,550h2v1h-2zM689,550h2v1h-2zM347,551h3v1h-3zM688,551h1v1h-1zM350,552h2v1h-2zM686,552h2v1h-2zM352,553h3v1h-3zM684,553h2v1h-2zM355,554h2v1h-2zM682,554h2v1h-2zM357,555h4v1h-4zM680,555h2v1h-2zM361,556h4v1h-4zM420,556h10v1h-10zM678,556h2v1h-2zM365,557h2v1h-2zM411,557h9v1h-9zM430,557h4v1h-4zM676,557h2v1h-2zM367,558h4v1h-4zM409,558h2v1h-2zM434,558h2v1h-2zM674,558h2v1h-2zM371,559h5v1h-5zM405,559h4v1h-4zM436,559h3v1h-3zM672,559h2v1h-2zM376,560h5v1h-5zM396,560h9v1h-9zM439,560h2v1h-2zM558,560h15v1h-15zM597,560h10v1h-10zM670,560h2v1h-2zM381,561h5v1h-5zM391,561h5v1h-5zM441,561h3v1h-3zM553,561h5v1h-5zM573,561h24v1h-24zM607,561h5v1h-5zM666,561h4v1h-4zM386,562h5v1h-5zM444,562h2v1h-2zM548,562h5v1h-5zM612,562h30v1h-30zM661,562h5v1h-5zM446,563h2v1h-2zM543,563h5v1h-5zM642,563h19v1h-19zM448,564h2v1h-2zM538,564h5v1h-5zM450,565h2v1h-2zM533,565h5v1h-5zM452,566h2v1h-2zM529,566h4v1h-4zM454,567h2v1h-2zM527,567h2v1h-2zM456,568h4v1h-4zM525,568h2v1h-2zM460,569h5v1h-5zM523,569h2v1h-2zM465,570h3v1h-3zM520,570h3v1h-3zM468,571h2v1h-2zM518,571h2v1h-2zM470,572h3v1h-3zM514,572h4v1h-4zM473,573h2v1h-2zM509,573h5v1h-5zM475,574h4v1h-4zM500,574h9v1h-9zM479,575h5v1h-5zM498,575h2v1h-2zM484,576h14v1h-14z" fill="#41c089" shape-rendering="crispEdges"/>
<g id="macdbars" shape-rendering="crispEdges">
<rect x="93" y="532" width="1" height="5" fill="#e9465e"/>
<rect x="97" y="532" width="1" height="5" fill="#e9465e"/>
<rect x="102" y="532" width="1" height="5" fill="#e9465e"/>
<rect x="107" y="533" width="1" height="4" fill="#e9465e"/>
<rect x="112" y="533" width="1" height="4" fill="#e9465e"/>
<rect x="117" y="530" width="1" height="7" fill="#e9465e"/>
<rect x="122" y="527" width="1" height="10" fill="#e9465e"/>
<rect x="127" y="529" width="1" height="8" fill="#e9465e"/>
<rect x="132" y="527" width="1" height="10" fill="#e9465e"/>
<rect x="137" y="524" width="1" height="13" fill="#e9465e"/>
<rect x="142" y="521" width="1" height="16" fill="#e9465e"/>
<rect x="147" y="519" width="1" height="18" fill="#e9465e"/>
<rect x="152" y="521" width="1" height="16" fill="#e9465e"/>
<rect x="156" y="519" width="1" height="18" fill="#e9465e"/>
<rect x="161" y="521" width="1" height="16" fill="#e9465e"/>
<rect x="166" y="522" width="1" height="15" fill="#e9465e"/>
<rect x="171" y="528" width="1" height="9" fill="#e9465e"/>
<rect x="176" y="534" width="1" height="3" fill="#e9465e"/>
<rect x="181" y="536" width="1" height="5" fill="#44b07b"/>
<rect x="186" y="536" width="1" height="8" fill="#44b07b"/>
<rect x="191" y="536" width="1" height="12" fill="#44b07b"/>
<rect x="196" y="536" width="1" height="12" fill="#44b07b"/>
<rect x="201" y="536" width="1" height="10" fill="#44b07b"/>
<rect x="206" y="536" width="1" height="11" fill="#44b07b"/>
<rect x="211" y="536" width="1" height="13" fill="#44b07b"/>
<rect x="216" y="536" width="1" height="16" fill="#44b07b"/>
<rect x="220" y="536" width="1" height="17" fill="#44b07b"/>
<rect x="225" y="536" width="1" height="14" fill="#44b07b"/>
<rect x="230" y="536" width="1" height="12" fill="#44b07b"/>
<rect x="235" y="536" width="1" height="7" fill="#44b07b"/>
<rect x="240" y="536" width="1" height="5" fill="#44b07b"/>
<rect x="245" y="536" width="1" height="4" fill="#44b07b"/>
<rect x="250" y="536" width="1" height="1" fill="#e9465e"/>
<rect x="255" y="534" width="1" height="3" fill="#e9465e"/>
<rect x="260" y="536" width="1" height="1" fill="#e9465e"/>
<rect x="265" y="534" width="1" height="3" fill="#e9465e"/>
<rect x="270" y="535" width="1" height="2" fill="#e9465e"/>
<rect x="275" y="534" width="1" height="3" fill="#e9465e"/>
<rect x="279" y="535" width="1" height="2" fill="#e9465e"/>
<rect x="284" y="536" width="1" height="2" fill="#44b07b"/>
<rect x="289" y="536" width="1" height="7" fill="#44b07b"/>
<rect x="294" y="536" width="1" height="11" fill="#44b07b"/>
<rect x="299" y="536" width="1" height="14" fill="#44b07b"/>
<rect x="304" y="536" width="1" height="19" fill="#44b07b"/>
<rect x="309" y="536" width="1" height="21" fill="#44b07b"/>
<rect x="314" y="536" width="1" height="21" fill="#44b07b"/>
<rect x="319" y="536" width="1" height="22" fill="#44b07b"/>
<rect x="324" y="536" width="1" height="22" fill="#44b07b"/>
<rect x="329" y="536" width="1" height="21" fill="#44b07b"/>
<rect x="334" y="536" width="1" height="20" fill="#44b07b"/>
<rect x="339" y="536" width="1" height="20" fill="#44b07b"/>
<rect x="343" y="536" width="1" height="20" fill="#44b07b"/>
<rect x="348" y="536" width="1" height="20" fill="#44b07b"/>
<rect x="353" y="536" width="1" height="17" fill="#44b07b"/>
<rect x="358" y="536" width="1" height="17" fill="#44b07b"/>
<rect x="363" y="536" width="1" height="17" fill="#44b07b"/>
<rect x="368" y="536" width="1" height="17" fill="#44b07b"/>
<rect x="373" y="536" width="1" height="13" fill="#44b07b"/>
<rect x="378" y="536" width="1" height="11" fill="#44b07b"/>
<rect x="383" y="536" width="1" height="8" fill="#44b07b"/>
<rect x="388" y="536" width="1" height="5" fill="#44b07b"/>
<rect x="393" y="536" width="1" height="1" fill="#e9465e"/>
<rect x="398" y="531" width="1" height="6" fill="#e9465e"/>
<rect x="402" y="530" width="1" height="7" fill="#e9465e"/>
<rect x="407" y="528" width="1" height="9" fill="#e9465e"/>
<rect x="412" y="523" width="1" height="14" fill="#e9465e"/>
<rect x="417" y="531" width="1" height="6" fill="#e9465e"/>
<rect x="422" y="532" width="1" height="5" fill="#e9465e"/>
<rect x="427" y="536" width="1" height="2" fill="#44b07b"/>
<rect x="432" y="536" width="1" height="9" fill="#44b07b"/>
<rect x="437" y="536" width="1" height="13" fill="#44b07b"/>
<rect x="442" y="536" width="1" height="18" fill="#44b07b"/>
<rect x="447" y="536" width="1" height="22" fill="#44b07b"/>
<rect x="452" y="536" width="1" height="22" fill="#44b07b"/>
<rect x="457" y="536" width="1" height="17" fill="#44b07b"/>
<rect x="462" y="536" width="1" height="13" fill="#44b07b"/>
<rect x="466" y="536" width="1" height="12" fill="#44b07b"/>
<rect x="471" y="536" width="1" height="14" fill="#44b07b"/>
<rect x="476" y="536" width="1" height="16" fill="#44b07b"/>
<rect x="481" y="536" width="1" height="13" fill="#44b07b"/>
<rect x="486" y="536" width="1" height="9" fill="#44b07b"/>
<rect x="491" y="536" width="1" height="2" fill="#44b07b"/>
<rect x="496" y="532" width="1" height="5" fill="#e9465e"/>
<rect x="501" y="528" width="1" height="9" fill="#e9465e"/>
<rect x="506" y="529" width="1" height="8" fill="#e9465e"/>
<rect x="511" y="528" width="1" height="9" fill="#e9465e"/>
<rect x="516" y="528" width="1" height="9" fill="#e9465e"/>
<rect x="521" y="524" width="1" height="13" fill="#e9465e"/>
<rect x="525" y="522" width="1" height="15" fill="#e9465e"/>
<rect x="530" y="522" width="1" height="15" fill="#e9465e"/>
<rect x="535" y="523" width="1" height="14" fill="#e9465e"/>
<rect x="540" y="526" width="1" height="11" fill="#e9465e"/>
<rect x="545" y="529" width="1" height="8" fill="#e9465e"/>
<rect x="550" y="529" width="1" height="8" fill="#e9465e"/>
<rect x="555" y="529" width="1" height="8" fill="#e9465e"/>
<rect x="560" y="529" width="1" height="8" fill="#e9465e"/>
<rect x="565" y="536" width="1" height="2" fill="#44b07b"/>
<rect x="570" y="536" width="1" height="6" fill="#44b07b"/>
<rect x="575" y="536" width="1" height="4" fill="#44b07b"/>
<rect x="580" y="536" width="1" height="4" fill="#44b07b"/>
<rect x="585" y="536" width="1" height="4" fill="#44b07b"/>
<rect x="589" y="536" width="1" height="1" fill="#e9465e"/>
<rect x="594" y="534" width="1" height="3" fill="#e9465e"/>
<rect x="599" y="534" width="1" height="3" fill="#e9465e"/>
<rect x="604" y="536" width="1" height="1" fill="#e9465e"/>
<rect x="609" y="536" width="1" height="6" fill="#44b07b"/>
<rect x="614" y="536" width="1" height="7" fill="#44b07b"/>
<rect x="619" y="536" width="1" height="2" fill="#44b07b"/>
<rect x="624" y="536" width="1" height="1" fill="#e9465e"/>
<rect x="629" y="536" width="1" height="1" fill="#e9465e"/>
<rect x="634" y="536" width="1" height="2" fill="#44b07b"/>
<rect x="639" y="536" width="1" height="5" fill="#44b07b"/>
<rect x="644" y="536" width="1" height="6" fill="#44b07b"/>
<rect x="648" y="536" width="1" height="2" fill="#44b07b"/>
<rect x="653" y="536" width="1" height="1" fill="#e9465e"/>
<rect x="658" y="534" width="1" height="3" fill="#e9465e"/>
<rect x="663" y="534" width="1" height="3" fill="#e9465e"/>
<rect x="668" y="526" width="1" height="11" fill="#e9465e"/>
<rect x="673" y="521" width="1" height="16" fill="#e9465e"/>
<rect x="678" y="518" width="1" height="19" fill="#e9465e"/>
<rect x="683" y="517" width="1" height="20" fill="#e9465e"/>
<rect x="688" y="513" width="1" height="24" fill="#e9465e"/>
<rect x="693" y="512" width="1" height="25" fill="#e9465e"/>
<rect x="698" y="515" width="1" height="22" fill="#e9465e"/>
<rect x="703" y="519" width="1" height="18" fill="#e9465e"/>
<rect x="708" y="523" width="1" height="14" fill="#e9465e"/>
<rect x="712" y="528" width="1" height="9" fill="#e9465e"/>
<rect x="717" y="533" width="1" height="4" fill="#e9465e"/>
<rect x="722" y="534" width="1" height="3" fill="#e9465e"/>
<rect x="727" y="533" width="1" height="4" fill="#e9465e"/>
<rect x="732" y="534" width="1" height="3" fill="#e9465e"/>
<rect x="737" y="536" width="1" height="4" fill="#44b07b"/>
<rect x="742" y="536" width="1" height="6" fill="#44b07b"/>
<rect x="747" y="536" width="1" height="5" fill="#44b07b"/>
<rect x="752" y="536" width="1" height="3" fill="#44b07b"/>
<rect x="757" y="532" width="1" height="5" fill="#e9465e"/>
<rect x="762" y="527" width="1" height="10" fill="#e9465e"/>
<rect x="767" y="525" width="1" height="12" fill="#e9465e"/>
<rect x="771" y="526" width="1" height="11" fill="#e9465e"/>
<rect x="776" y="529" width="1" height="8" fill="#e9465e"/>
<rect x="781" y="527" width="1" height="10" fill="#e9465e"/>
<rect x="786" y="528" width="1" height="9" fill="#e9465e"/>
<rect x="791" y="529" width="1" height="8" fill="#e9465e"/>
<rect x="796" y="528" width="1" height="9" fill="#e9465e"/>
<rect x="801" y="528" width="1" height="9" fill="#e9465e"/>
</g>
<g shape-rendering="crispEdges" fill="#000"><rect x="268" y="55" width="7" height="1"/><rect x="270" y="53" width="1" height="5"/>
<rect x="642" y="338" width="7" height="1"/><rect x="644" y="336" width="1" height="5"/></g>
<text x="275.5" y="52" font-size="12" font-weight="bold" fill="#e8435b">1.1213</text>
<text x="649.5" y="351" font-size="12" font-weight="bold" fill="#4fb98a">1.0177</text>
<text x="871.5" y="238" font-size="12.3" text-anchor="end" fill="#ff0000">1.0530</text>
<text x="871.5" y="246.6" font-size="12.3" text-anchor="end" fill="#ff0000">1.0500</text>
<text x="871.5" y="259.3" font-size="12.3" text-anchor="end" fill="#ff0000">1.0450</text>
<path d="M932,243 L940,243 L936,247 Z M932,247 L940,247 L936,251 Z" fill="#ff8000"/>
<text x="92.1" y="13.8" font-size="12" fill="#111" font-weight="500">欧元美元</text>
<text x="135.2" y="13.5" font-size="12" fill="#ff7f27" font-weight="bold">【</text>
<text x="150.8" y="13.5" font-size="12" fill="#ff7f27">日线</text>
<text x="177.6" y="13.5" font-size="12" fill="#ff7f27" font-weight="bold">】</text>
<text x="219.7" y="14" font-size="12.3" fill="#111" textLength="127.6" lengthAdjust="spacingAndGlyphs">MA(20,50,100,200,0,0)</text>
<text x="350.9" y="14" font-size="12.3" fill="#3d8df5" textLength="76.1" lengthAdjust="spacingAndGlyphs">MA20:1.0418</text>
<text x="434.1" y="14" font-size="12.3" fill="#41c089" textLength="75.3" lengthAdjust="spacingAndGlyphs">MA50:1.0389</text>
<text x="516.8" y="14" font-size="12.3" fill="#33a9e6" textLength="83.3" lengthAdjust="spacingAndGlyphs">MA100:1.0538</text>
<text x="606.7" y="14" font-size="12.3" fill="#ff8f3d" textLength="82.2" lengthAdjust="spacingAndGlyphs">MA200:1.0733</text>
<text x="696.7" y="14" font-size="12.3" fill="#e884e8" textLength="41.1" lengthAdjust="spacingAndGlyphs">MA0:1.</text>
<text x="91.5" y="374" font-size="12.3" fill="#111" textLength="69.0" lengthAdjust="spacingAndGlyphs">RSI(14,14,2)</text>
<text x="163.7" y="374" font-size="12.3" fill="#3d8df5" textLength="73.6" lengthAdjust="spacingAndGlyphs">RSI1:57.4021</text>
<text x="245.3" y="374" font-size="12.3" fill="#41c089" textLength="74.4" lengthAdjust="spacingAndGlyphs">RSI2:57.4021</text>
<text x="328.0" y="374" font-size="12.3" fill="#33a9e6" textLength="74.1" lengthAdjust="spacingAndGlyphs">RSI3:57.9772</text>
<text x="92.0" y="495.2" font-size="12.3" fill="#111" textLength="86.4" lengthAdjust="spacingAndGlyphs">MACD(26,12,9)</text>
<text x="181.6" y="495.2" font-size="12.3" fill="#3d8df5" textLength="65.9" lengthAdjust="spacingAndGlyphs">DIFF:0.0027</text>
<text x="255.8" y="495.2" font-size="12.3" fill="#41c089" textLength="65.1" lengthAdjust="spacingAndGlyphs">DEA:0.0017</text>
<text x="328.8" y="495.2" font-size="12.3" fill="#33a9e6" textLength="78.4" lengthAdjust="spacingAndGlyphs">MACD:0.0020</text>
<g fill="none" stroke="#ff7f27" stroke-width="1"><circle cx="192.5" cy="11.5" r="4"/><path d="M188,11.5h9M192.5,7v9"/></g>
<g><rect x="206" y="1.5" width="11" height="11.5" fill="#fff" stroke="#14148c" stroke-width="1.4"/><path d="M207,9 l2.5,-4 l2.5,3 l2.5,-4 l1.5,1.5" fill="none" stroke="#e02020" stroke-width="1.3"/><path d="M207,11 l2.5,-2 l2.5,1.5 l3.5,-2.5" fill="none" stroke="#2060e0" stroke-width="1"/></g>
<rect x="809.5" y="1.5" width="13" height="13" fill="#fff" stroke="#1a78d4" stroke-width="1" shape-rendering="crispEdges"/>
<rect x="825.5" y="1.5" width="13" height="13" fill="#fff" stroke="#1a78d4" stroke-width="1" shape-rendering="crispEdges"/>
<rect x="841.5" y="1.5" width="13" height="13" fill="#fff" stroke="#1a78d4" stroke-width="1" shape-rendering="crispEdges"/>
<rect x="857.5" y="1.5" width="13" height="13" fill="#fff" stroke="#1a78d4" stroke-width="1" shape-rendering="crispEdges"/>
<g fill="#1a78d4" shape-rendering="crispEdges"><rect x="815" y="3" width="2" height="3"/><rect x="815" y="10" width="2" height="3"/><rect x="811" y="7" width="3" height="2"/><rect x="818" y="7" width="3" height="2"/><rect x="815" y="7" width="2" height="2"/></g>
<path d="M828.5,3.5v9.5M827,11.5h10.5" fill="none" stroke="#1a78d4" stroke-width="1"/><path d="M827.2,5.2l1.3,-2l1.3,2zM827.2,12.2l1.3,1.6l1.3,-1.6z M835.6,10.2l2,1.3l-2,1.3z M828.6,10.2l-1.8,1.3l1.8,1.3z" fill="#1a78d4"/><rect x="831" y="4" width="1" height="6" fill="#1a78d4"/><path d="M835.2,4.6l-2.6,2.4l2.6,2.4z" fill="#1a78d4"/>
<path d="M844.5,3.5v9.5M843,11.5h10.5" fill="none" stroke="#1a78d4" stroke-width="1"/><path d="M843.2,5.2l1.3,-2l1.3,2zM843.2,12.2l1.3,1.6l1.3,-1.6z M851.6,10.2l2,1.3l-2,1.3z M844.6,10.2l-1.8,1.3l1.8,1.3z" fill="#1a78d4"/><path d="M847,4.4l5.2,2.8l-5.2,2.8z" fill="#1a78d4"/>
<rect x="859.5" y="3.5" width="3" height="9" fill="none" stroke="#1a78d4" stroke-width="1"/><rect x="861.5" y="6.7" width="4.5" height="1.8" fill="#1a78d4"/><path d="M865,4.8l3.6,2.8l-3.6,2.8z" fill="#1a78d4"/>
<path d="M27,484h4v1h-4zM26,485h1v1h-1zM31,485h1v1h-1zM25,486h1v4h-1zM32,486h1v4h-1zM26,490h1v1h-1zM31,490h1v1h-1zM27,491h4v1h-4z" fill="#000" shape-rendering="crispEdges"/>
<path d="M28,486h2v1h-2zM27,487h4v2h-4zM28,489h2v1h-2zM28,481h1v2h-1zM28,493h1v2h-1zM22,487h2v1h-2zM34,487h2v1h-2zM23,482h1v1h-1zM24,483h1v1h-1zM34,482h1v1h-1zM33,483h1v1h-1zM24,492h1v1h-1zM23,493h1v1h-1zM33,492h1v1h-1zM34,493h1v1h-1z" fill="#ff0000" shape-rendering="crispEdges"/>
<rect x="186" y="581" width="1" height="4" fill="#d3d9e4" shape-rendering="crispEdges"/>
<text x="187.8" y="594" font-size="12" font-weight="bold" fill="#1e1e3c" textLength="45.3" lengthAdjust="spacingAndGlyphs">2024/09</text>
<rect x="290" y="581" width="1" height="4" fill="#d3d9e4" shape-rendering="crispEdges"/>
<text x="291.8" y="594" font-size="12" font-weight="bold" fill="#1e1e3c" textLength="45.3" lengthAdjust="spacingAndGlyphs">2024/10</text>
<rect x="402" y="581" width="1" height="4" fill="#d3d9e4" shape-rendering="crispEdges"/>
<text x="403.8" y="594" font-size="12" font-weight="bold" fill="#1e1e3c" textLength="45.3" lengthAdjust="spacingAndGlyphs">2024/11</text>
<rect x="506" y="581" width="1" height="4" fill="#d3d9e4" shape-rendering="crispEdges"/>
<text x="507.8" y="594" font-size="12" font-weight="bold" fill="#1e1e3c" textLength="45.3" lengthAdjust="spacingAndGlyphs">2024/12</text>
<rect x="609" y="581" width="1" height="4" fill="#d3d9e4" shape-rendering="crispEdges"/>
<text x="610.8" y="594" font-size="12" font-weight="bold" fill="#1e1e3c" textLength="45.3" lengthAdjust="spacingAndGlyphs">2025/01</text>
<rect x="717" y="581" width="1" height="4" fill="#d3d9e4" shape-rendering="crispEdges"/>
<text x="718.8" y="594" font-size="12" font-weight="bold" fill="#1e1e3c" textLength="45.3" lengthAdjust="spacingAndGlyphs">2025/02</text>
<rect x="20.5" y="581.5" width="69" height="19" fill="#fff" stroke="#d3dae5"/>
<text x="34.5" y="596.4" font-size="13" font-weight="bold" fill="#ff7f00">日线</text>
<path d="M64.7,595.7 l4.3,-7.6 l4.3,7.6 z" fill="#ff7f00"/>
<rect x="20" y="601" width="39" height="15" fill="#ff6600"/>
<rect x="59" y="602" width="1" height="14" fill="#d0d7e2" shape-rendering="crispEdges"/>
<text x="27.5" y="613.3" font-size="12" fill="#fff" font-weight="500">指标</text>
<rect x="99" y="602" width="1" height="14" fill="#d0d7e2" shape-rendering="crispEdges"/>
<text x="67.0" y="613.3" font-size="12" fill="#1c1c2c" font-weight="400">模板</text>
<rect x="158" y="602" width="1" height="14" fill="#d0d7e2" shape-rendering="crispEdges"/>
<text x="107.5" y="613.1" font-size="13.5" fill="#ff7f00" style="font-family:'Liberation Mono','Noto Sans CJK SC',monospace" textLength="18" lengthAdjust="spacingAndGlyphs">VIP</text>
<text x="125.5" y="613.3" font-size="12" fill="#ff7f00" font-weight="400">指标</text>
<rect x="186" y="602" width="1" height="14" fill="#d0d7e2" shape-rendering="crispEdges"/>
<text x="166.0" y="613.1" font-size="13.5" fill="#1c1c2c" style="font-family:'Liberation Mono','Noto Sans CJK SC',monospace" textLength="12" lengthAdjust="spacingAndGlyphs">MA</text>
<rect x="186" y="601" width="39" height="15" fill="#ff6600"/>
<rect x="225" y="602" width="1" height="14" fill="#d0d7e2" shape-rendering="crispEdges"/>
<text x="193.5" y="613.1" font-size="13.5" fill="#fff" style="font-family:'Liberation Mono','Noto Sans CJK SC',monospace" textLength="24" lengthAdjust="spacingAndGlyphs">MACD</text>
<rect x="266" y="602" width="1" height="14" fill="#d0d7e2" shape-rendering="crispEdges"/>
<text x="233.5" y="613.1" font-size="13.5" fill="#1c1c2c" style="font-family:'Liberation Mono','Noto Sans CJK SC',monospace" textLength="24" lengthAdjust="spacingAndGlyphs">BIAS</text>
<rect x="299" y="602" width="1" height="14" fill="#d0d7e2" shape-rendering="crispEdges"/>
<text x="273.5" y="613.1" font-size="13.5" fill="#1c1c2c" style="font-family:'Liberation Mono','Noto Sans CJK SC',monospace" textLength="18" lengthAdjust="spacingAndGlyphs">CCI</text>
<rect x="333" y="602" width="1" height="14" fill="#d0d7e2" shape-rendering="crispEdges"/>
<text x="307.0" y="613.1" font-size="13.5" fill="#1c1c2c" style="font-family:'Liberation Mono','Noto Sans CJK SC',monospace" textLength="18" lengthAdjust="spacingAndGlyphs">KDJ</text>
<rect x="373" y="602" width="1" height="14" fill="#d0d7e2" shape-rendering="crispEdges"/>
<text x="344.0" y="613.1" font-size="13.5" fill="#1c1c2c" style="font-family:'Liberation Mono','Noto Sans CJK SC',monospace" textLength="18" lengthAdjust="spacingAndGlyphs">LW&amp;</text>
<rect x="407" y="602" width="1" height="14" fill="#d0d7e2" shape-rendering="crispEdges"/>
<text x="381.0" y="613.1" font-size="13.5" fill="#1c1c2c" style="font-family:'Liberation Mono','Noto Sans CJK SC',monospace" textLength="18" lengthAdjust="spacingAndGlyphs">RSI</text>
<rect x="435" y="602" width="1" height="14" fill="#d0d7e2" shape-rendering="crispEdges"/>
<text x="415.0" y="613.1" font-size="13.5" fill="#1c1c2c" style="font-family:'Liberation Mono','Noto Sans CJK SC',monospace" textLength="12" lengthAdjust="spacingAndGlyphs">CR</text>
<rect x="469" y="602" width="1" height="14" fill="#d0d7e2" shape-rendering="crispEdges"/>
<text x="443.0" y="613.1" font-size="13.5" fill="#1c1c2c" style="font-family:'Liberation Mono','Noto Sans CJK SC',monospace" textLength="18" lengthAdjust="spacingAndGlyphs">PSY</text>
<rect x="510" y="602" width="1" height="14" fill="#d0d7e2" shape-rendering="crispEdges"/>
<text x="477.5" y="613.1" font-size="13.5" fill="#1c1c2c" style="font-family:'Liberation Mono','Noto Sans CJK SC',monospace" textLength="24" lengthAdjust="spacingAndGlyphs">BOLL</text>
<rect x="543" y="602" width="1" height="14" fill="#d0d7e2" shape-rendering="crispEdges"/>
<text x="517.5" y="613.1" font-size="13.5" fill="#1c1c2c" style="font-family:'Liberation Mono','Noto Sans CJK SC',monospace" textLength="18" lengthAdjust="spacingAndGlyphs">VOL</text>
<rect x="583" y="602" width="1" height="14" fill="#d0d7e2" shape-rendering="crispEdges"/>
<text x="551.0" y="613.3" font-size="12" fill="#1c1c2c" font-weight="400">设置</text>
<rect x="20" y="616" width="922" height="1" fill="#d0d7e2" shape-rendering="crispEdges"/>
<g transform="matrix(1 0 0 1.06 0 -35.5)"><text x="813.7" y="593" font-size="30" fill="#c9b9a8" opacity="0.9">F<tspan dx="2.4">X</tspan><tspan dx="2.4">6</tspan><tspan dx="3.0">7</tspan><tspan dx="3.2">8</tspan></text>
<text x="812.6" y="592.2" font-size="30" fill="#d5e2f4">F<tspan dx="2.4">X</tspan><tspan dx="2.4">6</tspan><tspan dx="3.0">7</tspan><tspan dx="3.2">8</tspan></text></g>
</svg></body></html>
